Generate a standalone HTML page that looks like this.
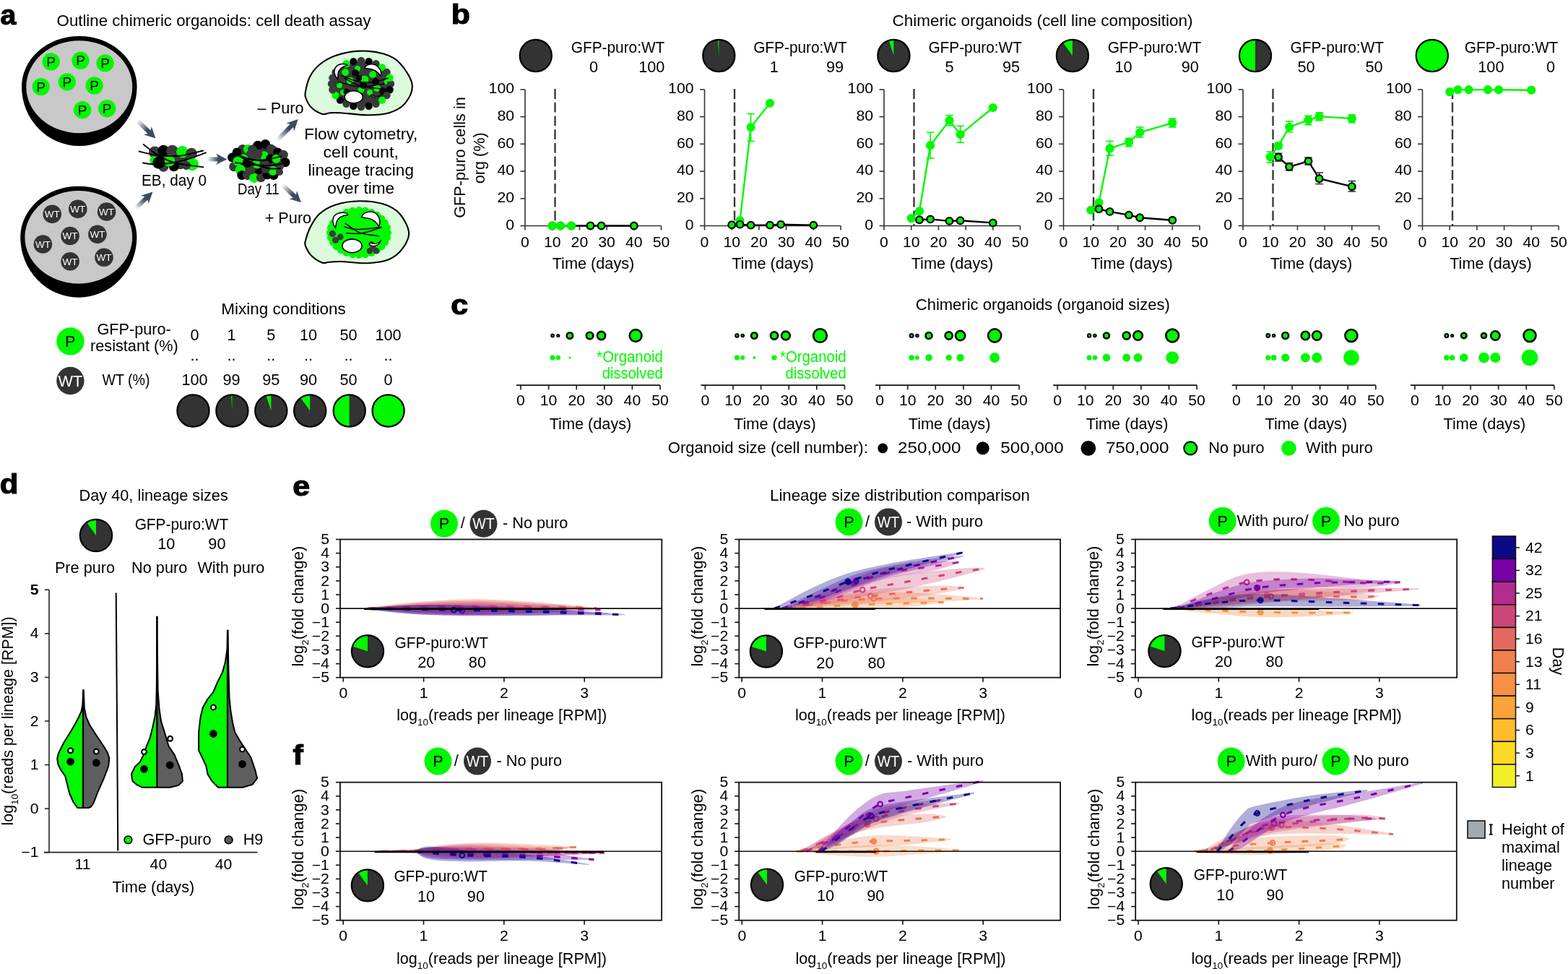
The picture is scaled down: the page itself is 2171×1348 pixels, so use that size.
<!DOCTYPE html>
<html><head><meta charset="utf-8"><title>Chimeric organoids figure</title>
<style>html,body{margin:0;padding:0;background:#fff;overflow:hidden}svg{display:block}text{font-family:'Liberation Sans', Arial, sans-serif}</style>
</head><body>
<svg width="2171" height="1348" viewBox="0 0 2171 1348" font-family="'Liberation Sans', Arial, sans-serif" fill="#000">
<rect width="2171" height="1348" fill="#fff"/>
<text x="0.5" y="34" font-size="39" font-weight="bold" stroke="#000" stroke-width="1.2">a</text>
<text x="78.6" y="36.2" font-size="21.9" textLength="435" lengthAdjust="spacingAndGlyphs">Outline chimeric organoids: cell death assay</text>
<path d="M30,120 A79.8,70 0 0 1 189.6,120 A79.8,82 0 0 1 30,120 Z" fill="#000"/>
<ellipse cx="109.8" cy="120.2" rx="73.5" ry="64" fill="#c8c8c8"/>
<circle cx="70.7" cy="85.4" r="12.2" fill="#00f800"/>
<text x="70.7" y="92" font-size="19" text-anchor="middle">P</text>
<circle cx="111.5" cy="83.8" r="12.2" fill="#00f800"/>
<text x="111.5" y="90.4" font-size="19" text-anchor="middle">P</text>
<circle cx="145.5" cy="87.4" r="12.2" fill="#00f800"/>
<text x="145.5" y="94" font-size="19" text-anchor="middle">P</text>
<circle cx="56.7" cy="120.1" r="12.2" fill="#00f800"/>
<text x="56.7" y="126.7" font-size="19" text-anchor="middle">P</text>
<circle cx="92.8" cy="113.4" r="12.2" fill="#00f800"/>
<text x="92.8" y="120" font-size="19" text-anchor="middle">P</text>
<circle cx="130.6" cy="118.5" r="12.2" fill="#00f800"/>
<text x="130.6" y="125.1" font-size="19" text-anchor="middle">P</text>
<circle cx="114.1" cy="152.2" r="12.2" fill="#00f800"/>
<text x="114.1" y="158.8" font-size="19" text-anchor="middle">P</text>
<circle cx="148.2" cy="150.2" r="12.2" fill="#00f800"/>
<text x="148.2" y="156.8" font-size="19" text-anchor="middle">P</text>
<path d="M28.2,328.2 A80.6,70.5 0 0 1 189.4,328.2 A80.6,83.5 0 0 1 28.2,328.2 Z" fill="#000"/>
<ellipse cx="108.8" cy="328.2" rx="74.4" ry="64.2" fill="#c8c8c8"/>
<circle cx="72.2" cy="296.3" r="12.8" fill="#333333"/>
<text x="72.2" y="301.1" font-size="13.5" text-anchor="middle" fill="#fff">WT</text>
<circle cx="107.8" cy="289.2" r="12.8" fill="#333333"/>
<text x="107.8" y="294" font-size="13.5" text-anchor="middle" fill="#fff">WT</text>
<circle cx="147.6" cy="293" r="12.8" fill="#333333"/>
<text x="147.6" y="297.8" font-size="13.5" text-anchor="middle" fill="#fff">WT</text>
<circle cx="59.4" cy="338" r="12.8" fill="#333333"/>
<text x="59.4" y="342.8" font-size="13.5" text-anchor="middle" fill="#fff">WT</text>
<circle cx="97.1" cy="326.5" r="12.8" fill="#333333"/>
<text x="97.1" y="331.3" font-size="13.5" text-anchor="middle" fill="#fff">WT</text>
<circle cx="134.9" cy="324.2" r="12.8" fill="#333333"/>
<text x="134.9" y="329" font-size="13.5" text-anchor="middle" fill="#fff">WT</text>
<circle cx="97.1" cy="361.8" r="12.8" fill="#333333"/>
<text x="97.1" y="366.6" font-size="13.5" text-anchor="middle" fill="#fff">WT</text>
<circle cx="144" cy="356.2" r="12.8" fill="#333333"/>
<text x="144" y="361" font-size="13.5" text-anchor="middle" fill="#fff">WT</text>
<linearGradient id="ga1" gradientUnits="userSpaceOnUse" x1="190" y1="166.6" x2="204" y2="180.3"><stop offset="0" stop-color="#fff"/><stop offset="1" stop-color="#3e4a60"/></linearGradient>
<path d="M187.9,168.7 L204.4,184.9 L198.9,186.2 L215.4,191.5 L209.8,175.1 L208.6,180.6 L192.1,164.5Z" fill="url(#ga1)"/>
<linearGradient id="ga2" gradientUnits="userSpaceOnUse" x1="187.7" y1="288.2" x2="200.8" y2="275.8"><stop offset="0" stop-color="#fff"/><stop offset="1" stop-color="#3e4a60"/></linearGradient>
<path d="M189.8,290.4 L204.5,276.4 L205.6,281.9 L211.5,265.6 L194.9,270.7 L200.4,272 L185.6,286Z" fill="url(#ga2)"/>
<linearGradient id="ga3" gradientUnits="userSpaceOnUse" x1="286.7" y1="220.2" x2="301.9" y2="220.4"><stop offset="0" stop-color="#fff"/><stop offset="1" stop-color="#3e4a60"/></linearGradient>
<path d="M286.7,223.2 L301.8,223.4 L298.7,228.1 L314.3,220.6 L298.9,212.6 L301.8,217.4 L286.7,217.2Z" fill="url(#ga3)"/>
<linearGradient id="ga4" gradientUnits="userSpaceOnUse" x1="383.4" y1="194.3" x2="399.5" y2="178.2"><stop offset="0" stop-color="#fff"/><stop offset="1" stop-color="#3e4a60"/></linearGradient>
<path d="M385.5,196.4 L406,176 L407.2,181.4 L412.7,165 L396.3,170.5 L401.7,171.7 L381.3,192.2Z" fill="url(#ga4)"/>
<linearGradient id="ga5" gradientUnits="userSpaceOnUse" x1="391" y1="255.8" x2="405.3" y2="269.3"><stop offset="0" stop-color="#fff"/><stop offset="1" stop-color="#3e4a60"/></linearGradient>
<path d="M388.9,258 L405.8,273.9 L400.4,275.3 L417,280.3 L411,264 L410,269.5 L393.1,253.6Z" fill="url(#ga5)"/>
<ellipse cx="240" cy="220" rx="26" ry="11" fill="#3a3a3a"/>
<circle cx="214.3" cy="210.9" r="8.3" fill="#3a3a3a"/>
<circle cx="226.4" cy="208.6" r="7.8" fill="#000"/>
<circle cx="238.6" cy="209.2" r="8.5" fill="#3a3a3a"/>
<circle cx="252.4" cy="210.3" r="8.2" fill="#00f800"/>
<circle cx="265.1" cy="212.5" r="7.8" fill="#3a3a3a"/>
<circle cx="213.2" cy="221.9" r="6" fill="#00f800"/>
<circle cx="249.6" cy="226.3" r="8" fill="#3a3a3a"/>
<circle cx="226.4" cy="230.7" r="7" fill="#3a3a3a"/>
<circle cx="240.8" cy="230.2" r="7" fill="#000"/>
<circle cx="234.2" cy="222.5" r="8" fill="#00f800"/>
<circle cx="219.8" cy="225.2" r="8.5" fill="#000"/>
<circle cx="266.2" cy="227.4" r="8.8" fill="#00f800"/>
<circle cx="258" cy="229" r="6" fill="#3a3a3a"/>
<path d="M198.7,199.9 C201.8,202.2 210.4,209.6 217.4,213.8 C224.4,218 230,222.1 240.7,225 C251.3,227.9 274.5,230.2 281.3,231.3" fill="none" stroke="#000" stroke-width="1.9" stroke-linecap="round"/>
<path d="M192.6,209.5 C196.7,210.4 208.1,213.8 217.4,214.8 C226.7,215.9 237.7,216.9 248.3,215.8 C258.9,214.8 275.8,209.7 281.3,208.5" fill="none" stroke="#000" stroke-width="1.9" stroke-linecap="round"/>
<path d="M197.9,225.5 C200.8,225.8 208.3,227.6 215.4,227.5 C222.5,227.4 232.3,226.5 240.7,225 C249.1,223.5 258.6,220.7 266,218.4 C273.4,216.1 281.7,212.5 284.8,211.3" fill="none" stroke="#000" stroke-width="1.9" stroke-linecap="round"/>
<text x="196" y="256.7" font-size="21.7" textLength="90" lengthAdjust="spacingAndGlyphs">EB, day 0</text>
<ellipse cx="358" cy="223" rx="36" ry="23" fill="#3a3a3a"/>
<circle cx="356.9" cy="201.5" r="6.8" fill="#000"/>
<circle cx="367.4" cy="199.8" r="6.8" fill="#000"/>
<circle cx="335.9" cy="206.4" r="6.5" fill="#3a3a3a"/>
<circle cx="343.6" cy="206.4" r="6.5" fill="#00f800"/>
<circle cx="349.5" cy="207" r="6.5" fill="#3a3a3a"/>
<circle cx="375" cy="206" r="6.5" fill="#3a3a3a"/>
<circle cx="328.1" cy="210.9" r="6.5" fill="#000"/>
<circle cx="321.5" cy="218" r="6.5" fill="#000"/>
<circle cx="379" cy="208.5" r="6.5" fill="#3a3a3a"/>
<circle cx="384.5" cy="210.9" r="6.5" fill="#000"/>
<circle cx="392.3" cy="214.2" r="6.5" fill="#3a3a3a"/>
<circle cx="395" cy="224.7" r="6.5" fill="#000"/>
<circle cx="386.7" cy="229.6" r="6.5" fill="#3a3a3a"/>
<circle cx="323.7" cy="230.7" r="6.5" fill="#3a3a3a"/>
<circle cx="332.6" cy="235.2" r="7" fill="#00f800"/>
<circle cx="334.8" cy="242.4" r="6.5" fill="#000"/>
<circle cx="342.5" cy="242.4" r="6.5" fill="#3a3a3a"/>
<circle cx="351.9" cy="246.2" r="6.8" fill="#00f800"/>
<circle cx="361.3" cy="245.7" r="6.5" fill="#3a3a3a"/>
<circle cx="370.1" cy="241.8" r="6.5" fill="#000"/>
<circle cx="379" cy="242.4" r="6.5" fill="#000"/>
<circle cx="377.9" cy="236.3" r="6.5" fill="#00f800"/>
<circle cx="358" cy="235.2" r="6" fill="#000"/>
<circle cx="348" cy="235.2" r="6" fill="#3a3a3a"/>
<circle cx="365.7" cy="215.3" r="6" fill="#00f800"/>
<circle cx="356.9" cy="213.1" r="6.5" fill="#3a3a3a"/>
<circle cx="347" cy="214" r="6.5" fill="#3a3a3a"/>
<circle cx="337" cy="219.7" r="6.5" fill="#00f800"/>
<circle cx="342.5" cy="225.2" r="6.5" fill="#000"/>
<circle cx="351" cy="222" r="6.5" fill="#3a3a3a"/>
<circle cx="356" cy="227" r="6.5" fill="#00f800"/>
<circle cx="374.6" cy="219.7" r="6.5" fill="#000"/>
<circle cx="382.3" cy="219.7" r="6" fill="#00f800"/>
<circle cx="366" cy="226" r="6.5" fill="#3a3a3a"/>
<circle cx="329" cy="223" r="6.5" fill="#00f800"/>
<circle cx="368" cy="234" r="6" fill="#3a3a3a"/>
<circle cx="387" cy="238" r="5" fill="#3a3a3a"/>
<path d="M327,213 C330,214.2 338.7,218.5 345,220 C351.3,221.5 357.5,222.7 365,222 C372.5,221.3 385.8,217 390,216" fill="none" stroke="#000" stroke-width="2"/>
<path d="M325,225 C329.2,225.5 341.7,227.3 350,228 C358.3,228.7 367.8,229.3 375,229 C382.2,228.7 390,226.5 393,226" fill="none" stroke="#000" stroke-width="2"/>
<path d="M330,215 C333.3,216.8 343,223 350,226 C357,229 365.5,231.8 372,233 C378.5,234.2 386.2,233 389,233" fill="none" stroke="#000" stroke-width="2"/>
<text x="329" y="269.3" font-size="21.7" textLength="57.5" lengthAdjust="spacingAndGlyphs">Day 11</text>
<path d="M423,126.6 C423.9,121.8 425.7,112.7 428.9,106.5 C432.1,100.3 436.4,94.4 442.3,89.5 C448.2,84.6 455.2,80.1 464.5,76.9 C473.8,73.8 486.8,71 497.9,70.6 C509,70.2 522,71.8 531.3,74.6 C540.6,77.4 547,80.2 553.5,87.3 C560,94.3 569.4,107.6 570.6,116.9 C571.9,126.2 566.3,136.4 561,142.9 C555.7,149.4 547.4,153.5 538.7,156.2 C530,158.9 520.1,159.2 509,159.2 C497.9,159.2 480.5,156.7 471.9,156.2 C463.2,155.7 461.4,155.9 457.1,156.2 C452.8,156.4 450.3,158.9 446,157.7 C441.7,156.5 434.9,152.5 431.1,148.8 C427.3,145.1 424.7,139.2 423.3,135.5 C421.9,131.8 422.1,131.4 423,126.6Z" fill="#dcfadc" stroke="#000" stroke-width="2.1"/>
<path d="M423,333.1 C424.1,328.8 426.4,320.7 429.6,314.5 C432.8,308.3 436.5,301.2 442.3,296 C448.1,290.8 455.2,286.4 464.5,283.4 C473.8,280.4 486.8,278.3 497.9,278.2 C509,278.1 522,279.6 531.3,282.6 C540.6,285.6 547.7,289.4 553.5,296 C559.3,302.6 565.5,313.9 566.1,321.9 C566.7,329.9 561.8,338 557.2,344.2 C552.6,350.4 546.7,355.7 538.7,359 C530.7,362.3 520.1,363.7 509,364.2 C497.9,364.7 480.8,362.2 471.9,362 C463,361.8 459.9,362.4 455.6,362.7 C451.3,362.9 450.1,365 446,363.5 C441.9,362 434.9,357.6 431.1,353.8 C427.3,350 424.4,343.9 423,340.5 C421.6,337.1 421.9,337.4 423,333.1Z" fill="#dcfadc" stroke="#000" stroke-width="2.1"/>
<ellipse cx="500" cy="116" rx="40" ry="31" fill="#3a3a3a"/>
<circle cx="478" cy="100" r="5" fill="#00f800"/>
<circle cx="495" cy="95" r="4" fill="#00f800"/>
<circle cx="505" cy="110" r="5.5" fill="#00f800"/>
<circle cx="485" cy="112" r="5" fill="#00f800"/>
<circle cx="516" cy="103" r="5" fill="#00f800"/>
<circle cx="470" cy="118" r="4" fill="#00f800"/>
<circle cx="500" cy="124" r="4.5" fill="#00f800"/>
<circle cx="522" cy="122" r="5" fill="#00f800"/>
<circle cx="512" cy="128" r="4" fill="#00f800"/>
<circle cx="475" cy="128" r="4" fill="#00f800"/>
<circle cx="536" cy="113" r="4" fill="#00f800"/>
<circle cx="492" cy="101" r="5" fill="#000"/>
<circle cx="510" cy="96" r="5" fill="#3a3a3a"/>
<circle cx="488" cy="120" r="5" fill="#3a3a3a"/>
<circle cx="503" cy="118" r="5" fill="#000"/>
<circle cx="520" cy="113" r="5" fill="#000"/>
<circle cx="465" cy="112" r="5" fill="#3a3a3a"/>
<circle cx="497" cy="108" r="4" fill="#000"/>
<circle cx="530" cy="126" r="5" fill="#000"/>
<circle cx="480" cy="127" r="4.5" fill="#000"/>
<circle cx="512" cy="120" r="4" fill="#3a3a3a"/>
<circle cx="541" cy="116" r="5.2" fill="#3a3a3a"/>
<circle cx="539.6" cy="124.3" r="5.2" fill="#000"/>
<circle cx="535.5" cy="132" r="5.2" fill="#3a3a3a"/>
<circle cx="529" cy="138.6" r="5.2" fill="#00f800"/>
<circle cx="520.5" cy="143.7" r="5.2" fill="#3a3a3a"/>
<circle cx="510.6" cy="146.9" r="5.2" fill="#000"/>
<circle cx="500" cy="148" r="5.2" fill="#3a3a3a"/>
<circle cx="489.4" cy="146.9" r="5.2" fill="#000"/>
<circle cx="479.5" cy="143.7" r="5.2" fill="#3a3a3a"/>
<circle cx="471" cy="138.6" r="5.2" fill="#000"/>
<circle cx="464.5" cy="132" r="5.2" fill="#00f800"/>
<circle cx="460.4" cy="124.3" r="5.2" fill="#3a3a3a"/>
<circle cx="459" cy="116" r="5.2" fill="#3a3a3a"/>
<circle cx="460.4" cy="107.7" r="5.2" fill="#3a3a3a"/>
<circle cx="464.5" cy="100" r="5.2" fill="#3a3a3a"/>
<circle cx="471" cy="93.4" r="5.2" fill="#3a3a3a"/>
<circle cx="479.5" cy="88.3" r="5.2" fill="#00f800"/>
<circle cx="489.4" cy="85.1" r="5.2" fill="#000"/>
<circle cx="500" cy="84" r="5.2" fill="#3a3a3a"/>
<circle cx="510.6" cy="85.1" r="5.2" fill="#000"/>
<circle cx="520.5" cy="88.3" r="5.2" fill="#3a3a3a"/>
<circle cx="529" cy="93.4" r="5.2" fill="#00f800"/>
<circle cx="535.5" cy="100" r="5.2" fill="#3a3a3a"/>
<circle cx="539.6" cy="107.7" r="5.2" fill="#00f800"/>
<path d="M472,104 C475.3,105.3 484.8,110.3 492,112 C499.2,113.7 507.3,114.7 515,114 C522.7,113.3 534.2,109 538,108" fill="none" stroke="#000" stroke-width="1.4"/>
<path d="M468,113 C473,114.2 487.3,119.5 498,120 C508.7,120.5 526.3,116.7 532,116" fill="none" stroke="#000" stroke-width="1.4"/>
<path d="M476,108 C480,109.8 491,116.5 500,119 C509,121.5 525,122.3 530,123" fill="none" stroke="#000" stroke-width="1.4"/>
<ellipse cx="489.7" cy="134.3" rx="12.6" ry="8.6" fill="#fff" stroke="#000" stroke-width="1.6"/>
<path d="M467.5,109.5 C460,101 462,91 471.9,88.7 C476,88 480,89 480.8,90.2 C474,92 469,96 468,102 Z" fill="#fff" stroke="#000" stroke-width="1.5"/>
<path d="M505.3,93.2 C510,87 520,87 525.3,94.7 C528,98 528,102 526.8,105 C523,99 518,95 505.3,94.5 Z" fill="#fff" stroke="#000" stroke-width="1.5"/>
<path d="M513.5,131.8 C518,137 526,136 529.8,129.5 C526,134 519,135 515,131 Z" fill="#fff" stroke="#000" stroke-width="1.2"/>
<ellipse cx="497" cy="322" rx="40" ry="31" fill="#00f800"/>
<circle cx="537" cy="322" r="5" fill="#00f800"/>
<circle cx="536" cy="328.9" r="5" fill="#00f800"/>
<circle cx="533" cy="335.5" r="5" fill="#00f800"/>
<circle cx="528.3" cy="341.3" r="5" fill="#00f800"/>
<circle cx="521.9" cy="346.2" r="5" fill="#00f800"/>
<circle cx="514.4" cy="349.9" r="5" fill="#00f800"/>
<circle cx="505.9" cy="352.2" r="5" fill="#00f800"/>
<circle cx="497" cy="353" r="5" fill="#00f800"/>
<circle cx="488.1" cy="352.2" r="5" fill="#00f800"/>
<circle cx="479.6" cy="349.9" r="5" fill="#00f800"/>
<circle cx="472.1" cy="346.2" r="5" fill="#00f800"/>
<circle cx="465.7" cy="341.3" r="5" fill="#00f800"/>
<circle cx="461" cy="335.5" r="5" fill="#00f800"/>
<circle cx="458" cy="328.9" r="5" fill="#00f800"/>
<circle cx="457" cy="322" r="5" fill="#00f800"/>
<circle cx="458" cy="315.1" r="5" fill="#00f800"/>
<circle cx="461" cy="308.5" r="5" fill="#00f800"/>
<circle cx="465.7" cy="302.7" r="5" fill="#00f800"/>
<circle cx="472.1" cy="297.8" r="5" fill="#00f800"/>
<circle cx="479.6" cy="294.1" r="5" fill="#00f800"/>
<circle cx="488.1" cy="291.8" r="5" fill="#00f800"/>
<circle cx="497" cy="291" r="5" fill="#00f800"/>
<circle cx="505.9" cy="291.8" r="5" fill="#00f800"/>
<circle cx="514.4" cy="294.1" r="5" fill="#00f800"/>
<circle cx="521.9" cy="297.8" r="5" fill="#00f800"/>
<circle cx="528.3" cy="302.7" r="5" fill="#00f800"/>
<circle cx="533" cy="308.5" r="5" fill="#00f800"/>
<circle cx="536" cy="315.1" r="5" fill="#00f800"/>
<circle cx="460.4" cy="323.4" r="4.6" fill="#3a3a3a"/>
<circle cx="464.5" cy="332.3" r="4.6" fill="#3a3a3a"/>
<circle cx="471.2" cy="327.9" r="4.3" fill="#3a3a3a"/>
<circle cx="514.2" cy="337.5" r="3.6" fill="#3a3a3a"/>
<circle cx="512" cy="347.1" r="4.4" fill="#3a3a3a"/>
<circle cx="520.9" cy="347.1" r="4.4" fill="#3a3a3a"/>
<circle cx="516.5" cy="343" r="4" fill="#3a3a3a"/>
<path d="M477.9,308.9 C481.2,311.1 490.1,318.9 497.9,321.9 C505.7,324.9 520.1,326 524.6,326.8" fill="none" stroke="#000" stroke-width="1.5"/>
<path d="M476.4,313.8 C479.4,314.4 485.6,317.4 494.2,317.5 C502.8,317.6 522.6,315 528.3,314.5" fill="none" stroke="#000" stroke-width="1.5"/>
<path d="M479.3,322.7 C483,322.7 493.4,324.1 501.6,322.7 C509.8,321.3 523.8,315.9 528.3,314.5" fill="none" stroke="#000" stroke-width="1.5"/>
<ellipse cx="487.5" cy="340.3" rx="13.5" ry="9.4" fill="#fff" stroke="#000" stroke-width="1.6"/>
<path d="M464.5,315.3 C458,306 460,296 471.9,294.5 C477,294 481,295 481.6,297.4 C475,298 468,301 466,307 Z" fill="#fff" stroke="#000" stroke-width="1.5"/>
<path d="M500.5,300.4 C503,293 516,290 522.4,297 C527,303 526,310 524.6,313.8 C521,306 514,302 505,301.5 Z" fill="#fff" stroke="#000" stroke-width="1.5"/>
<path d="M511.2,338.2 C517,343 525,340 527.6,332.3 C525,337 518,339 513,336 Z" fill="#fff" stroke="#000" stroke-width="1.2"/>
<text x="420.5" y="157.3" font-size="21.7" text-anchor="end">– Puro</text>
<text x="431.2" y="309.2" font-size="21.7" text-anchor="end">+ Puro</text>
<text x="499.7" y="192.9" font-size="21.7" text-anchor="middle" textLength="157" lengthAdjust="spacingAndGlyphs">Flow cytometry,</text>
<text x="499.7" y="217.8" font-size="21.7" text-anchor="middle" textLength="104.5" lengthAdjust="spacingAndGlyphs">cell count,</text>
<text x="499.7" y="242.8" font-size="21.7" text-anchor="middle" textLength="146.5" lengthAdjust="spacingAndGlyphs">lineage tracing</text>
<text x="499.7" y="267.8" font-size="21.7" text-anchor="middle" textLength="93" lengthAdjust="spacingAndGlyphs">over time</text>
<text x="392.5" y="435.3" font-size="21.7" text-anchor="middle" textLength="172.5" lengthAdjust="spacingAndGlyphs">Mixing conditions</text>
<circle cx="97.4" cy="472.4" r="19.2" fill="#00f800"/>
<text x="97.3" y="480.2" font-size="21.7" text-anchor="middle">P</text>
<circle cx="97.4" cy="527" r="19.2" fill="#333333"/>
<text x="97.3" y="534.6" font-size="21.7" text-anchor="middle" fill="#fff">WT</text>
<text x="185.6" y="462.9" font-size="21.7" text-anchor="middle">GFP-puro-</text>
<text x="185.9" y="486.4" font-size="21.7" text-anchor="middle">resistant (%)</text>
<text x="174.5" y="532.8" font-size="21.7" text-anchor="middle" textLength="66" lengthAdjust="spacingAndGlyphs">WT (%)</text>
<text x="269.5" y="471.2" font-size="21.7" text-anchor="middle">0</text>
<text x="269.5" y="499.4" font-size="21.7" text-anchor="middle">..</text>
<text x="269.5" y="532.8" font-size="21.7" text-anchor="middle">100</text>
<text x="320.6" y="471.2" font-size="21.7" text-anchor="middle">1</text>
<text x="320.6" y="499.4" font-size="21.7" text-anchor="middle">..</text>
<text x="320.6" y="532.8" font-size="21.7" text-anchor="middle">99</text>
<text x="375.3" y="471.2" font-size="21.7" text-anchor="middle">5</text>
<text x="375.3" y="499.4" font-size="21.7" text-anchor="middle">..</text>
<text x="375.3" y="532.8" font-size="21.7" text-anchor="middle">95</text>
<text x="427" y="471.2" font-size="21.7" text-anchor="middle">10</text>
<text x="427" y="499.4" font-size="21.7" text-anchor="middle">..</text>
<text x="427" y="532.8" font-size="21.7" text-anchor="middle">90</text>
<text x="482.5" y="471.2" font-size="21.7" text-anchor="middle">50</text>
<text x="482.5" y="499.4" font-size="21.7" text-anchor="middle">..</text>
<text x="482.5" y="532.8" font-size="21.7" text-anchor="middle">50</text>
<text x="537.6" y="471.2" font-size="21.7" text-anchor="middle">100</text>
<text x="537.6" y="499.4" font-size="21.7" text-anchor="middle">..</text>
<text x="537.6" y="532.8" font-size="21.7" text-anchor="middle">0</text>
<circle cx="267.5" cy="568.5" r="22.1" fill="#333333"/>
<circle cx="267.5" cy="568.5" r="22.1" fill="none" stroke="#000" stroke-width="2.2"/>
<circle cx="321.4" cy="568.5" r="22.1" fill="#333333"/>
<path d="M321.4,568.5 L321.4,546.4 A22.1,22.1 0 0 0 320,546.4 Z" fill="#00f800"/>
<circle cx="321.4" cy="568.5" r="22.1" fill="none" stroke="#000" stroke-width="2.2"/>
<circle cx="375.3" cy="568.5" r="22.1" fill="#333333"/>
<path d="M375.3,568.5 L375.3,546.4 A22.1,22.1 0 0 0 368.5,547.5 Z" fill="#00f800"/>
<circle cx="375.3" cy="568.5" r="22.1" fill="none" stroke="#000" stroke-width="2.2"/>
<circle cx="429.2" cy="568.5" r="22.1" fill="#333333"/>
<path d="M429.2,568.5 L429.2,546.4 A22.1,22.1 0 0 0 416.2,550.6 Z" fill="#00f800"/>
<circle cx="429.2" cy="568.5" r="22.1" fill="none" stroke="#000" stroke-width="2.2"/>
<circle cx="483.7" cy="568.5" r="22.1" fill="#333333"/>
<path d="M483.7,568.5 L483.7,546.4 A22.1,22.1 0 0 0 483.7,590.6 Z" fill="#00f800"/>
<circle cx="483.7" cy="568.5" r="22.1" fill="none" stroke="#000" stroke-width="2.2"/>
<circle cx="537.6" cy="568.5" r="22.1" fill="#333333"/>
<circle cx="537.6" cy="568.5" r="22.1" fill="#00f800"/>
<circle cx="537.6" cy="568.5" r="22.1" fill="none" stroke="#000" stroke-width="2.2"/>
<text transform="translate(624.8,33.2) scale(1.1,1)" font-size="39" font-weight="bold" stroke="#000" stroke-width="1.2">b</text>
<text x="1235.6" y="35.6" font-size="21.9" textLength="416" lengthAdjust="spacingAndGlyphs">Chimeric organoids (cell line composition)</text>
<circle cx="741.8" cy="77" r="22.1" fill="#333333"/>
<circle cx="741.8" cy="77" r="22.1" fill="none" stroke="#000" stroke-width="2.2"/>
<text x="790.8" y="73" font-size="21.7" textLength="129.5" lengthAdjust="spacingAndGlyphs">GFP-puro:WT</text>
<text x="822" y="99.9" font-size="21.7" text-anchor="middle">0</text>
<text x="920.4" y="99.9" font-size="21.7" text-anchor="end">100</text>
<circle cx="995.3" cy="77" r="22.1" fill="#333333"/>
<path d="M995.3,77 L995.3,54.9 A22.1,22.1 0 0 0 993.9,54.9 Z" fill="#00f800"/>
<circle cx="995.3" cy="77" r="22.1" fill="none" stroke="#000" stroke-width="2.2"/>
<text x="1043.2" y="73" font-size="21.7" textLength="129.5" lengthAdjust="spacingAndGlyphs">GFP-puro:WT</text>
<text x="1071.8" y="99.9" font-size="21.7" text-anchor="middle">1</text>
<text x="1168.2" y="99.9" font-size="21.7" text-anchor="end">99</text>
<circle cx="1237.4" cy="77" r="22.1" fill="#333333"/>
<path d="M1237.4,77 L1237.4,54.9 A22.1,22.1 0 0 0 1230.6,56 Z" fill="#00f800"/>
<circle cx="1237.4" cy="77" r="22.1" fill="none" stroke="#000" stroke-width="2.2"/>
<text x="1285.4" y="73" font-size="21.7" textLength="129.5" lengthAdjust="spacingAndGlyphs">GFP-puro:WT</text>
<text x="1314.5" y="99.9" font-size="21.7" text-anchor="middle">5</text>
<text x="1412.1" y="99.9" font-size="21.7" text-anchor="end">95</text>
<circle cx="1484.9" cy="77" r="22.1" fill="#333333"/>
<path d="M1484.9,77 L1484.9,54.9 A22.1,22.1 0 0 0 1471.9,59.1 Z" fill="#00f800"/>
<circle cx="1484.9" cy="77" r="22.1" fill="none" stroke="#000" stroke-width="2.2"/>
<text x="1533.7" y="73" font-size="21.7" textLength="129.5" lengthAdjust="spacingAndGlyphs">GFP-puro:WT</text>
<text x="1555.5" y="99.9" font-size="21.7" text-anchor="middle">10</text>
<text x="1659.8" y="99.9" font-size="21.7" text-anchor="end">90</text>
<circle cx="1738" cy="77" r="22.1" fill="#333333"/>
<path d="M1738,77 L1738,54.9 A22.1,22.1 0 0 0 1738,99.1 Z" fill="#00f800"/>
<circle cx="1738" cy="77" r="22.1" fill="none" stroke="#000" stroke-width="2.2"/>
<text x="1786.5" y="73" font-size="21.7" textLength="129.5" lengthAdjust="spacingAndGlyphs">GFP-puro:WT</text>
<text x="1808.6" y="99.9" font-size="21.7" text-anchor="middle">50</text>
<text x="1914.5" y="99.9" font-size="21.7" text-anchor="end">50</text>
<circle cx="1982.8" cy="77" r="22.1" fill="#333333"/>
<circle cx="1982.8" cy="77" r="22.1" fill="#00f800"/>
<circle cx="1982.8" cy="77" r="22.1" fill="none" stroke="#000" stroke-width="2.2"/>
<text x="2027.8" y="73" font-size="21.7" textLength="129.5" lengthAdjust="spacingAndGlyphs">GFP-puro:WT</text>
<text x="2064.4" y="99.9" font-size="21.7" text-anchor="middle">100</text>
<text x="2153" y="99.9" font-size="21.7" text-anchor="end">0</text>
<path d="M727,123.9 V312.5 H915.5" fill="none" stroke="#333" stroke-width="1.6"/>
<line x1="720.5" y1="312.5" x2="727" y2="312.5" stroke="#333" stroke-width="1.6" />
<text transform="translate(712,317.8) scale(1.1,1)" font-size="19.3" text-anchor="end">0</text>
<line x1="727" y1="312.5" x2="727" y2="318.5" stroke="#333" stroke-width="1.6" />
<text transform="translate(727,341.5) scale(1.1,1)" font-size="19.3" text-anchor="middle">0</text>
<line x1="720.5" y1="274.8" x2="727" y2="274.8" stroke="#333" stroke-width="1.6" />
<text transform="translate(712,280.1) scale(1.1,1)" font-size="19.3" text-anchor="end">20</text>
<line x1="764.7" y1="312.5" x2="764.7" y2="318.5" stroke="#333" stroke-width="1.6" />
<text transform="translate(764.7,341.5) scale(1.1,1)" font-size="19.3" text-anchor="middle">10</text>
<line x1="720.5" y1="237.1" x2="727" y2="237.1" stroke="#333" stroke-width="1.6" />
<text transform="translate(712,242.4) scale(1.1,1)" font-size="19.3" text-anchor="end">40</text>
<line x1="802.4" y1="312.5" x2="802.4" y2="318.5" stroke="#333" stroke-width="1.6" />
<text transform="translate(802.4,341.5) scale(1.1,1)" font-size="19.3" text-anchor="middle">20</text>
<line x1="720.5" y1="199.3" x2="727" y2="199.3" stroke="#333" stroke-width="1.6" />
<text transform="translate(712,204.6) scale(1.1,1)" font-size="19.3" text-anchor="end">60</text>
<line x1="840.1" y1="312.5" x2="840.1" y2="318.5" stroke="#333" stroke-width="1.6" />
<text transform="translate(840.1,341.5) scale(1.1,1)" font-size="19.3" text-anchor="middle">30</text>
<line x1="720.5" y1="161.6" x2="727" y2="161.6" stroke="#333" stroke-width="1.6" />
<text transform="translate(712,166.9) scale(1.1,1)" font-size="19.3" text-anchor="end">80</text>
<line x1="877.8" y1="312.5" x2="877.8" y2="318.5" stroke="#333" stroke-width="1.6" />
<text transform="translate(877.8,341.5) scale(1.1,1)" font-size="19.3" text-anchor="middle">40</text>
<line x1="720.5" y1="123.9" x2="727" y2="123.9" stroke="#333" stroke-width="1.6" />
<text transform="translate(712,129.2) scale(1.1,1)" font-size="19.3" text-anchor="end">100</text>
<line x1="915.5" y1="312.5" x2="915.5" y2="318.5" stroke="#333" stroke-width="1.6" />
<text transform="translate(915.5,341.5) scale(1.1,1)" font-size="19.3" text-anchor="middle">50</text>
<text x="821.5" y="372" font-size="21.7" text-anchor="middle">Time (days)</text>
<line x1="768.5" y1="123.1" x2="768.5" y2="312.5" stroke="#3a3a3a" stroke-width="2.4" stroke-dasharray="13.8,4.9"/>
<path d="M764.7,312.5 L776,312.5 L791.1,312.5 L817.5,312.5 L832.6,312.5 L877.8,312.5" fill="none" stroke="#000" stroke-width="2.4"/>
<circle cx="764.7" cy="312.5" r="4.8" fill="#00f800" stroke="#000" stroke-width="2.3"/>
<circle cx="776" cy="312.5" r="4.8" fill="#00f800" stroke="#000" stroke-width="2.3"/>
<circle cx="791.1" cy="312.5" r="4.8" fill="#00f800" stroke="#000" stroke-width="2.3"/>
<circle cx="817.5" cy="312.5" r="4.8" fill="#00f800" stroke="#000" stroke-width="2.3"/>
<circle cx="832.6" cy="312.5" r="4.8" fill="#00f800" stroke="#000" stroke-width="2.3"/>
<circle cx="877.8" cy="312.5" r="4.8" fill="#00f800" stroke="#000" stroke-width="2.3"/>
<path d="M764.7,312.5 L776,312.5 L791.1,312.5" fill="none" stroke="#00f800" stroke-width="2.4"/>
<circle cx="764.7" cy="312.5" r="6.1" fill="#00f800"/>
<circle cx="776" cy="312.5" r="6.1" fill="#00f800"/>
<circle cx="791.1" cy="312.5" r="6.1" fill="#00f800"/>
<path d="M975.5,123.9 V312.5 H1164" fill="none" stroke="#333" stroke-width="1.6"/>
<line x1="969" y1="312.5" x2="975.5" y2="312.5" stroke="#333" stroke-width="1.6" />
<text transform="translate(960.5,317.8) scale(1.1,1)" font-size="19.3" text-anchor="end">0</text>
<line x1="975.5" y1="312.5" x2="975.5" y2="318.5" stroke="#333" stroke-width="1.6" />
<text transform="translate(975.5,341.5) scale(1.1,1)" font-size="19.3" text-anchor="middle">0</text>
<line x1="969" y1="274.8" x2="975.5" y2="274.8" stroke="#333" stroke-width="1.6" />
<text transform="translate(960.5,280.1) scale(1.1,1)" font-size="19.3" text-anchor="end">20</text>
<line x1="1013.2" y1="312.5" x2="1013.2" y2="318.5" stroke="#333" stroke-width="1.6" />
<text transform="translate(1013.2,341.5) scale(1.1,1)" font-size="19.3" text-anchor="middle">10</text>
<line x1="969" y1="237.1" x2="975.5" y2="237.1" stroke="#333" stroke-width="1.6" />
<text transform="translate(960.5,242.4) scale(1.1,1)" font-size="19.3" text-anchor="end">40</text>
<line x1="1050.9" y1="312.5" x2="1050.9" y2="318.5" stroke="#333" stroke-width="1.6" />
<text transform="translate(1050.9,341.5) scale(1.1,1)" font-size="19.3" text-anchor="middle">20</text>
<line x1="969" y1="199.3" x2="975.5" y2="199.3" stroke="#333" stroke-width="1.6" />
<text transform="translate(960.5,204.6) scale(1.1,1)" font-size="19.3" text-anchor="end">60</text>
<line x1="1088.6" y1="312.5" x2="1088.6" y2="318.5" stroke="#333" stroke-width="1.6" />
<text transform="translate(1088.6,341.5) scale(1.1,1)" font-size="19.3" text-anchor="middle">30</text>
<line x1="969" y1="161.6" x2="975.5" y2="161.6" stroke="#333" stroke-width="1.6" />
<text transform="translate(960.5,166.9) scale(1.1,1)" font-size="19.3" text-anchor="end">80</text>
<line x1="1126.3" y1="312.5" x2="1126.3" y2="318.5" stroke="#333" stroke-width="1.6" />
<text transform="translate(1126.3,341.5) scale(1.1,1)" font-size="19.3" text-anchor="middle">40</text>
<line x1="969" y1="123.9" x2="975.5" y2="123.9" stroke="#333" stroke-width="1.6" />
<text transform="translate(960.5,129.2) scale(1.1,1)" font-size="19.3" text-anchor="end">100</text>
<line x1="1164" y1="312.5" x2="1164" y2="318.5" stroke="#333" stroke-width="1.6" />
<text transform="translate(1164,341.5) scale(1.1,1)" font-size="19.3" text-anchor="middle">50</text>
<text x="1070" y="372" font-size="21.7" text-anchor="middle">Time (days)</text>
<line x1="1017" y1="123.1" x2="1017" y2="312.5" stroke="#3a3a3a" stroke-width="2.4" stroke-dasharray="13.8,4.9"/>
<path d="M1024.5,305.3 L1039.6,176.1 L1066,142.8" fill="none" stroke="#00f800" stroke-width="2.4"/>
<line x1="1039.6" y1="195.4" x2="1039.6" y2="157.5" stroke="#00f800" stroke-width="1.6" />
<line x1="1034.3" y1="195.4" x2="1044.9" y2="195.4" stroke="#00f800" stroke-width="1.6" />
<line x1="1034.3" y1="157.5" x2="1044.9" y2="157.5" stroke="#00f800" stroke-width="1.6" />
<circle cx="1024.5" cy="305.3" r="6.1" fill="#00f800"/>
<circle cx="1039.6" cy="176.1" r="6.1" fill="#00f800"/>
<circle cx="1066" cy="142.8" r="6.1" fill="#00f800"/>
<path d="M1013.2,311.2 L1024.5,310.6 L1039.6,311.6 L1066,311.6 L1081.1,310.6 L1126.3,311.6" fill="none" stroke="#000" stroke-width="2.4"/>
<circle cx="1013.2" cy="311.2" r="4.8" fill="#00f800" stroke="#000" stroke-width="2.3"/>
<circle cx="1024.5" cy="310.6" r="4.8" fill="#00f800" stroke="#000" stroke-width="2.3"/>
<circle cx="1039.6" cy="311.6" r="4.8" fill="#00f800" stroke="#000" stroke-width="2.3"/>
<circle cx="1066" cy="311.6" r="4.8" fill="#00f800" stroke="#000" stroke-width="2.3"/>
<circle cx="1081.1" cy="310.6" r="4.8" fill="#00f800" stroke="#000" stroke-width="2.3"/>
<circle cx="1126.3" cy="311.6" r="4.8" fill="#00f800" stroke="#000" stroke-width="2.3"/>
<path d="M1224,123.9 V312.5 H1412.5" fill="none" stroke="#333" stroke-width="1.6"/>
<line x1="1217.5" y1="312.5" x2="1224" y2="312.5" stroke="#333" stroke-width="1.6" />
<text transform="translate(1209,317.8) scale(1.1,1)" font-size="19.3" text-anchor="end">0</text>
<line x1="1224" y1="312.5" x2="1224" y2="318.5" stroke="#333" stroke-width="1.6" />
<text transform="translate(1224,341.5) scale(1.1,1)" font-size="19.3" text-anchor="middle">0</text>
<line x1="1217.5" y1="274.8" x2="1224" y2="274.8" stroke="#333" stroke-width="1.6" />
<text transform="translate(1209,280.1) scale(1.1,1)" font-size="19.3" text-anchor="end">20</text>
<line x1="1261.7" y1="312.5" x2="1261.7" y2="318.5" stroke="#333" stroke-width="1.6" />
<text transform="translate(1261.7,341.5) scale(1.1,1)" font-size="19.3" text-anchor="middle">10</text>
<line x1="1217.5" y1="237.1" x2="1224" y2="237.1" stroke="#333" stroke-width="1.6" />
<text transform="translate(1209,242.4) scale(1.1,1)" font-size="19.3" text-anchor="end">40</text>
<line x1="1299.4" y1="312.5" x2="1299.4" y2="318.5" stroke="#333" stroke-width="1.6" />
<text transform="translate(1299.4,341.5) scale(1.1,1)" font-size="19.3" text-anchor="middle">20</text>
<line x1="1217.5" y1="199.3" x2="1224" y2="199.3" stroke="#333" stroke-width="1.6" />
<text transform="translate(1209,204.6) scale(1.1,1)" font-size="19.3" text-anchor="end">60</text>
<line x1="1337.1" y1="312.5" x2="1337.1" y2="318.5" stroke="#333" stroke-width="1.6" />
<text transform="translate(1337.1,341.5) scale(1.1,1)" font-size="19.3" text-anchor="middle">30</text>
<line x1="1217.5" y1="161.6" x2="1224" y2="161.6" stroke="#333" stroke-width="1.6" />
<text transform="translate(1209,166.9) scale(1.1,1)" font-size="19.3" text-anchor="end">80</text>
<line x1="1374.8" y1="312.5" x2="1374.8" y2="318.5" stroke="#333" stroke-width="1.6" />
<text transform="translate(1374.8,341.5) scale(1.1,1)" font-size="19.3" text-anchor="middle">40</text>
<line x1="1217.5" y1="123.9" x2="1224" y2="123.9" stroke="#333" stroke-width="1.6" />
<text transform="translate(1209,129.2) scale(1.1,1)" font-size="19.3" text-anchor="end">100</text>
<line x1="1412.5" y1="312.5" x2="1412.5" y2="318.5" stroke="#333" stroke-width="1.6" />
<text transform="translate(1412.5,341.5) scale(1.1,1)" font-size="19.3" text-anchor="middle">50</text>
<text x="1318.5" y="372" font-size="21.7" text-anchor="middle">Time (days)</text>
<line x1="1265.5" y1="123.1" x2="1265.5" y2="312.5" stroke="#3a3a3a" stroke-width="2.4" stroke-dasharray="13.8,4.9"/>
<path d="M1261.7,302.1 L1273,292.3 L1288.1,201.2 L1314.5,166.7 L1329.6,186.1 L1374.8,149" fill="none" stroke="#00f800" stroke-width="2.4"/>
<line x1="1288.1" y1="219" x2="1288.1" y2="183.3" stroke="#00f800" stroke-width="1.6" />
<line x1="1282.8" y1="219" x2="1293.4" y2="219" stroke="#00f800" stroke-width="1.6" />
<line x1="1282.8" y1="183.3" x2="1293.4" y2="183.3" stroke="#00f800" stroke-width="1.6" />
<line x1="1314.5" y1="173.7" x2="1314.5" y2="159.7" stroke="#00f800" stroke-width="1.6" />
<line x1="1309.2" y1="173.7" x2="1319.8" y2="173.7" stroke="#00f800" stroke-width="1.6" />
<line x1="1309.2" y1="159.7" x2="1319.8" y2="159.7" stroke="#00f800" stroke-width="1.6" />
<line x1="1329.6" y1="197.3" x2="1329.6" y2="174.4" stroke="#00f800" stroke-width="1.6" />
<line x1="1324.3" y1="197.3" x2="1334.9" y2="197.3" stroke="#00f800" stroke-width="1.6" />
<line x1="1324.3" y1="174.4" x2="1334.9" y2="174.4" stroke="#00f800" stroke-width="1.6" />
<circle cx="1261.7" cy="302.1" r="6.1" fill="#00f800"/>
<circle cx="1273" cy="292.3" r="6.1" fill="#00f800"/>
<circle cx="1288.1" cy="201.2" r="6.1" fill="#00f800"/>
<circle cx="1314.5" cy="166.7" r="6.1" fill="#00f800"/>
<circle cx="1329.6" cy="186.1" r="6.1" fill="#00f800"/>
<circle cx="1374.8" cy="149" r="6.1" fill="#00f800"/>
<path d="M1273,304.2 L1288.1,303.4 L1314.5,305.9 L1329.6,305.3 L1374.8,308.4" fill="none" stroke="#000" stroke-width="2.4"/>
<circle cx="1273" cy="304.2" r="4.8" fill="#00f800" stroke="#000" stroke-width="2.3"/>
<circle cx="1288.1" cy="303.4" r="4.8" fill="#00f800" stroke="#000" stroke-width="2.3"/>
<circle cx="1314.5" cy="305.9" r="4.8" fill="#00f800" stroke="#000" stroke-width="2.3"/>
<circle cx="1329.6" cy="305.3" r="4.8" fill="#00f800" stroke="#000" stroke-width="2.3"/>
<circle cx="1374.8" cy="308.4" r="4.8" fill="#00f800" stroke="#000" stroke-width="2.3"/>
<path d="M1472.5,123.9 V312.5 H1661" fill="none" stroke="#333" stroke-width="1.6"/>
<line x1="1466" y1="312.5" x2="1472.5" y2="312.5" stroke="#333" stroke-width="1.6" />
<text transform="translate(1457.5,317.8) scale(1.1,1)" font-size="19.3" text-anchor="end">0</text>
<line x1="1472.5" y1="312.5" x2="1472.5" y2="318.5" stroke="#333" stroke-width="1.6" />
<text transform="translate(1472.5,341.5) scale(1.1,1)" font-size="19.3" text-anchor="middle">0</text>
<line x1="1466" y1="274.8" x2="1472.5" y2="274.8" stroke="#333" stroke-width="1.6" />
<text transform="translate(1457.5,280.1) scale(1.1,1)" font-size="19.3" text-anchor="end">20</text>
<line x1="1510.2" y1="312.5" x2="1510.2" y2="318.5" stroke="#333" stroke-width="1.6" />
<text transform="translate(1510.2,341.5) scale(1.1,1)" font-size="19.3" text-anchor="middle">10</text>
<line x1="1466" y1="237.1" x2="1472.5" y2="237.1" stroke="#333" stroke-width="1.6" />
<text transform="translate(1457.5,242.4) scale(1.1,1)" font-size="19.3" text-anchor="end">40</text>
<line x1="1547.9" y1="312.5" x2="1547.9" y2="318.5" stroke="#333" stroke-width="1.6" />
<text transform="translate(1547.9,341.5) scale(1.1,1)" font-size="19.3" text-anchor="middle">20</text>
<line x1="1466" y1="199.3" x2="1472.5" y2="199.3" stroke="#333" stroke-width="1.6" />
<text transform="translate(1457.5,204.6) scale(1.1,1)" font-size="19.3" text-anchor="end">60</text>
<line x1="1585.6" y1="312.5" x2="1585.6" y2="318.5" stroke="#333" stroke-width="1.6" />
<text transform="translate(1585.6,341.5) scale(1.1,1)" font-size="19.3" text-anchor="middle">30</text>
<line x1="1466" y1="161.6" x2="1472.5" y2="161.6" stroke="#333" stroke-width="1.6" />
<text transform="translate(1457.5,166.9) scale(1.1,1)" font-size="19.3" text-anchor="end">80</text>
<line x1="1623.3" y1="312.5" x2="1623.3" y2="318.5" stroke="#333" stroke-width="1.6" />
<text transform="translate(1623.3,341.5) scale(1.1,1)" font-size="19.3" text-anchor="middle">40</text>
<line x1="1466" y1="123.9" x2="1472.5" y2="123.9" stroke="#333" stroke-width="1.6" />
<text transform="translate(1457.5,129.2) scale(1.1,1)" font-size="19.3" text-anchor="end">100</text>
<line x1="1661" y1="312.5" x2="1661" y2="318.5" stroke="#333" stroke-width="1.6" />
<text transform="translate(1661,341.5) scale(1.1,1)" font-size="19.3" text-anchor="middle">50</text>
<text x="1567" y="372" font-size="21.7" text-anchor="middle">Time (days)</text>
<line x1="1514" y1="123.1" x2="1514" y2="312.5" stroke="#3a3a3a" stroke-width="2.4" stroke-dasharray="13.8,4.9"/>
<path d="M1510.2,290.8 L1521.5,280.4 L1536.6,205.4 L1563,196.7 L1578.1,183.3 L1623.3,170.1" fill="none" stroke="#00f800" stroke-width="2.4"/>
<line x1="1536.6" y1="215.2" x2="1536.6" y2="195.4" stroke="#00f800" stroke-width="1.6" />
<line x1="1531.3" y1="215.2" x2="1541.9" y2="215.2" stroke="#00f800" stroke-width="1.6" />
<line x1="1531.3" y1="195.4" x2="1541.9" y2="195.4" stroke="#00f800" stroke-width="1.6" />
<line x1="1563" y1="202.7" x2="1563" y2="191.4" stroke="#00f800" stroke-width="1.6" />
<line x1="1557.7" y1="202.7" x2="1568.3" y2="202.7" stroke="#00f800" stroke-width="1.6" />
<line x1="1557.7" y1="191.4" x2="1568.3" y2="191.4" stroke="#00f800" stroke-width="1.6" />
<line x1="1578.1" y1="189.9" x2="1578.1" y2="176" stroke="#00f800" stroke-width="1.6" />
<line x1="1572.8" y1="189.9" x2="1583.4" y2="189.9" stroke="#00f800" stroke-width="1.6" />
<line x1="1572.8" y1="176" x2="1583.4" y2="176" stroke="#00f800" stroke-width="1.6" />
<line x1="1623.3" y1="176" x2="1623.3" y2="164.1" stroke="#00f800" stroke-width="1.6" />
<line x1="1618" y1="176" x2="1628.6" y2="176" stroke="#00f800" stroke-width="1.6" />
<line x1="1618" y1="164.1" x2="1628.6" y2="164.1" stroke="#00f800" stroke-width="1.6" />
<circle cx="1510.2" cy="290.8" r="6.1" fill="#00f800"/>
<circle cx="1521.5" cy="280.4" r="6.1" fill="#00f800"/>
<circle cx="1536.6" cy="205.4" r="6.1" fill="#00f800"/>
<circle cx="1563" cy="196.7" r="6.1" fill="#00f800"/>
<circle cx="1578.1" cy="183.3" r="6.1" fill="#00f800"/>
<circle cx="1623.3" cy="170.1" r="6.1" fill="#00f800"/>
<path d="M1521.5,289.3 L1536.6,292.9 L1563,297.6 L1578.1,301.2 L1623.3,304.8" fill="none" stroke="#000" stroke-width="2.4"/>
<circle cx="1521.5" cy="289.3" r="4.8" fill="#00f800" stroke="#000" stroke-width="2.3"/>
<circle cx="1536.6" cy="292.9" r="4.8" fill="#00f800" stroke="#000" stroke-width="2.3"/>
<circle cx="1563" cy="297.6" r="4.8" fill="#00f800" stroke="#000" stroke-width="2.3"/>
<circle cx="1578.1" cy="301.2" r="4.8" fill="#00f800" stroke="#000" stroke-width="2.3"/>
<circle cx="1623.3" cy="304.8" r="4.8" fill="#00f800" stroke="#000" stroke-width="2.3"/>
<path d="M1721,123.9 V312.5 H1909.5" fill="none" stroke="#333" stroke-width="1.6"/>
<line x1="1714.5" y1="312.5" x2="1721" y2="312.5" stroke="#333" stroke-width="1.6" />
<text transform="translate(1706,317.8) scale(1.1,1)" font-size="19.3" text-anchor="end">0</text>
<line x1="1721" y1="312.5" x2="1721" y2="318.5" stroke="#333" stroke-width="1.6" />
<text transform="translate(1721,341.5) scale(1.1,1)" font-size="19.3" text-anchor="middle">0</text>
<line x1="1714.5" y1="274.8" x2="1721" y2="274.8" stroke="#333" stroke-width="1.6" />
<text transform="translate(1706,280.1) scale(1.1,1)" font-size="19.3" text-anchor="end">20</text>
<line x1="1758.7" y1="312.5" x2="1758.7" y2="318.5" stroke="#333" stroke-width="1.6" />
<text transform="translate(1758.7,341.5) scale(1.1,1)" font-size="19.3" text-anchor="middle">10</text>
<line x1="1714.5" y1="237.1" x2="1721" y2="237.1" stroke="#333" stroke-width="1.6" />
<text transform="translate(1706,242.4) scale(1.1,1)" font-size="19.3" text-anchor="end">40</text>
<line x1="1796.4" y1="312.5" x2="1796.4" y2="318.5" stroke="#333" stroke-width="1.6" />
<text transform="translate(1796.4,341.5) scale(1.1,1)" font-size="19.3" text-anchor="middle">20</text>
<line x1="1714.5" y1="199.3" x2="1721" y2="199.3" stroke="#333" stroke-width="1.6" />
<text transform="translate(1706,204.6) scale(1.1,1)" font-size="19.3" text-anchor="end">60</text>
<line x1="1834.1" y1="312.5" x2="1834.1" y2="318.5" stroke="#333" stroke-width="1.6" />
<text transform="translate(1834.1,341.5) scale(1.1,1)" font-size="19.3" text-anchor="middle">30</text>
<line x1="1714.5" y1="161.6" x2="1721" y2="161.6" stroke="#333" stroke-width="1.6" />
<text transform="translate(1706,166.9) scale(1.1,1)" font-size="19.3" text-anchor="end">80</text>
<line x1="1871.8" y1="312.5" x2="1871.8" y2="318.5" stroke="#333" stroke-width="1.6" />
<text transform="translate(1871.8,341.5) scale(1.1,1)" font-size="19.3" text-anchor="middle">40</text>
<line x1="1714.5" y1="123.9" x2="1721" y2="123.9" stroke="#333" stroke-width="1.6" />
<text transform="translate(1706,129.2) scale(1.1,1)" font-size="19.3" text-anchor="end">100</text>
<line x1="1909.5" y1="312.5" x2="1909.5" y2="318.5" stroke="#333" stroke-width="1.6" />
<text transform="translate(1909.5,341.5) scale(1.1,1)" font-size="19.3" text-anchor="middle">50</text>
<text x="1815.5" y="372" font-size="21.7" text-anchor="middle">Time (days)</text>
<line x1="1762.5" y1="123.1" x2="1762.5" y2="312.5" stroke="#3a3a3a" stroke-width="2.4" stroke-dasharray="13.8,4.9"/>
<path d="M1758.7,217.3 L1770,201.8 L1785.1,175.8 L1811.5,166.1 L1826.6,161.1 L1871.8,164.1" fill="none" stroke="#00f800" stroke-width="2.4"/>
<line x1="1758.7" y1="225" x2="1758.7" y2="210.1" stroke="#00f800" stroke-width="1.6" />
<line x1="1753.4" y1="225" x2="1764" y2="225" stroke="#00f800" stroke-width="1.6" />
<line x1="1753.4" y1="210.1" x2="1764" y2="210.1" stroke="#00f800" stroke-width="1.6" />
<line x1="1770" y1="205.9" x2="1770" y2="197.6" stroke="#00f800" stroke-width="1.6" />
<line x1="1764.7" y1="205.9" x2="1775.3" y2="205.9" stroke="#00f800" stroke-width="1.6" />
<line x1="1764.7" y1="197.6" x2="1775.3" y2="197.6" stroke="#00f800" stroke-width="1.6" />
<line x1="1785.1" y1="182.7" x2="1785.1" y2="168" stroke="#00f800" stroke-width="1.6" />
<line x1="1779.8" y1="182.7" x2="1790.4" y2="182.7" stroke="#00f800" stroke-width="1.6" />
<line x1="1779.8" y1="168" x2="1790.4" y2="168" stroke="#00f800" stroke-width="1.6" />
<line x1="1811.5" y1="172.7" x2="1811.5" y2="160.3" stroke="#00f800" stroke-width="1.6" />
<line x1="1806.2" y1="172.7" x2="1816.8" y2="172.7" stroke="#00f800" stroke-width="1.6" />
<line x1="1806.2" y1="160.3" x2="1816.8" y2="160.3" stroke="#00f800" stroke-width="1.6" />
<line x1="1826.6" y1="166.7" x2="1826.6" y2="155.8" stroke="#00f800" stroke-width="1.6" />
<line x1="1821.3" y1="166.7" x2="1831.9" y2="166.7" stroke="#00f800" stroke-width="1.6" />
<line x1="1821.3" y1="155.8" x2="1831.9" y2="155.8" stroke="#00f800" stroke-width="1.6" />
<line x1="1871.8" y1="169.7" x2="1871.8" y2="158.8" stroke="#00f800" stroke-width="1.6" />
<line x1="1866.5" y1="169.7" x2="1877.1" y2="169.7" stroke="#00f800" stroke-width="1.6" />
<line x1="1866.5" y1="158.8" x2="1877.1" y2="158.8" stroke="#00f800" stroke-width="1.6" />
<circle cx="1758.7" cy="217.3" r="6.1" fill="#00f800"/>
<circle cx="1770" cy="201.8" r="6.1" fill="#00f800"/>
<circle cx="1785.1" cy="175.8" r="6.1" fill="#00f800"/>
<circle cx="1811.5" cy="166.1" r="6.1" fill="#00f800"/>
<circle cx="1826.6" cy="161.1" r="6.1" fill="#00f800"/>
<circle cx="1871.8" cy="164.1" r="6.1" fill="#00f800"/>
<path d="M1770,217.4 L1785.1,230.8 L1811.5,223.1 L1826.6,247.2 L1871.8,258.2" fill="none" stroke="#000" stroke-width="2.4"/>
<line x1="1770" y1="223.1" x2="1770" y2="212.2" stroke="#333" stroke-width="1.6" />
<line x1="1764.7" y1="223.1" x2="1775.3" y2="223.1" stroke="#333" stroke-width="1.6" />
<line x1="1764.7" y1="212.2" x2="1775.3" y2="212.2" stroke="#333" stroke-width="1.6" />
<line x1="1785.1" y1="235.9" x2="1785.1" y2="225.6" stroke="#333" stroke-width="1.6" />
<line x1="1779.8" y1="235.9" x2="1790.4" y2="235.9" stroke="#333" stroke-width="1.6" />
<line x1="1779.8" y1="225.6" x2="1790.4" y2="225.6" stroke="#333" stroke-width="1.6" />
<line x1="1811.5" y1="227.8" x2="1811.5" y2="218" stroke="#333" stroke-width="1.6" />
<line x1="1806.2" y1="227.8" x2="1816.8" y2="227.8" stroke="#333" stroke-width="1.6" />
<line x1="1806.2" y1="218" x2="1816.8" y2="218" stroke="#333" stroke-width="1.6" />
<line x1="1826.6" y1="254.6" x2="1826.6" y2="238.9" stroke="#333" stroke-width="1.6" />
<line x1="1821.3" y1="254.6" x2="1831.9" y2="254.6" stroke="#333" stroke-width="1.6" />
<line x1="1821.3" y1="238.9" x2="1831.9" y2="238.9" stroke="#333" stroke-width="1.6" />
<line x1="1871.8" y1="265" x2="1871.8" y2="250.6" stroke="#333" stroke-width="1.6" />
<line x1="1866.5" y1="265" x2="1877.1" y2="265" stroke="#333" stroke-width="1.6" />
<line x1="1866.5" y1="250.6" x2="1877.1" y2="250.6" stroke="#333" stroke-width="1.6" />
<circle cx="1770" cy="217.4" r="4.8" fill="#00f800" stroke="#000" stroke-width="2.3"/>
<circle cx="1785.1" cy="230.8" r="4.8" fill="#00f800" stroke="#000" stroke-width="2.3"/>
<circle cx="1811.5" cy="223.1" r="4.8" fill="#00f800" stroke="#000" stroke-width="2.3"/>
<circle cx="1826.6" cy="247.2" r="4.8" fill="#00f800" stroke="#000" stroke-width="2.3"/>
<circle cx="1871.8" cy="258.2" r="4.8" fill="#00f800" stroke="#000" stroke-width="2.3"/>
<path d="M1969.5,123.9 V312.5 H2158" fill="none" stroke="#333" stroke-width="1.6"/>
<line x1="1963" y1="312.5" x2="1969.5" y2="312.5" stroke="#333" stroke-width="1.6" />
<text transform="translate(1954.5,317.8) scale(1.1,1)" font-size="19.3" text-anchor="end">0</text>
<line x1="1969.5" y1="312.5" x2="1969.5" y2="318.5" stroke="#333" stroke-width="1.6" />
<text transform="translate(1969.5,341.5) scale(1.1,1)" font-size="19.3" text-anchor="middle">0</text>
<line x1="1963" y1="274.8" x2="1969.5" y2="274.8" stroke="#333" stroke-width="1.6" />
<text transform="translate(1954.5,280.1) scale(1.1,1)" font-size="19.3" text-anchor="end">20</text>
<line x1="2007.2" y1="312.5" x2="2007.2" y2="318.5" stroke="#333" stroke-width="1.6" />
<text transform="translate(2007.2,341.5) scale(1.1,1)" font-size="19.3" text-anchor="middle">10</text>
<line x1="1963" y1="237.1" x2="1969.5" y2="237.1" stroke="#333" stroke-width="1.6" />
<text transform="translate(1954.5,242.4) scale(1.1,1)" font-size="19.3" text-anchor="end">40</text>
<line x1="2044.9" y1="312.5" x2="2044.9" y2="318.5" stroke="#333" stroke-width="1.6" />
<text transform="translate(2044.9,341.5) scale(1.1,1)" font-size="19.3" text-anchor="middle">20</text>
<line x1="1963" y1="199.3" x2="1969.5" y2="199.3" stroke="#333" stroke-width="1.6" />
<text transform="translate(1954.5,204.6) scale(1.1,1)" font-size="19.3" text-anchor="end">60</text>
<line x1="2082.6" y1="312.5" x2="2082.6" y2="318.5" stroke="#333" stroke-width="1.6" />
<text transform="translate(2082.6,341.5) scale(1.1,1)" font-size="19.3" text-anchor="middle">30</text>
<line x1="1963" y1="161.6" x2="1969.5" y2="161.6" stroke="#333" stroke-width="1.6" />
<text transform="translate(1954.5,166.9) scale(1.1,1)" font-size="19.3" text-anchor="end">80</text>
<line x1="2120.3" y1="312.5" x2="2120.3" y2="318.5" stroke="#333" stroke-width="1.6" />
<text transform="translate(2120.3,341.5) scale(1.1,1)" font-size="19.3" text-anchor="middle">40</text>
<line x1="1963" y1="123.9" x2="1969.5" y2="123.9" stroke="#333" stroke-width="1.6" />
<text transform="translate(1954.5,129.2) scale(1.1,1)" font-size="19.3" text-anchor="end">100</text>
<line x1="2158" y1="312.5" x2="2158" y2="318.5" stroke="#333" stroke-width="1.6" />
<text transform="translate(2158,341.5) scale(1.1,1)" font-size="19.3" text-anchor="middle">50</text>
<text x="2064" y="372" font-size="21.7" text-anchor="middle">Time (days)</text>
<line x1="2011" y1="123.1" x2="2011" y2="312.5" stroke="#3a3a3a" stroke-width="2.4" stroke-dasharray="13.8,4.9"/>
<path d="M2007.2,127.1 L2018.5,124.1 L2033.6,124.1 L2060,124.1 L2075.1,124.3 L2120.3,124.7" fill="none" stroke="#00f800" stroke-width="2.4"/>
<circle cx="2007.2" cy="127.1" r="6.1" fill="#00f800"/>
<circle cx="2018.5" cy="124.1" r="6.1" fill="#00f800"/>
<circle cx="2033.6" cy="124.1" r="6.1" fill="#00f800"/>
<circle cx="2060" cy="124.1" r="6.1" fill="#00f800"/>
<circle cx="2075.1" cy="124.3" r="6.1" fill="#00f800"/>
<circle cx="2120.3" cy="124.7" r="6.1" fill="#00f800"/>
<text transform="translate(643.5,218) rotate(-90)" font-size="21.7" text-anchor="middle">GFP-puro cells in</text>
<text transform="translate(671.4,218.8) rotate(-90)" font-size="21.7" text-anchor="middle">org (%)</text>
<text transform="translate(624.3,435) scale(1.1,1)" font-size="39" font-weight="bold" stroke="#000" stroke-width="1.2">c</text>
<text x="1267.8" y="429.2" font-size="21.9" textLength="352" lengthAdjust="spacingAndGlyphs">Chimeric organoids (organoid sizes)</text>
<line x1="715" y1="533.2" x2="914" y2="533.2" stroke="#111" stroke-width="1.8" />
<line x1="721" y1="533.2" x2="721" y2="539.2" stroke="#111" stroke-width="1.6" />
<text transform="translate(721,560.5) scale(1.1,1)" font-size="19.3" text-anchor="middle">0</text>
<line x1="759.6" y1="533.2" x2="759.6" y2="539.2" stroke="#111" stroke-width="1.6" />
<text transform="translate(759.6,560.5) scale(1.1,1)" font-size="19.3" text-anchor="middle">10</text>
<line x1="798.2" y1="533.2" x2="798.2" y2="539.2" stroke="#111" stroke-width="1.6" />
<text transform="translate(798.2,560.5) scale(1.1,1)" font-size="19.3" text-anchor="middle">20</text>
<line x1="836.8" y1="533.2" x2="836.8" y2="539.2" stroke="#111" stroke-width="1.6" />
<text transform="translate(836.8,560.5) scale(1.1,1)" font-size="19.3" text-anchor="middle">30</text>
<line x1="875.4" y1="533.2" x2="875.4" y2="539.2" stroke="#111" stroke-width="1.6" />
<text transform="translate(875.4,560.5) scale(1.1,1)" font-size="19.3" text-anchor="middle">40</text>
<line x1="914" y1="533.2" x2="914" y2="539.2" stroke="#111" stroke-width="1.6" />
<text transform="translate(914,560.5) scale(1.1,1)" font-size="19.3" text-anchor="middle">50</text>
<text x="817.5" y="593.7" font-size="21.7" text-anchor="middle">Time (days)</text>
<circle cx="765" cy="464.5" r="1.9" fill="#00f800" stroke="#000" stroke-width="2"/>
<circle cx="772.8" cy="464.5" r="1.6" fill="#00f800" stroke="#000" stroke-width="2"/>
<circle cx="788.9" cy="464.5" r="4.2" fill="#00f800" stroke="#000" stroke-width="2.6"/>
<circle cx="816.6" cy="464.5" r="4.8" fill="#00f800" stroke="#000" stroke-width="2.6"/>
<circle cx="832.5" cy="464.5" r="5.6" fill="#00f800" stroke="#000" stroke-width="2.6"/>
<circle cx="880.1" cy="464.5" r="8.4" fill="#00f800" stroke="#000" stroke-width="2.6"/>
<circle cx="765" cy="495" r="3.6" fill="#00f800"/>
<circle cx="772.8" cy="495" r="3.2" fill="#00f800"/>
<circle cx="788.9" cy="495" r="1.6" fill="#00f800"/>
<line x1="970.4" y1="533.2" x2="1169.4" y2="533.2" stroke="#111" stroke-width="1.8" />
<line x1="976.4" y1="533.2" x2="976.4" y2="539.2" stroke="#111" stroke-width="1.6" />
<text transform="translate(976.4,560.5) scale(1.1,1)" font-size="19.3" text-anchor="middle">0</text>
<line x1="1015" y1="533.2" x2="1015" y2="539.2" stroke="#111" stroke-width="1.6" />
<text transform="translate(1015,560.5) scale(1.1,1)" font-size="19.3" text-anchor="middle">10</text>
<line x1="1053.6" y1="533.2" x2="1053.6" y2="539.2" stroke="#111" stroke-width="1.6" />
<text transform="translate(1053.6,560.5) scale(1.1,1)" font-size="19.3" text-anchor="middle">20</text>
<line x1="1092.2" y1="533.2" x2="1092.2" y2="539.2" stroke="#111" stroke-width="1.6" />
<text transform="translate(1092.2,560.5) scale(1.1,1)" font-size="19.3" text-anchor="middle">30</text>
<line x1="1130.8" y1="533.2" x2="1130.8" y2="539.2" stroke="#111" stroke-width="1.6" />
<text transform="translate(1130.8,560.5) scale(1.1,1)" font-size="19.3" text-anchor="middle">40</text>
<line x1="1169.4" y1="533.2" x2="1169.4" y2="539.2" stroke="#111" stroke-width="1.6" />
<text transform="translate(1169.4,560.5) scale(1.1,1)" font-size="19.3" text-anchor="middle">50</text>
<text x="1072.9" y="593.7" font-size="21.7" text-anchor="middle">Time (days)</text>
<circle cx="1020.4" cy="464.5" r="2.2" fill="#00f800" stroke="#000" stroke-width="2"/>
<circle cx="1028.2" cy="464.5" r="1.8" fill="#00f800" stroke="#000" stroke-width="2"/>
<circle cx="1044.3" cy="464.5" r="4.2" fill="#00f800" stroke="#000" stroke-width="2.6"/>
<circle cx="1072" cy="464.5" r="5.1" fill="#00f800" stroke="#000" stroke-width="2.6"/>
<circle cx="1087.9" cy="464.5" r="5.9" fill="#00f800" stroke="#000" stroke-width="2.6"/>
<circle cx="1135.5" cy="464.5" r="9.3" fill="#00f800" stroke="#000" stroke-width="2.6"/>
<circle cx="1020.4" cy="495" r="3.6" fill="#00f800"/>
<circle cx="1028.2" cy="495" r="3" fill="#00f800"/>
<circle cx="1044.3" cy="495" r="1.9" fill="#00f800"/>
<circle cx="1072" cy="495" r="3.6" fill="#00f800"/>
<line x1="1212.1" y1="533.2" x2="1411.1" y2="533.2" stroke="#111" stroke-width="1.8" />
<line x1="1218.1" y1="533.2" x2="1218.1" y2="539.2" stroke="#111" stroke-width="1.6" />
<text transform="translate(1218.1,560.5) scale(1.1,1)" font-size="19.3" text-anchor="middle">0</text>
<line x1="1256.7" y1="533.2" x2="1256.7" y2="539.2" stroke="#111" stroke-width="1.6" />
<text transform="translate(1256.7,560.5) scale(1.1,1)" font-size="19.3" text-anchor="middle">10</text>
<line x1="1295.3" y1="533.2" x2="1295.3" y2="539.2" stroke="#111" stroke-width="1.6" />
<text transform="translate(1295.3,560.5) scale(1.1,1)" font-size="19.3" text-anchor="middle">20</text>
<line x1="1333.9" y1="533.2" x2="1333.9" y2="539.2" stroke="#111" stroke-width="1.6" />
<text transform="translate(1333.9,560.5) scale(1.1,1)" font-size="19.3" text-anchor="middle">30</text>
<line x1="1372.5" y1="533.2" x2="1372.5" y2="539.2" stroke="#111" stroke-width="1.6" />
<text transform="translate(1372.5,560.5) scale(1.1,1)" font-size="19.3" text-anchor="middle">40</text>
<line x1="1411.1" y1="533.2" x2="1411.1" y2="539.2" stroke="#111" stroke-width="1.6" />
<text transform="translate(1411.1,560.5) scale(1.1,1)" font-size="19.3" text-anchor="middle">50</text>
<text x="1314.6" y="593.7" font-size="21.7" text-anchor="middle">Time (days)</text>
<circle cx="1262.1" cy="464.5" r="2.5" fill="#00f800" stroke="#000" stroke-width="2"/>
<circle cx="1269.9" cy="464.5" r="1.8" fill="#00f800" stroke="#000" stroke-width="2"/>
<circle cx="1286" cy="464.5" r="4.5" fill="#00f800" stroke="#000" stroke-width="2.6"/>
<circle cx="1313.7" cy="464.5" r="5.1" fill="#00f800" stroke="#000" stroke-width="2.6"/>
<circle cx="1329.6" cy="464.5" r="6.6" fill="#00f800" stroke="#000" stroke-width="2.6"/>
<circle cx="1377.2" cy="464.5" r="9.1" fill="#00f800" stroke="#000" stroke-width="2.6"/>
<circle cx="1262.1" cy="495" r="3.8" fill="#00f800"/>
<circle cx="1269.9" cy="495" r="3" fill="#00f800"/>
<circle cx="1286" cy="495" r="4.8" fill="#00f800"/>
<circle cx="1313.7" cy="495" r="4.2" fill="#00f800"/>
<circle cx="1329.6" cy="495" r="5.2" fill="#00f800"/>
<circle cx="1377.2" cy="495" r="6.9" fill="#00f800"/>
<line x1="1458.1" y1="533.2" x2="1657.1" y2="533.2" stroke="#111" stroke-width="1.8" />
<line x1="1464.1" y1="533.2" x2="1464.1" y2="539.2" stroke="#111" stroke-width="1.6" />
<text transform="translate(1464.1,560.5) scale(1.1,1)" font-size="19.3" text-anchor="middle">0</text>
<line x1="1502.7" y1="533.2" x2="1502.7" y2="539.2" stroke="#111" stroke-width="1.6" />
<text transform="translate(1502.7,560.5) scale(1.1,1)" font-size="19.3" text-anchor="middle">10</text>
<line x1="1541.3" y1="533.2" x2="1541.3" y2="539.2" stroke="#111" stroke-width="1.6" />
<text transform="translate(1541.3,560.5) scale(1.1,1)" font-size="19.3" text-anchor="middle">20</text>
<line x1="1579.9" y1="533.2" x2="1579.9" y2="539.2" stroke="#111" stroke-width="1.6" />
<text transform="translate(1579.9,560.5) scale(1.1,1)" font-size="19.3" text-anchor="middle">30</text>
<line x1="1618.5" y1="533.2" x2="1618.5" y2="539.2" stroke="#111" stroke-width="1.6" />
<text transform="translate(1618.5,560.5) scale(1.1,1)" font-size="19.3" text-anchor="middle">40</text>
<line x1="1657.1" y1="533.2" x2="1657.1" y2="539.2" stroke="#111" stroke-width="1.6" />
<text transform="translate(1657.1,560.5) scale(1.1,1)" font-size="19.3" text-anchor="middle">50</text>
<text x="1560.6" y="593.7" font-size="21.7" text-anchor="middle">Time (days)</text>
<circle cx="1508.1" cy="464.5" r="2.2" fill="#00f800" stroke="#000" stroke-width="2"/>
<circle cx="1515.9" cy="464.5" r="1.8" fill="#00f800" stroke="#000" stroke-width="2"/>
<circle cx="1532" cy="464.5" r="4" fill="#00f800" stroke="#000" stroke-width="2.6"/>
<circle cx="1559.7" cy="464.5" r="5" fill="#00f800" stroke="#000" stroke-width="2.6"/>
<circle cx="1575.6" cy="464.5" r="6.3" fill="#00f800" stroke="#000" stroke-width="2.6"/>
<circle cx="1623.2" cy="464.5" r="8.9" fill="#00f800" stroke="#000" stroke-width="2.6"/>
<circle cx="1508.1" cy="495" r="3.5" fill="#00f800"/>
<circle cx="1515.9" cy="495" r="3.3" fill="#00f800"/>
<circle cx="1532" cy="495" r="5.3" fill="#00f800"/>
<circle cx="1559.7" cy="495" r="5.5" fill="#00f800"/>
<circle cx="1575.6" cy="495" r="5.9" fill="#00f800"/>
<circle cx="1623.2" cy="495" r="8.8" fill="#00f800"/>
<line x1="1705.8" y1="533.2" x2="1904.8" y2="533.2" stroke="#111" stroke-width="1.8" />
<line x1="1711.8" y1="533.2" x2="1711.8" y2="539.2" stroke="#111" stroke-width="1.6" />
<text transform="translate(1711.8,560.5) scale(1.1,1)" font-size="19.3" text-anchor="middle">0</text>
<line x1="1750.4" y1="533.2" x2="1750.4" y2="539.2" stroke="#111" stroke-width="1.6" />
<text transform="translate(1750.4,560.5) scale(1.1,1)" font-size="19.3" text-anchor="middle">10</text>
<line x1="1789" y1="533.2" x2="1789" y2="539.2" stroke="#111" stroke-width="1.6" />
<text transform="translate(1789,560.5) scale(1.1,1)" font-size="19.3" text-anchor="middle">20</text>
<line x1="1827.6" y1="533.2" x2="1827.6" y2="539.2" stroke="#111" stroke-width="1.6" />
<text transform="translate(1827.6,560.5) scale(1.1,1)" font-size="19.3" text-anchor="middle">30</text>
<line x1="1866.2" y1="533.2" x2="1866.2" y2="539.2" stroke="#111" stroke-width="1.6" />
<text transform="translate(1866.2,560.5) scale(1.1,1)" font-size="19.3" text-anchor="middle">40</text>
<line x1="1904.8" y1="533.2" x2="1904.8" y2="539.2" stroke="#111" stroke-width="1.6" />
<text transform="translate(1904.8,560.5) scale(1.1,1)" font-size="19.3" text-anchor="middle">50</text>
<text x="1808.3" y="593.7" font-size="21.7" text-anchor="middle">Time (days)</text>
<circle cx="1755.8" cy="464.5" r="2.4" fill="#00f800" stroke="#000" stroke-width="2"/>
<circle cx="1763.6" cy="464.5" r="1.8" fill="#00f800" stroke="#000" stroke-width="2"/>
<circle cx="1779.7" cy="464.5" r="4.5" fill="#00f800" stroke="#000" stroke-width="2.6"/>
<circle cx="1807.4" cy="464.5" r="5.7" fill="#00f800" stroke="#000" stroke-width="2.6"/>
<circle cx="1823.3" cy="464.5" r="6.3" fill="#00f800" stroke="#000" stroke-width="2.6"/>
<circle cx="1870.9" cy="464.5" r="8.5" fill="#00f800" stroke="#000" stroke-width="2.6"/>
<circle cx="1755.8" cy="495" r="3.6" fill="#00f800"/>
<circle cx="1763.6" cy="495" r="3.9" fill="#00f800"/>
<circle cx="1779.7" cy="495" r="5.6" fill="#00f800"/>
<circle cx="1807.4" cy="495" r="6.4" fill="#00f800"/>
<circle cx="1823.3" cy="495" r="7" fill="#00f800"/>
<circle cx="1870.9" cy="495" r="10.8" fill="#00f800"/>
<line x1="1952.9" y1="533.2" x2="2151.9" y2="533.2" stroke="#111" stroke-width="1.8" />
<line x1="1958.9" y1="533.2" x2="1958.9" y2="539.2" stroke="#111" stroke-width="1.6" />
<text transform="translate(1958.9,560.5) scale(1.1,1)" font-size="19.3" text-anchor="middle">0</text>
<line x1="1997.5" y1="533.2" x2="1997.5" y2="539.2" stroke="#111" stroke-width="1.6" />
<text transform="translate(1997.5,560.5) scale(1.1,1)" font-size="19.3" text-anchor="middle">10</text>
<line x1="2036.1" y1="533.2" x2="2036.1" y2="539.2" stroke="#111" stroke-width="1.6" />
<text transform="translate(2036.1,560.5) scale(1.1,1)" font-size="19.3" text-anchor="middle">20</text>
<line x1="2074.7" y1="533.2" x2="2074.7" y2="539.2" stroke="#111" stroke-width="1.6" />
<text transform="translate(2074.7,560.5) scale(1.1,1)" font-size="19.3" text-anchor="middle">30</text>
<line x1="2113.3" y1="533.2" x2="2113.3" y2="539.2" stroke="#111" stroke-width="1.6" />
<text transform="translate(2113.3,560.5) scale(1.1,1)" font-size="19.3" text-anchor="middle">40</text>
<line x1="2151.9" y1="533.2" x2="2151.9" y2="539.2" stroke="#111" stroke-width="1.6" />
<text transform="translate(2151.9,560.5) scale(1.1,1)" font-size="19.3" text-anchor="middle">50</text>
<text x="2055.4" y="593.7" font-size="21.7" text-anchor="middle">Time (days)</text>
<circle cx="2002.9" cy="464.5" r="2.5" fill="#00f800" stroke="#000" stroke-width="2"/>
<circle cx="2010.7" cy="464.5" r="1.6" fill="#00f800" stroke="#000" stroke-width="2"/>
<circle cx="2026.8" cy="464.5" r="3.7" fill="#00f800" stroke="#000" stroke-width="2.6"/>
<circle cx="2054.5" cy="464.5" r="3.5" fill="#00f800" stroke="#000" stroke-width="2.6"/>
<circle cx="2070.4" cy="464.5" r="6.2" fill="#00f800" stroke="#000" stroke-width="2.6"/>
<circle cx="2118" cy="464.5" r="8.5" fill="#00f800" stroke="#000" stroke-width="2.6"/>
<circle cx="2002.9" cy="495" r="3.8" fill="#00f800"/>
<circle cx="2010.7" cy="495" r="3.8" fill="#00f800"/>
<circle cx="2026.8" cy="495" r="5.8" fill="#00f800"/>
<circle cx="2054.5" cy="495" r="7.3" fill="#00f800"/>
<circle cx="2070.4" cy="495" r="7" fill="#00f800"/>
<circle cx="2118" cy="495" r="11.3" fill="#00f800"/>
<text x="917.8" y="501.4" font-size="21.7" text-anchor="end" fill="#00f800" textLength="91.5" lengthAdjust="spacingAndGlyphs">*Organoid</text>
<text x="917.8" y="524" font-size="21.7" text-anchor="end" fill="#00f800" textLength="84" lengthAdjust="spacingAndGlyphs">dissolved</text>
<text x="1171.6" y="501.4" font-size="21.7" text-anchor="end" fill="#00f800" textLength="91.5" lengthAdjust="spacingAndGlyphs">*Organoid</text>
<text x="1171.6" y="524" font-size="21.7" text-anchor="end" fill="#00f800" textLength="84" lengthAdjust="spacingAndGlyphs">dissolved</text>
<text x="924.8" y="627.2" font-size="21.7" textLength="277" lengthAdjust="spacingAndGlyphs">Organoid size (cell number):</text>
<circle cx="1222.2" cy="620.3" r="6.9" fill="#000"/>
<text x="1243" y="627.2" font-size="21.7" textLength="87.5" lengthAdjust="spacingAndGlyphs">250,000</text>
<circle cx="1360.7" cy="620.3" r="9" fill="#000"/>
<text x="1385.3" y="627.2" font-size="21.7" textLength="87.5" lengthAdjust="spacingAndGlyphs">500,000</text>
<circle cx="1506.9" cy="620.3" r="10.4" fill="#000"/>
<text x="1530.9" y="627.2" font-size="21.7" textLength="87.5" lengthAdjust="spacingAndGlyphs">750,000</text>
<circle cx="1648.3" cy="620.3" r="9" fill="#00f800" stroke="#000" stroke-width="2.2"/>
<text x="1673.3" y="627.2" font-size="21.7">No puro</text>
<circle cx="1784.5" cy="620.3" r="10.4" fill="#00f800"/>
<text x="1808" y="627.2" font-size="21.7">With puro</text>
<text transform="translate(-0.2,682.7) scale(1.1,1)" font-size="38" font-weight="bold" stroke="#000" stroke-width="1.2">d</text>
<text x="212.7" y="692.9" font-size="21.7" text-anchor="middle">Day 40, lineage sizes</text>
<circle cx="133" cy="741" r="22.2" fill="#333333"/>
<path d="M133,741 L133,718.8 A22.2,22.2 0 0 0 120,723 Z" fill="#00f800"/>
<circle cx="133" cy="741" r="22.2" fill="none" stroke="#000" stroke-width="2.2"/>
<text x="186.7" y="732.7" font-size="21.7" textLength="129.5" lengthAdjust="spacingAndGlyphs">GFP-puro:WT</text>
<text x="230.2" y="760.2" font-size="21.7" text-anchor="middle">10</text>
<text x="300.4" y="760.2" font-size="21.7" text-anchor="middle">90</text>
<text x="117.5" y="792.7" font-size="21.7" text-anchor="middle">Pre puro</text>
<text x="220.7" y="792.7" font-size="21.7" text-anchor="middle">No puro</text>
<text x="319.8" y="792.7" font-size="21.7" text-anchor="middle">With puro</text>
<line x1="68" y1="816.2" x2="68" y2="1179.7" stroke="#222" stroke-width="1.6" />
<line x1="61" y1="1179.7" x2="356.5" y2="1179.7" stroke="#222" stroke-width="1.8" />
<line x1="62" y1="1179.7" x2="68" y2="1179.7" stroke="#222" stroke-width="1.6" />
<text transform="translate(53.5,1186.3) scale(1.1,1)" font-size="19.3" text-anchor="end">−1</text>
<line x1="62" y1="1119.1" x2="68" y2="1119.1" stroke="#222" stroke-width="1.6" />
<text transform="translate(53.5,1125.7) scale(1.1,1)" font-size="19.3" text-anchor="end">0</text>
<line x1="62" y1="1058.5" x2="68" y2="1058.5" stroke="#222" stroke-width="1.6" />
<text transform="translate(53.5,1065.1) scale(1.1,1)" font-size="19.3" text-anchor="end">1</text>
<line x1="62" y1="998" x2="68" y2="998" stroke="#222" stroke-width="1.6" />
<text transform="translate(53.5,1004.6) scale(1.1,1)" font-size="19.3" text-anchor="end">2</text>
<line x1="62" y1="937.4" x2="68" y2="937.4" stroke="#222" stroke-width="1.6" />
<text transform="translate(53.5,944) scale(1.1,1)" font-size="19.3" text-anchor="end">3</text>
<line x1="62" y1="876.8" x2="68" y2="876.8" stroke="#222" stroke-width="1.6" />
<text transform="translate(53.5,883.4) scale(1.1,1)" font-size="19.3" text-anchor="end">4</text>
<line x1="62" y1="816.2" x2="68" y2="816.2" stroke="#222" stroke-width="1.6" />
<text transform="translate(53.5,822.8) scale(1.1,1)" font-size="19.3" text-anchor="end" font-weight="bold">5</text>
<text transform="translate(114.6,1203) scale(1.1,1)" font-size="19.3" text-anchor="middle">11</text>
<text transform="translate(219.4,1203) scale(1.1,1)" font-size="19.3" text-anchor="middle">40</text>
<text transform="translate(309.6,1203) scale(1.1,1)" font-size="19.3" text-anchor="middle">40</text>
<text x="212.4" y="1234.5" font-size="21.7" text-anchor="middle">Time (days)</text>
<line x1="160.7" y1="820.5" x2="163.3" y2="1177.4" stroke="#000" stroke-width="2" />
<text transform="translate(17.8,997.9) rotate(-90)" font-size="21.7" text-anchor="middle" textLength="289" lengthAdjust="spacingAndGlyphs">log<tspan font-size="13.5" dy="7">10</tspan><tspan dy="-7">(reads per lineage [RPM])</tspan></text>
<path d="M115,955 L114.4,975 L112.5,985 L109.2,992 L104.5,1001 L98.2,1012 L88.2,1028 L81.2,1042 L79.2,1050 L80.5,1058 L84.5,1066 L90.2,1074 L93.2,1086 L96.2,1098 L101.5,1110 L107.2,1118 L115,1118Z" fill="#00f800" stroke="none"/>
<path d="M115,1118 L122.6,1118 L126,1116.5 L129.3,1112 L136.3,1094 L144.3,1076 L150.3,1060 L151.3,1049 L149,1042 L144.3,1034 L132.3,1016 L124,1003 L119.2,992 L116.8,980 L115,955Z" fill="#5e5e5e" stroke="none"/>
<path d="M115.3,955 L114.4,975 L112.5,985 L109.2,992 L104.5,1001 L98.2,1012 L88.2,1028 L81.2,1042 L79.2,1050 L80.5,1058 L84.5,1066 L90.2,1074 L93.2,1086 L96.2,1098 L101.5,1110 L107.2,1118 L122.6,1118 L126,1116.5 L129.3,1112 L136.3,1094 L144.3,1076 L150.3,1060 L151.3,1049 L149,1042 L144.3,1034 L132.3,1016 L124,1003 L119.2,992 L116.8,980 L115.8,955Z" fill="none" stroke="#000" stroke-width="2" stroke-linejoin="round"/>
<line x1="115" y1="955" x2="115" y2="1118" stroke="#000" stroke-width="2.2" />
<circle cx="97.6" cy="1038.7" r="3.4" fill="#fff" stroke="#000" stroke-width="2.2"/>
<circle cx="97.6" cy="1054.1" r="5.4" fill="#000"/>
<circle cx="133.3" cy="1040.1" r="3.4" fill="#fff" stroke="#000" stroke-width="2.2"/>
<circle cx="133.3" cy="1055.7" r="5.4" fill="#000"/>
<path d="M217.3,853.5 L216.9,946 L216.3,975 L214.7,990.4 L211.5,1005.9 L207.6,1021.3 L202.8,1032.9 L198.9,1044.4 L194.1,1054.1 L186.4,1061.8 L182,1071.4 L183.5,1081.1 L189.3,1085.9 L197,1089.8 L217.3,1089.8Z" fill="#00f800" stroke="none"/>
<path d="M217.3,1089.8 L235.6,1089.8 L247.1,1086.9 L252.9,1081.1 L252,1071.4 L247.1,1057.9 L241.4,1044.4 L233.6,1032.9 L227.9,1013.6 L223,998.1 L220.5,980.8 L218.6,955.7 L217.6,878.6 L217.3,853.5Z" fill="#5e5e5e" stroke="none"/>
<path d="M217.3,853.5 L216.9,946 L216.3,975 L214.7,990.4 L211.5,1005.9 L207.6,1021.3 L202.8,1032.9 L198.9,1044.4 L194.1,1054.1 L186.4,1061.8 L182,1071.4 L183.5,1081.1 L189.3,1085.9 L197,1089.8 L235.6,1089.8 L247.1,1086.9 L252.9,1081.1 L252,1071.4 L247.1,1057.9 L241.4,1044.4 L233.6,1032.9 L227.9,1013.6 L223,998.1 L220.5,980.8 L218.6,955.7 L217.6,878.6 L217.6,853.5Z" fill="none" stroke="#000" stroke-width="2" stroke-linejoin="round"/>
<line x1="217.3" y1="853.5" x2="217.3" y2="1089.8" stroke="#000" stroke-width="2.2" />
<circle cx="199.5" cy="1040.6" r="3.4" fill="#fff" stroke="#000" stroke-width="2.2"/>
<circle cx="199.5" cy="1064.3" r="5.4" fill="#000"/>
<circle cx="235.6" cy="1022.3" r="3.4" fill="#fff" stroke="#000" stroke-width="2.2"/>
<circle cx="235.2" cy="1058.9" r="5.4" fill="#000"/>
<path d="M315,872.4 L314.6,897.9 L311.8,917.1 L307.9,930.6 L301.1,944.1 L295.4,957.6 L287.6,967.3 L280.9,978.9 L277.6,992.4 L275.1,1013.6 L275.1,1038.6 L279.9,1048.3 L285.3,1059.9 L287.6,1071.4 L293.4,1081.1 L302.1,1089.8 L315,1089.8Z" fill="#00f800" stroke="none"/>
<path d="M315,1089.8 L335.9,1089.8 L349.4,1085.9 L356.1,1077.2 L353.2,1065.6 L347.4,1048.3 L339.7,1036.7 L332,1025.1 L325.3,1013.6 L322.4,1002 L319.5,984.6 L317.5,965.4 L316.2,917.1 L315,872.4Z" fill="#5e5e5e" stroke="none"/>
<path d="M315,872.4 L314.6,897.9 L311.8,917.1 L307.9,930.6 L301.1,944.1 L295.4,957.6 L287.6,967.3 L280.9,978.9 L277.6,992.4 L275.1,1013.6 L275.1,1038.6 L279.9,1048.3 L285.3,1059.9 L287.6,1071.4 L293.4,1081.1 L302.1,1089.8 L335.9,1089.8 L349.4,1085.9 L356.1,1077.2 L353.2,1065.6 L347.4,1048.3 L339.7,1036.7 L332,1025.1 L325.3,1013.6 L322.4,1002 L319.5,984.6 L317.5,965.4 L316.2,917.1 L315.6,872.4Z" fill="none" stroke="#000" stroke-width="2" stroke-linejoin="round"/>
<line x1="315" y1="872.4" x2="315" y2="1089.8" stroke="#000" stroke-width="2.2" />
<circle cx="295.4" cy="978.9" r="3.4" fill="#fff" stroke="#000" stroke-width="2.2"/>
<circle cx="295.4" cy="1015.5" r="5.4" fill="#000"/>
<circle cx="335.5" cy="1037.1" r="3.4" fill="#fff" stroke="#000" stroke-width="2.2"/>
<circle cx="335.5" cy="1057.5" r="5.4" fill="#000"/>
<circle cx="177.4" cy="1162.4" r="5.3" fill="#00f800" stroke="#000" stroke-width="1.8"/>
<text x="197.4" y="1168.6" font-size="21.7">GFP-puro</text>
<circle cx="316.6" cy="1162.4" r="5.3" fill="#5e5e5e" stroke="#000" stroke-width="1.8"/>
<text x="336.7" y="1168.6" font-size="21.7">H9</text>
<text transform="translate(405.2,685.6) scale(1.1,1)" font-size="39" font-weight="bold" stroke="#000" stroke-width="1.2">e</text>
<text transform="translate(405.6,1058.1) scale(1.1,1)" font-size="39" font-weight="bold" stroke="#000" stroke-width="1.2">f</text>
<text x="1066" y="692.8" font-size="21.9" textLength="360" lengthAdjust="spacingAndGlyphs">Lineage size distribution comparison</text>
<path d="M508.7,840.8 L513.8,840.1 L520.4,839.3 L528.4,838.3 L537.2,837.2 L546.7,836.1 L556.4,834.9 L566.1,833.9 L575.5,833.1 L584.7,832.4 L594.2,831.7 L603.9,831 L613.7,830.4 L623.7,829.9 L633.6,829.5 L643.6,829.2 L653.4,829.1 L663.1,829.1 L672.7,829.3 L682.4,829.7 L692,830.1 L701.7,830.6 L711.4,831.2 L721.3,831.9 L731.3,832.5 L742,833.3 L753.7,834.3 L765.9,835.4 L777.9,836.5 L789.3,837.6 L799.6,838.6 L808.3,839.4 L814.8,840 L814.8,841.1 L808.3,841.5 L799.6,841.9 L789.3,842.4 L777.9,843 L765.9,843.5 L753.7,844.1 L742,844.6 L731.3,845 L721.3,845.3 L711.4,845.5 L701.7,845.7 L692,845.9 L682.4,846.1 L672.7,846.2 L663.1,846.3 L653.4,846.3 L643.6,846.3 L633.6,846.3 L623.7,846.3 L613.7,846.2 L603.9,846.1 L594.2,846 L584.7,845.8 L575.5,845.5 L566.1,845.2 L556.4,844.8 L546.7,844.4 L537.2,843.9 L528.4,843.4 L520.4,842.9 L513.8,842.6 L508.7,842.3Z" fill="#f0804e" fill-opacity="0.3"/>
<path d="M508.7,841.7 L513.8,841.6 L520.4,841.4 L528.4,841.1 L537.2,840.8 L546.7,840.6 L556.4,840.3 L566.1,840 L575.5,839.8 L584.7,839.6 L594.2,839.4 L603.9,839.2 L613.7,839.1 L623.7,838.9 L633.6,838.8 L643.6,838.7 L653.4,838.7 L663.1,838.6 L672.7,838.7 L682.4,838.7 L692,838.8 L701.7,838.9 L711.4,839 L721.3,839.1 L731.3,839.2 L742,839.4 L753.7,839.5 L765.9,839.7 L777.9,839.9 L789.3,840.1 L799.6,840.3 L808.3,840.5 L814.8,840.6" fill="none" stroke="#f0804e" stroke-width="3" stroke-dasharray="8.5,15.5"/>
<path d="M510.9,841.1 L516.7,840.5 L524.5,839.7 L533.7,838.6 L543.9,837.5 L554.7,836.3 L565.7,835.3 L576.5,834.3 L586.6,833.5 L596.2,832.9 L605.7,832.3 L615.2,831.8 L624.7,831.3 L634.4,831 L644.2,830.7 L654.2,830.6 L664.5,830.6 L675.2,830.8 L686.4,831.2 L697.8,831.7 L709.4,832.3 L720.9,832.9 L732.2,833.6 L743.1,834.4 L753.5,835 L763.9,835.7 L774.5,836.5 L785.1,837.4 L795.3,838.3 L804.8,839.1 L813.3,839.9 L820.4,840.5 L825.9,841 L825.9,842.1 L820.4,842.3 L813.3,842.6 L804.8,842.9 L795.3,843.2 L785.1,843.6 L774.5,843.9 L763.9,844.3 L753.5,844.6 L743.1,844.9 L732.2,845.2 L720.9,845.6 L709.4,845.9 L697.8,846.2 L686.4,846.5 L675.2,846.7 L664.5,846.9 L654.2,847 L644.2,847.1 L634.4,847.2 L624.7,847.3 L615.2,847.3 L605.7,847.2 L596.2,847.1 L586.6,846.9 L576.5,846.5 L565.7,846 L554.7,845.4 L543.9,844.8 L533.7,844.1 L524.5,843.5 L516.7,843 L510.9,842.7Z" fill="#e56a5d" fill-opacity="0.3"/>
<path d="M510.9,842.1 L516.7,841.9 L524.5,841.7 L533.7,841.5 L543.9,841.2 L554.7,840.9 L565.7,840.6 L576.5,840.4 L586.6,840.2 L596.2,840 L605.7,839.8 L615.2,839.7 L624.7,839.6 L634.4,839.4 L644.2,839.3 L654.2,839.3 L664.5,839.2 L675.2,839.2 L686.4,839.2 L697.8,839.3 L709.4,839.4 L720.9,839.4 L732.2,839.5 L743.1,839.7 L753.5,839.8 L763.9,840 L774.5,840.2 L785.1,840.4 L795.3,840.7 L804.8,841 L813.3,841.2 L820.4,841.4 L825.9,841.5" fill="none" stroke="#e56a5d" stroke-width="3" stroke-dasharray="8.5,15.5"/>
<path d="M512,841.1 L517.8,840.6 L525.4,839.8 L534.4,838.9 L544.4,837.9 L555.1,836.9 L566,835.9 L576.6,835.1 L586.6,834.5 L596,833.9 L605.3,833.5 L614.6,833.1 L624,832.8 L633.5,832.6 L643.4,832.4 L653.7,832.4 L664.5,832.5 L676.3,832.8 L689,833.3 L702.4,833.8 L716,834.5 L729.4,835.2 L742.2,835.9 L754.1,836.7 L764.7,837.3 L774.1,838 L783,838.7 L791.3,839.5 L798.8,840.2 L805.5,840.9 L811.4,841.5 L816.3,842.1 L820.3,842.5 L820.3,843.6 L816.3,843.9 L811.4,844.2 L805.5,844.6 L798.8,845.1 L791.3,845.5 L783,846 L774.1,846.5 L764.7,846.9 L754.1,847.3 L742.2,847.7 L729.4,848.2 L716,848.6 L702.4,849 L689,849.4 L676.3,849.6 L664.5,849.7 L653.7,849.8 L643.4,849.7 L633.5,849.5 L624,849.3 L614.6,849 L605.3,848.6 L596,848.2 L586.6,847.8 L576.6,847.3 L566,846.7 L555.1,846 L544.4,845.3 L534.4,844.6 L525.4,844 L517.8,843.4 L512,843.1Z" fill="#cc4778" fill-opacity="0.3"/>
<path d="M512,842.1 L517.8,842 L525.4,841.9 L534.4,841.8 L544.4,841.6 L555.1,841.5 L566,841.3 L576.6,841.2 L586.6,841.1 L596,841.1 L605.3,841.1 L614.6,841 L624,841 L633.5,841 L643.4,841.1 L653.7,841.1 L664.5,841.1 L676.3,841.2 L689,841.3 L702.4,841.4 L716,841.6 L729.4,841.7 L742.2,841.8 L754.1,842 L764.7,842.1 L774.1,842.2 L783,842.4 L791.3,842.5 L798.8,842.6 L805.5,842.8 L811.4,842.9 L816.3,843 L820.3,843.1" fill="none" stroke="#cc4778" stroke-width="3" stroke-dasharray="8.5,15.5"/>
<path d="M512,841.1 L517.8,840.8 L525.4,840.2 L534.4,839.6 L544.4,838.8 L555.1,838.1 L566,837.4 L576.6,836.8 L586.6,836.4 L596,836 L605.3,835.6 L614.6,835.3 L624,835 L633.5,834.8 L643.4,834.7 L653.7,834.7 L664.5,834.8 L676.2,835.1 L688.8,835.5 L701.9,836.1 L715.3,836.7 L728.6,837.3 L741.5,838 L753.6,838.7 L764.7,839.2 L775.1,839.8 L785.3,840.4 L795.1,841 L804.3,841.6 L812.8,842.2 L820.2,842.7 L826.5,843.1 L831.5,843.4 L831.5,844.6 L826.5,844.8 L820.2,845.2 L812.8,845.6 L804.3,846 L795.1,846.5 L785.3,846.9 L775.1,847.4 L764.7,847.8 L753.6,848.3 L741.5,848.8 L728.6,849.3 L715.3,849.8 L701.9,850.3 L688.8,850.7 L676.2,850.9 L664.5,851.1 L653.7,851.1 L643.4,851 L633.5,850.8 L624,850.5 L614.6,850.1 L605.3,849.7 L596,849.3 L586.6,848.8 L576.6,848.2 L566,847.5 L555.1,846.6 L544.4,845.8 L534.4,844.9 L525.4,844.2 L517.8,843.5 L512,843.1Z" fill="#b22b8f" fill-opacity="0.3"/>
<path d="M512,842.1 L517.8,842.1 L525.4,842.1 L534.4,842.1 L544.4,842.1 L555.1,842.1 L566,842.1 L576.6,842.1 L586.6,842.1 L596,842.1 L605.3,842.2 L614.6,842.2 L624,842.3 L633.5,842.3 L643.4,842.4 L653.7,842.4 L664.5,842.5 L676.2,842.5 L688.8,842.6 L701.9,842.7 L715.3,842.7 L728.6,842.8 L741.5,842.9 L753.6,843 L764.7,843.1 L775.1,843.2 L785.3,843.3 L795.1,843.4 L804.3,843.6 L812.8,843.7 L820.2,843.8 L826.5,843.9 L831.5,844" fill="none" stroke="#b22b8f" stroke-width="3" stroke-dasharray="8.5,15.5"/>
<path d="M512,841 L516.9,840.7 L523.4,840.3 L531.1,839.8 L539.7,839.3 L548.8,838.7 L558,838.2 L567.1,837.8 L575.5,837.5 L583.2,837.3 L590.6,837.1 L597.9,837 L605.3,836.9 L613,836.8 L621.2,836.8 L630.1,836.9 L640,837.1 L651,837.4 L663,837.8 L675.7,838.2 L689,838.7 L702.5,839.2 L716.1,839.8 L729.5,840.5 L742.4,841.1 L755.7,841.9 L770,842.9 L784.5,843.9 L798.9,844.9 L812.5,845.9 L824.6,846.9 L834.9,847.7 L842.6,848.2 L842.6,849.4 L834.9,849.6 L824.6,849.8 L812.5,850.1 L798.9,850.5 L784.5,850.8 L770,851.1 L755.7,851.4 L742.4,851.7 L729.5,851.9 L716.1,852 L702.5,852.2 L689,852.3 L675.7,852.4 L663,852.5 L651,852.5 L640,852.4 L630.1,852.3 L621.2,852.1 L613,851.9 L605.3,851.6 L597.9,851.3 L590.6,850.9 L583.2,850.4 L575.5,849.9 L567.1,849.3 L558,848.6 L548.8,847.7 L539.7,846.8 L531.1,846 L523.4,845.2 L516.9,844.5 L512,844Z" fill="#7801a8" fill-opacity="0.33"/>
<path d="M512,842.5 L516.9,842.5 L523.4,842.6 L531.1,842.7 L539.7,842.8 L548.8,842.9 L558,843 L567.1,843.1 L575.5,843.2 L583.2,843.4 L590.6,843.5 L597.9,843.6 L605.3,843.8 L613,843.9 L621.2,844.1 L630.1,844.2 L640,844.4 L651,844.6 L663,844.7 L675.7,844.9 L689,845.1 L702.5,845.2 L716.1,845.4 L729.5,845.7 L742.4,845.9 L755.7,846.2 L770,846.6 L784.5,847 L798.9,847.5 L812.5,847.9 L824.6,848.2 L834.9,848.6 L842.6,848.8" fill="none" stroke="#7801a8" stroke-width="3" stroke-dasharray="8.5,15.5"/>
<circle cx="640" cy="845.2" r="3.3" fill="none" stroke="#7801a8" stroke-width="2.2"/>
<path d="M512,841.1 L517,840.8 L523.7,840.4 L531.6,839.9 L540.4,839.3 L549.7,838.7 L558.9,838.2 L567.6,837.8 L575.5,837.5 L582.2,837.3 L588,837.2 L593.4,837.2 L598.7,837.2 L604.5,837.2 L611.1,837.4 L618.9,837.6 L628.3,837.9 L639.6,838.3 L652.4,838.8 L666.3,839.4 L681,840.1 L696.3,840.8 L711.9,841.5 L727.3,842.3 L742.4,843.1 L758.2,843.9 L775.3,844.9 L793.1,845.9 L810.8,846.9 L827.5,847.9 L842.7,848.8 L855.3,849.6 L864.9,850.1 L864.9,851.3 L855.3,851.3 L842.7,851.4 L827.5,851.4 L810.8,851.5 L793.1,851.6 L775.3,851.6 L758.2,851.6 L742.4,851.7 L727.3,851.7 L711.9,851.6 L696.3,851.6 L681,851.6 L666.3,851.5 L652.4,851.5 L639.6,851.4 L628.3,851.3 L618.9,851.2 L611.1,851.1 L604.5,851 L598.7,850.9 L593.4,850.8 L588,850.6 L582.2,850.3 L575.5,849.9 L567.6,849.4 L558.9,848.7 L549.7,847.9 L540.4,847 L531.6,846.1 L523.7,845.3 L517,844.7 L512,844.2Z" fill="#0d0887" fill-opacity="0.33"/>
<path d="M512,842.7 L517,842.7 L523.7,842.8 L531.6,842.8 L540.4,842.9 L549.7,843 L558.9,843.1 L567.6,843.2 L575.5,843.2 L582.2,843.3 L588,843.4 L593.4,843.4 L598.7,843.5 L604.5,843.6 L611.1,843.7 L618.9,843.8 L628.3,844 L639.6,844.3 L652.4,844.6 L666.3,844.9 L681,845.3 L696.3,845.6 L711.9,846 L727.3,846.5 L742.4,846.9 L758.2,847.3 L775.3,847.9 L793.1,848.4 L810.8,849 L827.5,849.5 L842.7,850 L855.3,850.4 L864.9,850.7" fill="none" stroke="#0d0887" stroke-width="3" stroke-dasharray="8.5,15.5"/>
<circle cx="628.3" cy="844.2" r="3.3" fill="none" stroke="#0d0887" stroke-width="2.2"/>
<path d="M525.3,1177.6 L529.2,1177.4 L534.4,1177.2 L540.6,1177 L547.5,1176.7 L554.8,1176.3 L562.1,1175.9 L569,1175.5 L575.4,1175 L581.1,1174.3 L586.6,1173.5 L592,1172.7 L597.3,1171.8 L602.6,1170.9 L608.1,1170 L613.8,1169.3 L619.9,1168.7 L626.2,1168.1 L632.8,1167.7 L639.5,1167.3 L646.3,1167 L653.4,1166.7 L660.6,1166.5 L668,1166.4 L675.5,1166.4 L683.4,1166.4 L691.7,1166.6 L700.3,1166.8 L708.9,1167.2 L717.6,1167.5 L726.1,1167.9 L734.4,1168.3 L742.3,1168.7 L750.2,1169 L758.3,1169.5 L766.4,1169.9 L774.3,1170.4 L781.7,1170.9 L788.2,1171.3 L793.8,1171.6 L798,1171.9 L798,1173 L793.8,1173.5 L788.2,1174 L781.7,1174.7 L774.3,1175.5 L766.4,1176.3 L758.3,1177 L750.2,1177.7 L742.3,1178.2 L734.4,1178.6 L726.1,1179 L717.6,1179.2 L708.9,1179.5 L700.3,1179.7 L691.7,1179.8 L683.4,1180 L675.5,1180.1 L668,1180.2 L660.6,1180.3 L653.4,1180.3 L646.3,1180.3 L639.5,1180.3 L632.8,1180.2 L626.2,1180.2 L619.9,1180.1 L613.8,1180 L608.1,1179.8 L602.6,1179.6 L597.3,1179.4 L592,1179.2 L586.6,1179 L581.1,1178.9 L575.4,1178.8 L569,1178.7 L562.1,1178.7 L554.8,1178.7 L547.5,1178.7 L540.6,1178.7 L534.4,1178.7 L529.2,1178.8 L525.3,1178.8Z" fill="#f0804e" fill-opacity="0.3"/>
<path d="M525.3,1178.2 L529.2,1178.1 L534.4,1178.1 L540.6,1178 L547.5,1177.8 L554.8,1177.7 L562.1,1177.6 L569,1177.4 L575.4,1177.2 L581.1,1177 L586.6,1176.8 L592,1176.6 L597.3,1176.3 L602.6,1176 L608.1,1175.8 L613.8,1175.5 L619.9,1175.3 L626.2,1175.2 L632.8,1175 L639.5,1174.9 L646.3,1174.7 L653.4,1174.6 L660.6,1174.5 L668,1174.4 L675.5,1174.4 L683.4,1174.3 L691.7,1174.4 L700.3,1174.4 L708.9,1174.4 L717.6,1174.5 L726.1,1174.5 L734.4,1174.5 L742.3,1174.4 L750.2,1174.2 L758.3,1174 L766.4,1173.7 L774.3,1173.4 L781.7,1173.1 L788.2,1172.9 L793.8,1172.6 L798,1172.5" fill="none" stroke="#f0804e" stroke-width="3" stroke-dasharray="8.5,15.5"/>
<path d="M530.9,1177.6 L534.8,1177.5 L540.1,1177.3 L546.5,1177.1 L553.5,1176.8 L560.8,1176.5 L568,1176.2 L574.9,1175.8 L580.9,1175.3 L586.2,1174.8 L591.1,1174.1 L595.6,1173.3 L600.1,1172.4 L604.5,1171.6 L609.2,1170.8 L614.3,1170.2 L619.9,1169.6 L625.9,1169.1 L632.1,1168.7 L638.6,1168.4 L645.3,1168.1 L652.3,1167.8 L659.7,1167.7 L667.4,1167.6 L675.5,1167.7 L684.5,1167.9 L694.4,1168.3 L704.8,1168.9 L715.5,1169.5 L726.1,1170.1 L736.2,1170.7 L745.4,1171.2 L753.5,1171.5 L760.4,1171.7 L766.8,1171.9 L772.6,1171.9 L777.8,1171.9 L782.4,1171.9 L786.3,1171.9 L789.7,1171.9 L792.4,1171.9 L792.4,1173 L789.7,1173.5 L786.3,1174.2 L782.4,1175 L777.8,1175.9 L772.6,1176.8 L766.8,1177.7 L760.4,1178.5 L753.5,1179.2 L745.4,1179.7 L736.2,1180.2 L726.1,1180.6 L715.5,1181 L704.8,1181.3 L694.4,1181.6 L684.5,1181.8 L675.5,1182 L667.4,1182.2 L659.7,1182.3 L652.3,1182.4 L645.3,1182.4 L638.6,1182.4 L632.1,1182.3 L625.9,1182.2 L619.9,1182 L614.3,1181.8 L609.2,1181.4 L604.5,1181 L600.1,1180.6 L595.6,1180.2 L591.1,1179.8 L586.2,1179.4 L580.9,1179.2 L574.9,1179 L568,1178.9 L560.8,1178.8 L553.5,1178.8 L546.5,1178.8 L540.1,1178.8 L534.8,1178.8 L530.9,1178.8Z" fill="#e56a5d" fill-opacity="0.3"/>
<path d="M530.9,1178.2 L534.8,1178.1 L540.1,1178 L546.5,1177.9 L553.5,1177.8 L560.8,1177.6 L568,1177.5 L574.9,1177.4 L580.9,1177.2 L586.2,1177.1 L591.1,1177 L595.6,1176.9 L600.1,1176.8 L604.5,1176.6 L609.2,1176.5 L614.3,1176.4 L619.9,1176.3 L625.9,1176.2 L632.1,1176 L638.6,1175.9 L645.3,1175.8 L652.3,1175.6 L659.7,1175.5 L667.4,1175.4 L675.5,1175.3 L684.5,1175.3 L694.4,1175.3 L704.8,1175.4 L715.5,1175.5 L726.1,1175.5 L736.2,1175.5 L745.4,1175.5 L753.5,1175.3 L760.4,1175.1 L766.8,1174.8 L772.6,1174.3 L777.8,1173.9 L782.4,1173.5 L786.3,1173.1 L789.7,1172.7 L792.4,1172.5" fill="none" stroke="#e56a5d" stroke-width="3" stroke-dasharray="8.5,15.5"/>
<path d="M542,1177.6 L545.3,1177.4 L549.7,1177.1 L554.9,1176.7 L560.8,1176.3 L567,1175.9 L573.5,1175.4 L580.1,1174.9 L586.5,1174.4 L592.8,1173.8 L599.1,1173.1 L605.6,1172.4 L612.2,1171.6 L619.2,1170.9 L626.4,1170.3 L634.1,1169.8 L642.1,1169.6 L650.9,1169.6 L660.3,1169.7 L670.2,1170 L680.4,1170.4 L690.7,1170.9 L700.8,1171.4 L710.7,1172 L720.1,1172.5 L729.1,1173 L737.9,1173.6 L746.7,1174.2 L755.2,1174.9 L763.5,1175.5 L771.6,1176.2 L779.4,1176.7 L786.8,1177.2 L794.2,1177.7 L801.7,1178.1 L809,1178.5 L816.1,1178.9 L822.5,1179.2 L828.3,1179.5 L833.2,1179.7 L836.9,1179.9 L836.9,1181.1 L833.2,1181.2 L828.3,1181.4 L822.5,1181.6 L816.1,1181.8 L809,1182.1 L801.7,1182.4 L794.2,1182.7 L786.8,1183 L779.4,1183.3 L771.6,1183.7 L763.5,1184.1 L755.2,1184.5 L746.7,1184.9 L737.9,1185.2 L729.1,1185.6 L720.1,1185.8 L710.7,1186.1 L700.8,1186.3 L690.7,1186.6 L680.4,1186.8 L670.2,1186.9 L660.3,1187 L650.9,1187 L642.1,1186.8 L634.1,1186.5 L626.4,1186 L619.2,1185.4 L612.2,1184.7 L605.6,1184 L599.1,1183.2 L592.8,1182.6 L586.5,1182 L580.1,1181.5 L573.5,1181 L567,1180.5 L560.8,1180.1 L554.9,1179.7 L549.7,1179.3 L545.3,1179 L542,1178.8Z" fill="#cc4778" fill-opacity="0.3"/>
<path d="M542,1178.2 L545.3,1178.2 L549.7,1178.2 L554.9,1178.2 L560.8,1178.2 L567,1178.2 L573.5,1178.2 L580.1,1178.2 L586.5,1178.2 L592.8,1178.2 L599.1,1178.2 L605.6,1178.2 L612.2,1178.1 L619.2,1178.1 L626.4,1178.1 L634.1,1178.2 L642.1,1178.2 L650.9,1178.3 L660.3,1178.4 L670.2,1178.5 L680.4,1178.6 L690.7,1178.8 L700.8,1178.9 L710.7,1179 L720.1,1179.2 L729.1,1179.3 L737.9,1179.4 L746.7,1179.5 L755.2,1179.7 L763.5,1179.8 L771.6,1179.9 L779.4,1180 L786.8,1180.1 L794.2,1180.2 L801.7,1180.3 L809,1180.3 L816.1,1180.4 L822.5,1180.4 L828.3,1180.4 L833.2,1180.5 L836.9,1180.5" fill="none" stroke="#cc4778" stroke-width="3" stroke-dasharray="8.5,15.5"/>
<path d="M575.4,1177.6 L576.9,1177.2 L578.6,1176.6 L580.6,1175.9 L583,1175.1 L585.9,1174.3 L589.2,1173.6 L593.1,1172.9 L597.6,1172.5 L602.8,1172.1 L608.7,1171.8 L615.1,1171.6 L622,1171.5 L629.3,1171.4 L637,1171.4 L645,1171.4 L653.3,1171.5 L661.8,1171.7 L670.5,1171.9 L679.6,1172.2 L689.1,1172.5 L699,1172.9 L709.2,1173.4 L720,1173.9 L731.2,1174.4 L743.8,1175 L758.1,1175.7 L773.4,1176.5 L788.9,1177.3 L803.8,1178.1 L817.3,1178.9 L828.6,1179.5 L836.9,1179.9 L836.9,1181.1 L828.6,1181.4 L817.3,1182 L803.8,1182.6 L788.9,1183.3 L773.4,1184 L758.1,1184.7 L743.8,1185.3 L731.2,1185.8 L720,1186.3 L709.2,1186.8 L699,1187.3 L689.1,1187.8 L679.6,1188.1 L670.5,1188.4 L661.8,1188.6 L653.3,1188.7 L645,1188.6 L637,1188.5 L629.3,1188.2 L622,1187.9 L615.1,1187.5 L608.7,1187 L602.8,1186.4 L597.6,1185.8 L593.1,1185.1 L589.2,1184.2 L585.9,1183.2 L583,1182.1 L580.6,1181.1 L578.6,1180.1 L576.9,1179.3 L575.4,1178.8Z" fill="#b22b8f" fill-opacity="0.3"/>
<path d="M575.4,1178.2 L576.9,1178.3 L578.6,1178.4 L580.6,1178.5 L583,1178.6 L585.9,1178.8 L589.2,1178.9 L593.1,1179 L597.6,1179.2 L602.8,1179.3 L608.7,1179.4 L615.1,1179.6 L622,1179.7 L629.3,1179.8 L637,1179.9 L645,1180 L653.3,1180.1 L661.8,1180.2 L670.5,1180.2 L679.6,1180.2 L689.1,1180.1 L699,1180.1 L709.2,1180.1 L720,1180.1 L731.2,1180.1 L743.8,1180.1 L758.1,1180.2 L773.4,1180.2 L788.9,1180.3 L803.8,1180.4 L817.3,1180.4 L828.6,1180.5 L836.9,1180.5" fill="none" stroke="#b22b8f" stroke-width="3" stroke-dasharray="8.5,15.5"/>
<path d="M575.4,1177.6 L576.7,1177.2 L578.1,1176.5 L579.7,1175.7 L581.8,1174.9 L584.4,1174.1 L587.8,1173.4 L592.1,1172.8 L597.6,1172.5 L604.5,1172.4 L612.7,1172.4 L621.9,1172.6 L631.9,1173 L642.3,1173.4 L652.8,1173.8 L663.3,1174.3 L673.3,1174.8 L683.2,1175.3 L693.3,1175.8 L703.5,1176.4 L713.8,1177 L724,1177.7 L734.1,1178.4 L743.9,1179.2 L753.5,1180.1 L763.1,1181.1 L773.1,1182.3 L783.2,1183.6 L793,1184.9 L802.1,1186.2 L810.3,1187.4 L817.2,1188.4 L822.5,1189.1 L822.5,1190.2 L817.2,1190.2 L810.3,1190.1 L802.1,1190 L793,1189.9 L783.2,1189.8 L773.1,1189.7 L763.1,1189.7 L753.5,1189.7 L743.9,1189.7 L734.1,1189.8 L724,1189.9 L713.8,1190 L703.5,1190.1 L693.3,1190.1 L683.2,1190.1 L673.3,1190 L663.3,1189.9 L652.8,1189.8 L642.3,1189.7 L631.9,1189.5 L621.9,1189.2 L612.7,1188.9 L604.5,1188.4 L597.6,1187.8 L592.1,1186.9 L587.8,1185.8 L584.4,1184.5 L581.8,1183.1 L579.7,1181.8 L578.1,1180.5 L576.7,1179.5 L575.4,1178.8Z" fill="#7801a8" fill-opacity="0.33"/>
<path d="M575.4,1178.2 L576.7,1178.3 L578.1,1178.5 L579.7,1178.8 L581.8,1179 L584.4,1179.3 L587.8,1179.6 L592.1,1179.8 L597.6,1180.1 L604.5,1180.4 L612.7,1180.7 L621.9,1180.9 L631.9,1181.2 L642.3,1181.5 L652.8,1181.8 L663.3,1182.1 L673.3,1182.4 L683.2,1182.7 L693.3,1183 L703.5,1183.2 L713.8,1183.5 L724,1183.8 L734.1,1184.1 L743.9,1184.5 L753.5,1184.9 L763.1,1185.4 L773.1,1186 L783.2,1186.7 L793,1187.4 L802.1,1188.1 L810.3,1188.7 L817.2,1189.3 L822.5,1189.7" fill="none" stroke="#7801a8" stroke-width="3" stroke-dasharray="8.5,15.5"/>
<circle cx="673.3" cy="1182.4" r="3.3" fill="none" stroke="#7801a8" stroke-width="2.2"/>
<path d="M575.4,1177.6 L576.4,1177.1 L577.6,1176.3 L579,1175.3 L580.7,1174.3 L582.8,1173.3 L585.3,1172.4 L588.4,1171.8 L592.1,1171.5 L596.3,1171.6 L600.8,1171.9 L605.8,1172.3 L611.3,1173 L617.4,1173.7 L624.2,1174.5 L631.7,1175.3 L639.9,1176.1 L649.3,1176.8 L659.9,1177.5 L671.3,1178.2 L683.3,1179 L695.6,1179.9 L707.9,1180.8 L719.9,1181.8 L731.2,1183 L742.6,1184.4 L754.6,1186.1 L766.7,1187.9 L778.6,1189.8 L789.8,1191.7 L799.8,1193.3 L808.3,1194.7 L814.7,1195.8 L814.7,1196.9 L808.3,1196.5 L799.8,1195.8 L789.8,1195 L778.6,1194.2 L766.7,1193.4 L754.6,1192.6 L742.6,1192 L731.2,1191.6 L719.9,1191.4 L707.9,1191.4 L695.6,1191.6 L683.3,1191.8 L671.3,1192.1 L659.9,1192.3 L649.3,1192.4 L639.9,1192.3 L631.7,1192.1 L624.2,1191.9 L617.4,1191.6 L611.3,1191.2 L605.8,1190.7 L600.8,1190.2 L596.3,1189.5 L592.1,1188.7 L588.4,1187.7 L585.3,1186.4 L582.8,1185 L580.7,1183.5 L579,1182 L577.6,1180.7 L576.4,1179.6 L575.4,1178.8Z" fill="#0d0887" fill-opacity="0.33"/>
<path d="M575.4,1178.2 L576.4,1178.3 L577.6,1178.5 L579,1178.7 L580.7,1178.9 L582.8,1179.2 L585.3,1179.5 L588.4,1179.8 L592.1,1180.1 L596.3,1180.5 L600.8,1180.9 L605.8,1181.4 L611.3,1181.9 L617.4,1182.3 L624.2,1182.8 L631.7,1183.3 L639.9,1183.7 L649.3,1184.1 L659.9,1184.4 L671.3,1184.6 L683.3,1184.9 L695.6,1185.2 L707.9,1185.6 L719.9,1186.1 L731.2,1186.8 L742.6,1187.7 L754.6,1188.9 L766.7,1190.3 L778.6,1191.8 L789.8,1193.2 L799.8,1194.5 L808.3,1195.6 L814.7,1196.3" fill="none" stroke="#0d0887" stroke-width="3" stroke-dasharray="8.5,15.5"/>
<circle cx="639.9" cy="1183.7" r="3.3" fill="none" stroke="#0d0887" stroke-width="2.2"/>
<path d="M1082.9,841.5 L1087.2,841 L1093.1,840.3 L1100.1,839.5 L1107.8,838.6 L1115.9,837.7 L1124,836.7 L1131.6,835.8 L1138.5,835 L1144.5,834.2 L1150.1,833.4 L1155.5,832.6 L1160.7,831.9 L1166,831.1 L1171.6,830.4 L1177.5,829.8 L1184.1,829.3 L1191.4,828.8 L1199.3,828.4 L1207.7,828.1 L1216.3,827.8 L1224.9,827.5 L1233.5,827.4 L1241.9,827.4 L1249.8,827.6 L1257.7,827.9 L1265.9,828.5 L1274.2,829.2 L1282.3,829.9 L1289.8,830.7 L1296.6,831.5 L1302.2,832.1 L1306.6,832.5 L1306.6,834.5 L1302.2,835 L1296.6,835.7 L1289.8,836.6 L1282.3,837.6 L1274.2,838.6 L1265.9,839.5 L1257.7,840.3 L1249.8,841 L1241.9,841.4 L1233.5,841.7 L1224.9,842 L1216.3,842.2 L1207.7,842.3 L1199.3,842.4 L1191.4,842.5 L1184.1,842.7 L1177.5,842.8 L1171.6,843 L1166,843.2 L1160.7,843.3 L1155.5,843.4 L1150.1,843.5 L1144.5,843.6 L1138.5,843.6 L1131.6,843.6 L1124,843.5 L1115.9,843.4 L1107.8,843.2 L1100.1,843 L1093.1,842.9 L1087.2,842.8 L1082.9,842.7Z" fill="#f79044" fill-opacity="0.3"/>
<path d="M1082.9,842.1 L1087.2,841.9 L1093.1,841.7 L1100.1,841.4 L1107.8,841.1 L1115.9,840.8 L1124,840.5 L1131.6,840.1 L1138.5,839.8 L1144.5,839.5 L1150.1,839.1 L1155.5,838.7 L1160.7,838.3 L1166,838 L1171.6,837.6 L1177.5,837.2 L1184.1,836.9 L1191.4,836.7 L1199.3,836.4 L1207.7,836.2 L1216.3,836 L1224.9,835.8 L1233.5,835.6 L1241.9,835.4 L1249.8,835.2 L1257.7,835 L1265.9,834.7 L1274.2,834.5 L1282.3,834.2 L1289.8,834 L1296.6,833.8 L1302.2,833.6 L1306.6,833.5" fill="none" stroke="#f79044" stroke-width="3" stroke-dasharray="8.5,15.5"/>
<circle cx="1184.1" cy="836.9" r="4.6" fill="#f79044"/>
<path d="M1094,841.5 L1098.2,840.4 L1103.9,838.9 L1110.6,837.1 L1118,835.1 L1126,833.1 L1134.1,831.1 L1142.1,829.3 L1149.6,827.8 L1156.8,826.4 L1164,825.2 L1171.3,824 L1178.6,822.9 L1186,821.9 L1193.7,821.1 L1201.5,820.4 L1209.7,819.9 L1218.2,819.6 L1227.1,819.5 L1236.1,819.6 L1245.3,819.8 L1254.7,820.1 L1264.2,820.5 L1273.7,821 L1283.2,821.5 L1293.2,822 L1304.2,822.8 L1315.5,823.7 L1326.7,824.6 L1337.4,825.5 L1347,826.4 L1355.1,827.1 L1361.1,827.6 L1361.1,829.5 L1355.1,829.8 L1347,830.3 L1337.4,830.9 L1326.7,831.5 L1315.5,832.2 L1304.2,832.8 L1293.2,833.4 L1283.2,833.9 L1273.7,834.3 L1264.2,834.6 L1254.7,834.9 L1245.3,835.1 L1236.1,835.3 L1227.1,835.6 L1218.2,835.9 L1209.7,836.2 L1201.5,836.5 L1193.7,836.9 L1186,837.2 L1178.6,837.6 L1171.3,838 L1164,838.4 L1156.8,838.8 L1149.6,839.2 L1142.1,839.7 L1134.1,840.1 L1126,840.6 L1118,841.1 L1110.6,841.6 L1103.9,842 L1098.2,842.4 L1094,842.7Z" fill="#f0804e" fill-opacity="0.3"/>
<path d="M1094,842.1 L1098.2,841.4 L1103.9,840.5 L1110.6,839.3 L1118,838.1 L1126,836.8 L1134.1,835.6 L1142.1,834.5 L1149.6,833.5 L1156.8,832.7 L1164,831.9 L1171.3,831.2 L1178.6,830.5 L1186,829.9 L1193.7,829.4 L1201.5,828.9 L1209.7,828.5 L1218.2,828.3 L1227.1,828.1 L1236.1,828 L1245.3,828 L1254.7,828 L1264.2,828.1 L1273.7,828.1 L1283.2,828.1 L1293.2,828.2 L1304.2,828.2 L1315.5,828.2 L1326.7,828.3 L1337.4,828.4 L1347,828.4 L1355.1,828.5 L1361.1,828.5" fill="none" stroke="#f0804e" stroke-width="3" stroke-dasharray="8.5,15.5"/>
<circle cx="1209.7" cy="828.5" r="3.3" fill="none" stroke="#f0804e" stroke-width="2.2"/>
<path d="M1088.4,841.5 L1094.9,840 L1103.8,837.8 L1114.5,835.3 L1126.2,832.5 L1138.2,829.6 L1149.7,826.9 L1160.1,824.5 L1168.6,822.6 L1174.9,821.2 L1179.5,820.1 L1183.2,819.3 L1186.3,818.6 L1189.5,818.1 L1193.4,817.5 L1198.4,817 L1205.3,816.3 L1214.3,815.5 L1225.3,814.6 L1237.4,813.8 L1250.2,812.9 L1263,812.1 L1275.2,811.4 L1286.2,810.9 L1295.4,810.6 L1303,810.4 L1309.7,810.5 L1315.5,810.8 L1320.5,811.1 L1324.9,811.6 L1328.6,811.9 L1331.7,812.3 L1334.4,812.5 L1334.4,814.4 L1331.7,814.9 L1328.6,815.7 L1324.9,816.5 L1320.5,817.5 L1315.5,818.5 L1309.7,819.7 L1303,820.8 L1295.4,822 L1286.2,823.3 L1275.2,824.8 L1263,826.4 L1250.2,828.1 L1237.4,829.7 L1225.3,831.2 L1214.3,832.5 L1205.3,833.5 L1198.4,834.2 L1193.4,834.7 L1189.5,834.9 L1186.3,835 L1183.2,835.1 L1179.5,835.3 L1174.9,835.5 L1168.6,836 L1160.1,836.7 L1149.7,837.5 L1138.2,838.5 L1126.2,839.5 L1114.5,840.5 L1103.8,841.4 L1094.9,842.1 L1088.4,842.7Z" fill="#e56a5d" fill-opacity="0.3"/>
<path d="M1088.4,842.1 L1094.9,841.1 L1103.8,839.6 L1114.5,837.9 L1126.2,836 L1138.2,834 L1149.7,832.2 L1160.1,830.6 L1168.6,829.3 L1174.9,828.4 L1179.5,827.7 L1183.2,827.2 L1186.3,826.8 L1189.5,826.5 L1193.4,826.1 L1198.4,825.6 L1205.3,824.9 L1214.3,824 L1225.3,822.9 L1237.4,821.7 L1250.2,820.5 L1263,819.3 L1275.2,818.1 L1286.2,817.1 L1295.4,816.3 L1303,815.6 L1309.7,815.1 L1315.5,814.7 L1320.5,814.3 L1324.9,814 L1328.6,813.8 L1331.7,813.6 L1334.4,813.4" fill="none" stroke="#e56a5d" stroke-width="3" stroke-dasharray="8.5,15.5"/>
<circle cx="1205.3" cy="824.9" r="3.3" fill="none" stroke="#e56a5d" stroke-width="2.2"/>
<path d="M1088.4,841.5 L1093.8,839.8 L1101.1,837.5 L1109.8,834.7 L1119.4,831.7 L1129.3,828.5 L1138.9,825.4 L1147.7,822.6 L1155.2,820.1 L1161.3,818 L1166.4,816.2 L1171,814.4 L1175.2,812.8 L1179.4,811.3 L1183.7,809.8 L1188.6,808.3 L1194.2,806.7 L1200.4,805.2 L1206.9,803.6 L1213.8,802.1 L1221,800.7 L1228.4,799.2 L1236.1,797.9 L1244,796.5 L1252,795.3 L1260.6,794 L1269.9,792.8 L1279.6,791.6 L1289.4,790.5 L1299.1,789.5 L1308.3,788.5 L1316.8,787.7 L1324.4,787 L1331.1,786.5 L1337.4,786.2 L1343.1,786 L1348.4,785.9 L1353,785.8 L1357.1,785.8 L1360.5,785.8 L1363.3,785.7 L1363.3,787.6 L1360.5,788.4 L1357.1,789.4 L1353,790.6 L1348.4,792 L1343.1,793.5 L1337.4,795.1 L1331.1,796.8 L1324.4,798.5 L1316.8,800.4 L1308.3,802.4 L1299.1,804.7 L1289.4,806.9 L1279.6,809.2 L1269.9,811.4 L1260.6,813.5 L1252,815.3 L1244,817 L1236.1,818.4 L1228.4,819.8 L1221,821.1 L1213.8,822.3 L1206.9,823.5 L1200.4,824.7 L1194.2,825.8 L1188.6,827 L1183.7,828.1 L1179.4,829.2 L1175.2,830.3 L1171,831.3 L1166.4,832.4 L1161.3,833.4 L1155.2,834.5 L1147.7,835.6 L1138.9,836.7 L1129.3,837.9 L1119.4,839.1 L1109.8,840.2 L1101.1,841.2 L1093.8,842 L1088.4,842.7Z" fill="#cc4778" fill-opacity="0.3"/>
<path d="M1088.4,842.1 L1093.8,841 L1101.1,839.5 L1109.8,837.6 L1119.4,835.6 L1129.3,833.6 L1138.9,831.5 L1147.7,829.5 L1155.2,827.8 L1161.3,826.2 L1166.4,824.7 L1171,823.2 L1175.2,821.8 L1179.4,820.4 L1183.7,819 L1188.6,817.7 L1194.2,816.3 L1200.4,814.9 L1206.9,813.7 L1213.8,812.4 L1221,811.1 L1228.4,809.9 L1236.1,808.6 L1244,807.2 L1252,805.8 L1260.6,804.2 L1269.9,802.5 L1279.6,800.8 L1289.4,799 L1299.1,797.3 L1308.3,795.6 L1316.8,794.1 L1324.4,792.8 L1331.1,791.6 L1337.4,790.6 L1343.1,789.7 L1348.4,788.9 L1353,788.2 L1357.1,787.6 L1360.5,787.1 L1363.3,786.7" fill="none" stroke="#cc4778" stroke-width="3" stroke-dasharray="8.5,15.5"/>
<circle cx="1194.2" cy="816.3" r="3.3" fill="none" stroke="#cc4778" stroke-width="2.2"/>
<path d="M1088.4,841.5 L1092.4,839.8 L1097.7,837.6 L1104,834.8 L1111,831.8 L1118.3,828.7 L1125.6,825.6 L1132.4,822.7 L1138.5,820.1 L1143.9,817.8 L1148.9,815.7 L1153.7,813.7 L1158.3,811.7 L1162.9,809.8 L1167.6,807.9 L1172.4,805.9 L1177.5,803.9 L1182.6,801.7 L1187.6,799.4 L1192.6,797.1 L1197.7,794.8 L1203.1,792.5 L1208.8,790.4 L1215.1,788.4 L1222,786.7 L1229.9,785.1 L1238.8,783.7 L1248.3,782.4 L1258.2,781.2 L1268,780.2 L1277.4,779.3 L1285.9,778.5 L1293.2,777.9 L1299.5,777.4 L1305.2,777.1 L1310.4,776.9 L1314.9,776.9 L1318.9,777 L1322.4,777 L1325.3,777.1 L1327.7,777.1 L1327.7,779 L1325.3,779.8 L1322.4,780.8 L1318.9,782 L1314.9,783.4 L1310.4,784.8 L1305.2,786.3 L1299.5,787.9 L1293.2,789.3 L1285.9,790.8 L1277.4,792.2 L1268,793.7 L1258.2,795.2 L1248.3,796.8 L1238.8,798.4 L1229.9,800.1 L1222,801.9 L1215.1,803.9 L1208.8,806 L1203.1,808.2 L1197.7,810.4 L1192.6,812.7 L1187.6,814.9 L1182.6,817.1 L1177.5,819.2 L1172.4,821.1 L1167.6,823.1 L1162.9,825 L1158.3,826.8 L1153.7,828.6 L1148.9,830.3 L1143.9,832 L1138.5,833.5 L1132.4,835 L1125.6,836.4 L1118.3,837.7 L1111,839 L1104,840.1 L1097.7,841.1 L1092.4,842 L1088.4,842.7Z" fill="#b22b8f" fill-opacity="0.3"/>
<path d="M1088.4,842.1 L1092.4,840.9 L1097.7,839.4 L1104,837.5 L1111,835.4 L1118.3,833.2 L1125.6,831 L1132.4,828.8 L1138.5,826.8 L1143.9,824.9 L1148.9,823 L1153.7,821.2 L1158.3,819.3 L1162.9,817.4 L1167.6,815.5 L1172.4,813.5 L1177.5,811.5 L1182.6,809.4 L1187.6,807.2 L1192.6,804.9 L1197.7,802.6 L1203.1,800.4 L1208.8,798.2 L1215.1,796.2 L1222,794.3 L1229.9,792.6 L1238.8,791 L1248.3,789.6 L1258.2,788.2 L1268,786.9 L1277.4,785.8 L1285.9,784.6 L1293.2,783.6 L1299.5,782.6 L1305.2,781.7 L1310.4,780.9 L1314.9,780.2 L1318.9,779.5 L1322.4,778.9 L1325.3,778.4 L1327.7,778" fill="none" stroke="#b22b8f" stroke-width="3" stroke-dasharray="8.5,15.5"/>
<path d="M1082.9,841.5 L1087.4,839.3 L1093.6,836.3 L1100.9,832.8 L1109,828.9 L1117.5,824.8 L1125.8,820.8 L1133.7,817 L1140.7,813.8 L1146.9,811 L1152.6,808.3 L1158.1,805.7 L1163.4,803.3 L1168.6,801 L1174,798.8 L1179.5,796.7 L1185.2,794.7 L1191.3,792.8 L1197.7,791 L1204.1,789.3 L1210.6,787.7 L1217.2,786.1 L1223.7,784.7 L1230.2,783.4 L1236.4,782.1 L1242.6,780.9 L1248.6,779.8 L1254.6,778.8 L1260.5,777.8 L1266.4,776.9 L1272.3,776.1 L1278.3,775.3 L1284.3,774.4 L1290.7,773.6 L1297.6,772.7 L1304.7,771.8 L1311.8,771 L1318.4,770.2 L1324.4,769.5 L1329.5,768.9 L1333.3,768.5 L1333.3,770.4 L1329.5,771.5 L1324.4,772.9 L1318.4,774.5 L1311.8,776.4 L1304.7,778.4 L1297.6,780.3 L1290.7,782.2 L1284.3,784 L1278.3,785.6 L1272.3,787.1 L1266.4,788.5 L1260.5,790 L1254.6,791.5 L1248.6,793 L1242.6,794.7 L1236.4,796.4 L1230.2,798.3 L1223.7,800.2 L1217.2,802.2 L1210.6,804.3 L1204.1,806.4 L1197.7,808.6 L1191.3,810.7 L1185.2,812.8 L1179.5,815 L1174,817.2 L1168.6,819.4 L1163.4,821.7 L1158.1,823.9 L1152.6,826.1 L1146.9,828.1 L1140.7,830.1 L1133.7,831.9 L1125.8,833.8 L1117.5,835.7 L1109,837.4 L1100.9,839.1 L1093.6,840.5 L1087.4,841.7 L1082.9,842.7Z" fill="#7801a8" fill-opacity="0.33"/>
<path d="M1082.9,842.1 L1087.4,840.6 L1093.6,838.5 L1100.9,836.1 L1109,833.4 L1117.5,830.5 L1125.8,827.7 L1133.7,824.9 L1140.7,822.4 L1146.9,820 L1152.6,817.7 L1158.1,815.3 L1163.4,813 L1168.6,810.7 L1174,808.5 L1179.5,806.3 L1185.2,804.2 L1191.3,802.2 L1197.7,800.3 L1204.1,798.4 L1210.6,796.5 L1217.2,794.7 L1223.7,793 L1230.2,791.3 L1236.4,789.7 L1242.6,788.2 L1248.6,786.8 L1254.6,785.4 L1260.5,784.2 L1266.4,782.9 L1272.3,781.7 L1278.3,780.4 L1284.3,779.2 L1290.7,777.9 L1297.6,776.5 L1304.7,775.1 L1311.8,773.7 L1318.4,772.4 L1324.4,771.2 L1329.5,770.2 L1333.3,769.4" fill="none" stroke="#7801a8" stroke-width="3" stroke-dasharray="8.5,15.5"/>
<circle cx="1185.2" cy="804.2" r="4.6" fill="#7801a8"/>
<path d="M1071.7,841.5 L1076,839.2 L1081.7,836.2 L1088.5,832.5 L1096,828.4 L1103.9,824.2 L1111.8,820 L1119.4,816.2 L1126.3,812.8 L1132.6,809.9 L1138.7,807.2 L1144.7,804.6 L1150.6,802.1 L1156.5,799.8 L1162.3,797.6 L1168.2,795.5 L1174.1,793.5 L1180.1,791.7 L1186.1,790 L1192.1,788.5 L1198,787 L1204,785.7 L1210,784.4 L1216,783.1 L1222,781.9 L1227.9,780.7 L1233.6,779.6 L1239.2,778.5 L1244.9,777.5 L1250.7,776.6 L1256.8,775.6 L1263.1,774.6 L1269.8,773.5 L1277.5,772.2 L1286.1,770.9 L1295.3,769.5 L1304.5,768.1 L1313.4,766.7 L1321.5,765.5 L1328.3,764.5 L1333.3,763.7 L1333.3,765.6 L1328.3,767.1 L1321.5,769 L1313.4,771.3 L1304.5,773.9 L1295.3,776.6 L1286.1,779.3 L1277.5,781.8 L1269.8,784 L1263.1,785.9 L1256.8,787.8 L1250.7,789.5 L1244.9,791.2 L1239.2,792.8 L1233.6,794.5 L1227.9,796.3 L1222,798.1 L1216,800.1 L1210,802.1 L1204,804.1 L1198,806.1 L1192.1,808.2 L1186.1,810.3 L1180.1,812.5 L1174.1,814.6 L1168.2,816.7 L1162.3,819 L1156.5,821.3 L1150.6,823.6 L1144.7,825.9 L1138.7,828.1 L1132.6,830.1 L1126.3,832 L1119.4,833.7 L1111.8,835.4 L1103.9,836.9 L1096,838.4 L1088.5,839.7 L1081.7,840.9 L1076,841.9 L1071.7,842.7Z" fill="#0d0887" fill-opacity="0.33"/>
<path d="M1071.7,842.1 L1076,840.7 L1081.7,838.7 L1088.5,836.4 L1096,833.9 L1103.9,831.2 L1111.8,828.5 L1119.4,825.8 L1126.3,823.4 L1132.6,821 L1138.7,818.7 L1144.7,816.3 L1150.6,813.9 L1156.5,811.6 L1162.3,809.3 L1168.2,807.1 L1174.1,805 L1180.1,803 L1186.1,801 L1192.1,799.1 L1198,797.3 L1204,795.5 L1210,793.8 L1216,792.1 L1222,790.5 L1227.9,788.9 L1233.6,787.5 L1239.2,786.2 L1244.9,784.8 L1250.7,783.5 L1256.8,782.2 L1263.1,780.7 L1269.8,779.2 L1277.5,777.4 L1286.1,775.5 L1295.3,773.3 L1304.5,771.2 L1313.4,769.2 L1321.5,767.4 L1328.3,765.8 L1333.3,764.7" fill="none" stroke="#0d0887" stroke-width="3" stroke-dasharray="8.5,15.5"/>
<circle cx="1174.1" cy="805" r="4.6" fill="#0d0887"/>
<path d="M1620.5,841.5 L1625.7,841.4 L1632.7,841.3 L1641.1,841.1 L1650.3,840.9 L1660,840.7 L1669.7,840.5 L1678.9,840.4 L1687.3,840.4 L1694.8,840.4 L1702,840.5 L1708.9,840.6 L1715.7,840.7 L1722.6,840.9 L1729.7,841.1 L1737.2,841.3 L1745.2,841.5 L1753.9,841.8 L1763.4,842.1 L1773.3,842.5 L1783.4,842.9 L1793.4,843.3 L1803.2,843.7 L1812.4,844 L1820.9,844.4 L1828.9,844.7 L1836.8,845.1 L1844.5,845.5 L1851.7,845.8 L1858.4,846.1 L1864.3,846.4 L1869.3,846.7 L1873.2,846.9 L1873.2,848.8 L1869.3,849.1 L1864.3,849.6 L1858.4,850.2 L1851.7,850.8 L1844.5,851.5 L1836.8,852.1 L1828.9,852.6 L1820.9,853 L1812.4,853.3 L1803.2,853.6 L1793.4,853.8 L1783.4,854 L1773.3,854.1 L1763.4,854.1 L1753.9,854.1 L1745.2,854 L1737.2,853.7 L1729.7,853.4 L1722.6,853 L1715.7,852.5 L1708.9,851.9 L1702,851.3 L1694.8,850.6 L1687.3,849.9 L1678.9,849.1 L1669.7,848.2 L1660,847.1 L1650.3,846.1 L1641.1,845 L1632.7,844.1 L1625.7,843.3 L1620.5,842.7Z" fill="#f79044" fill-opacity="0.35"/>
<path d="M1620.5,842.1 L1625.7,842.3 L1632.7,842.7 L1641.1,843.1 L1650.3,843.5 L1660,843.9 L1669.7,844.4 L1678.9,844.8 L1687.3,845.2 L1694.8,845.5 L1702,845.8 L1708.9,846.1 L1715.7,846.3 L1722.6,846.6 L1729.7,846.8 L1737.2,847.1 L1745.2,847.3 L1753.9,847.4 L1763.4,847.6 L1773.3,847.8 L1783.4,847.9 L1793.4,848 L1803.2,848.1 L1812.4,848.2 L1820.9,848.2 L1828.9,848.2 L1836.8,848.2 L1844.5,848.2 L1851.7,848.1 L1858.4,848 L1864.3,847.9 L1869.3,847.9 L1873.2,847.8" fill="none" stroke="#f79044" stroke-width="3" stroke-dasharray="8.5,15.5"/>
<circle cx="1745.2" cy="847.3" r="3.3" fill="none" stroke="#f79044" stroke-width="2.2"/>
<path d="M1631.7,841.5 L1636.9,840.1 L1643.9,838.1 L1652.3,835.7 L1661.6,833.1 L1671.3,830.5 L1681,828 L1690.2,825.7 L1698.4,823.9 L1705.8,822.6 L1712.6,821.4 L1719.1,820.5 L1725.6,819.7 L1732.1,819 L1738.9,818.4 L1746.1,817.8 L1754.1,817.2 L1762.8,816.7 L1772.1,816.2 L1781.9,815.7 L1792,815.3 L1802.2,815 L1812.4,814.7 L1822.4,814.5 L1832,814.4 L1841.8,814.3 L1852.2,814.4 L1862.7,814.5 L1873,814.7 L1882.7,814.9 L1891.5,815.1 L1898.8,815.2 L1904.3,815.3 L1904.3,817.2 L1898.8,818 L1891.5,819.1 L1882.7,820.3 L1873,821.7 L1862.7,823.1 L1852.2,824.5 L1841.8,825.7 L1832,826.8 L1822.4,827.7 L1812.4,828.5 L1802.2,829.3 L1792,830 L1781.9,830.6 L1772.1,831.3 L1762.8,831.9 L1754.1,832.5 L1746.1,833.2 L1738.9,833.8 L1732.1,834.4 L1725.6,835 L1719.1,835.5 L1712.6,836.1 L1705.8,836.7 L1698.4,837.3 L1690.2,838 L1681,838.7 L1671.3,839.5 L1661.6,840.3 L1652.3,841 L1643.9,841.7 L1636.9,842.3 L1631.7,842.7Z" fill="#f0804e" fill-opacity="0.3"/>
<path d="M1631.7,842.1 L1636.9,841.2 L1643.9,839.9 L1652.3,838.4 L1661.6,836.7 L1671.3,835 L1681,833.4 L1690.2,831.9 L1698.4,830.6 L1705.8,829.6 L1712.6,828.7 L1719.1,828 L1725.6,827.3 L1732.1,826.7 L1738.9,826.1 L1746.1,825.5 L1754.1,824.9 L1762.8,824.3 L1772.1,823.8 L1781.9,823.4 L1792,822.9 L1802.2,822.5 L1812.4,822 L1822.4,821.6 L1832,821.1 L1841.8,820.5 L1852.2,819.8 L1862.7,819.1 L1873,818.4 L1882.7,817.8 L1891.5,817.2 L1898.8,816.7 L1904.3,816.3" fill="none" stroke="#f0804e" stroke-width="3" stroke-dasharray="8.5,15.5"/>
<path d="M1631.7,841.5 L1636.9,840.1 L1643.9,838.2 L1652.3,835.8 L1661.6,833.3 L1671.3,830.7 L1681,828.1 L1690.2,825.8 L1698.4,823.9 L1705.5,822.3 L1711.6,820.8 L1717.3,819.3 L1723,818.1 L1729.1,817 L1736,816.1 L1744.2,815.5 L1754.1,815.1 L1766.5,815.2 L1781.3,815.7 L1797.8,816.5 L1814.9,817.5 L1831.8,818.5 L1847.8,819.6 L1861.8,820.5 L1873.2,821.3 L1881.9,821.8 L1888.8,822.3 L1894.2,822.8 L1898.4,823.2 L1901.7,823.5 L1904.3,823.8 L1906.6,824.1 L1908.8,824.3 L1908.8,826.2 L1906.6,826.6 L1904.3,827.1 L1901.7,827.7 L1898.4,828.4 L1894.2,829.1 L1888.8,829.8 L1881.9,830.4 L1873.2,830.8 L1861.8,831.1 L1847.8,831.3 L1831.8,831.5 L1814.9,831.6 L1797.8,831.7 L1781.3,831.8 L1766.5,832 L1754.1,832.3 L1744.2,832.8 L1736,833.3 L1729.1,833.9 L1723,834.6 L1717.3,835.3 L1711.6,836 L1705.5,836.7 L1698.4,837.3 L1690.2,838 L1681,838.8 L1671.3,839.5 L1661.6,840.3 L1652.3,841 L1643.9,841.7 L1636.9,842.3 L1631.7,842.7Z" fill="#e56a5d" fill-opacity="0.3"/>
<path d="M1631.7,842.1 L1636.9,841.2 L1643.9,839.9 L1652.3,838.4 L1661.6,836.8 L1671.3,835.1 L1681,833.4 L1690.2,831.9 L1698.4,830.6 L1705.5,829.5 L1711.6,828.4 L1717.3,827.3 L1723,826.3 L1729.1,825.5 L1736,824.7 L1744.2,824.1 L1754.1,823.7 L1766.5,823.6 L1781.3,823.7 L1797.8,824.1 L1814.9,824.5 L1831.8,825 L1847.8,825.5 L1861.8,825.8 L1873.2,826 L1881.9,826.1 L1888.8,826 L1894.2,825.9 L1898.4,825.8 L1901.7,825.6 L1904.3,825.5 L1906.6,825.4 L1908.8,825.3" fill="none" stroke="#e56a5d" stroke-width="3" stroke-dasharray="8.5,15.5"/>
<circle cx="1754.1" cy="823.7" r="4.6" fill="#e56a5d"/>
<path d="M1631.7,841.5 L1636.8,840.3 L1643.8,838.6 L1652,836.5 L1661.2,834.3 L1670.9,831.9 L1680.6,829.7 L1689.9,827.6 L1698.4,825.8 L1706.1,824.3 L1713.4,823 L1720.4,821.7 L1727.4,820.5 L1734.6,819.4 L1742.2,818.4 L1750.5,817.5 L1759.6,816.7 L1769.7,816 L1780.3,815.4 L1791.6,814.8 L1803.3,814.4 L1815.4,814.1 L1827.8,813.8 L1840.4,813.6 L1853.1,813.4 L1867,813.3 L1882.3,813.3 L1898.5,813.4 L1914.6,813.5 L1930.1,813.7 L1944,813.8 L1955.7,813.9 L1964.4,814 L1964.4,815.9 L1955.7,816.6 L1944,817.5 L1930.1,818.6 L1914.6,819.8 L1898.5,821.1 L1882.3,822.4 L1867,823.7 L1853.1,824.9 L1840.4,826 L1827.8,827.2 L1815.4,828.4 L1803.3,829.6 L1791.6,830.8 L1780.3,831.9 L1769.7,832.9 L1759.6,833.9 L1750.5,834.7 L1742.2,835.5 L1734.6,836.2 L1727.4,836.9 L1720.4,837.5 L1713.4,838.1 L1706.1,838.7 L1698.4,839.2 L1689.9,839.8 L1680.6,840.3 L1670.9,840.8 L1661.2,841.3 L1652,841.7 L1643.8,842.1 L1636.8,842.4 L1631.7,842.7Z" fill="#cc4778" fill-opacity="0.3"/>
<path d="M1631.7,842.1 L1636.8,841.3 L1643.8,840.3 L1652,839.1 L1661.2,837.8 L1670.9,836.4 L1680.6,835 L1689.9,833.7 L1698.4,832.5 L1706.1,831.5 L1713.4,830.5 L1720.4,829.6 L1727.4,828.7 L1734.6,827.8 L1742.2,827 L1750.5,826.1 L1759.6,825.3 L1769.7,824.4 L1780.3,823.6 L1791.6,822.8 L1803.3,822 L1815.4,821.3 L1827.8,820.5 L1840.4,819.8 L1853.1,819.2 L1867,818.5 L1882.3,817.9 L1898.5,817.3 L1914.6,816.7 L1930.1,816.1 L1944,815.7 L1955.7,815.3 L1964.4,814.9" fill="none" stroke="#cc4778" stroke-width="3" stroke-dasharray="8.5,15.5"/>
<circle cx="1759.6" cy="825.3" r="3.3" fill="none" stroke="#cc4778" stroke-width="2.2"/>
<path d="M1626.1,841.5 L1629.7,839.5 L1634.6,836.8 L1640.3,833.5 L1646.7,830 L1653.6,826.2 L1660.5,822.5 L1667.4,818.9 L1673.9,815.7 L1680.2,812.7 L1686.3,809.6 L1692.5,806.5 L1698.8,803.5 L1705.3,800.7 L1712,798.2 L1718.9,796 L1726.3,794.3 L1733.8,793 L1741.4,792.1 L1749.3,791.6 L1757.3,791.3 L1765.8,791.2 L1774.7,791.4 L1784.1,791.7 L1794.1,792.2 L1805.3,792.9 L1817.7,794 L1830.9,795.4 L1844.4,797 L1857.8,798.6 L1870.5,800 L1882.1,801.3 L1892.1,802.3 L1900.7,803 L1908.5,803.5 L1915.4,803.9 L1921.6,804.2 L1927,804.4 L1931.6,804.5 L1935.6,804.7 L1938.8,804.8 L1938.8,806.7 L1935.6,807.2 L1931.6,808 L1927,808.8 L1921.6,809.8 L1915.4,810.7 L1908.5,811.6 L1900.7,812.3 L1892.1,812.8 L1882.1,813.1 L1870.5,813.2 L1857.8,813.2 L1844.4,813 L1830.9,812.9 L1817.7,812.9 L1805.3,813 L1794.1,813.2 L1784.1,813.7 L1774.7,814.2 L1765.8,814.7 L1757.3,815.4 L1749.3,816.2 L1741.4,817.1 L1733.8,818 L1726.3,819.2 L1718.9,820.4 L1712,821.9 L1705.3,823.5 L1698.8,825.3 L1692.5,827 L1686.3,828.8 L1680.2,830.4 L1673.9,832 L1667.4,833.5 L1660.5,835 L1653.6,836.6 L1646.7,838.1 L1640.3,839.5 L1634.6,840.8 L1629.7,841.9 L1626.1,842.7Z" fill="#b22b8f" fill-opacity="0.3"/>
<path d="M1626.1,842.1 L1629.7,840.6 L1634.6,838.5 L1640.3,836 L1646.7,833.3 L1653.6,830.4 L1660.5,827.6 L1667.4,824.9 L1673.9,822.4 L1680.2,820.1 L1686.3,817.7 L1692.5,815.4 L1698.8,813.1 L1705.3,811 L1712,809 L1718.9,807.2 L1726.3,805.8 L1733.8,804.6 L1741.4,803.7 L1749.3,802.9 L1757.3,802.4 L1765.8,802 L1774.7,801.8 L1784.1,801.7 L1794.1,801.8 L1805.3,802 L1817.7,802.6 L1830.9,803.4 L1844.4,804.3 L1857.8,805.2 L1870.5,806 L1882.1,806.7 L1892.1,807.1 L1900.7,807.3 L1908.5,807.2 L1915.4,807 L1921.6,806.8 L1927,806.5 L1931.6,806.2 L1935.6,805.9 L1938.8,805.8" fill="none" stroke="#b22b8f" stroke-width="3" stroke-dasharray="8.5,15.5"/>
<circle cx="1726.3" cy="805.8" r="3.3" fill="none" stroke="#b22b8f" stroke-width="2.2"/>
<path d="M1631.7,841.5 L1636.5,839.5 L1643,836.8 L1650.7,833.4 L1659.3,829.8 L1668.2,826.1 L1677.1,822.5 L1685.4,819.3 L1692.9,816.7 L1699.3,814.5 L1705.1,812.7 L1710.5,811 L1715.8,809.6 L1721.2,808.3 L1727,807.1 L1733.4,806 L1740.7,805 L1749.1,804.1 L1758.5,803.2 L1768.6,802.5 L1779,801.9 L1789.4,801.4 L1799.5,801 L1809,800.7 L1817.5,800.4 L1824.9,800.3 L1831.5,800.4 L1837.4,800.5 L1843,800.8 L1848.5,801 L1854.3,801.4 L1860.6,801.7 L1867.6,801.9 L1875.9,802.2 L1885.4,802.5 L1895.5,802.9 L1905.8,803.2 L1915.7,803.5 L1924.7,803.8 L1932.2,804.1 L1937.7,804.2 L1937.7,806.2 L1932.2,806.4 L1924.7,806.8 L1915.7,807.2 L1905.8,807.6 L1895.5,808.1 L1885.4,808.6 L1875.9,809.1 L1867.6,809.6 L1860.6,810.1 L1854.3,810.5 L1848.5,810.9 L1843,811.4 L1837.4,811.9 L1831.5,812.4 L1824.9,813.1 L1817.5,813.8 L1809,814.6 L1799.5,815.5 L1789.4,816.5 L1779,817.5 L1768.6,818.6 L1758.5,819.8 L1749.1,821 L1740.7,822.2 L1733.4,823.5 L1727,825 L1721.2,826.5 L1715.8,828 L1710.5,829.6 L1705.1,831.1 L1699.3,832.5 L1692.9,833.9 L1685.4,835.2 L1677.1,836.5 L1668.2,837.8 L1659.3,839 L1650.7,840.1 L1643,841.2 L1636.5,842 L1631.7,842.7Z" fill="#7801a8" fill-opacity="0.33"/>
<path d="M1631.7,842.1 L1636.5,840.8 L1643,839 L1650.7,836.8 L1659.3,834.4 L1668.2,831.9 L1677.1,829.5 L1685.4,827.2 L1692.9,825.3 L1699.3,823.5 L1705.1,821.9 L1710.5,820.3 L1715.8,818.8 L1721.2,817.4 L1727,816 L1733.4,814.8 L1740.7,813.6 L1749.1,812.5 L1758.5,811.5 L1768.6,810.6 L1779,809.7 L1789.4,808.9 L1799.5,808.3 L1809,807.6 L1817.5,807.1 L1824.9,806.7 L1831.5,806.4 L1837.4,806.2 L1843,806.1 L1848.5,806 L1854.3,805.9 L1860.6,805.9 L1867.6,805.8 L1875.9,805.7 L1885.4,805.6 L1895.5,805.5 L1905.8,805.4 L1915.7,805.3 L1924.7,805.3 L1932.2,805.2 L1937.7,805.2" fill="none" stroke="#7801a8" stroke-width="3" stroke-dasharray="8.5,15.5"/>
<circle cx="1740.7" cy="813.6" r="4.6" fill="#7801a8"/>
<path d="M1620.5,841.5 L1625,840.4 L1631,839 L1638,837.2 L1645.9,835.2 L1654.3,833.2 L1662.9,831.3 L1671.4,829.6 L1679.5,828.1 L1687.1,826.9 L1694.5,825.8 L1701.8,824.8 L1709.3,823.9 L1717.2,823.1 L1725.6,822.5 L1734.9,822.1 L1745.2,822 L1756.6,822.2 L1769.1,822.7 L1782.3,823.4 L1796.2,824.3 L1810.4,825.3 L1824.8,826.3 L1839.1,827.4 L1853.1,828.3 L1867.8,829.3 L1883.8,830.5 L1900.3,831.7 L1916.6,832.9 L1932.2,834.1 L1946.1,835.2 L1957.9,836.1 L1966.7,836.7 L1966.7,838.7 L1957.9,838.8 L1946.1,838.9 L1932.2,839.1 L1916.6,839.3 L1900.3,839.5 L1883.8,839.6 L1867.8,839.7 L1853.1,839.8 L1839.1,839.8 L1824.8,839.7 L1810.4,839.6 L1796.2,839.4 L1782.3,839.3 L1769.1,839.2 L1756.6,839.2 L1745.2,839.2 L1734.9,839.4 L1725.6,839.6 L1717.2,839.9 L1709.3,840.3 L1701.8,840.6 L1694.5,841 L1687.1,841.3 L1679.5,841.5 L1671.4,841.7 L1662.9,841.9 L1654.3,842.1 L1645.9,842.2 L1638,842.4 L1631,842.5 L1625,842.6 L1620.5,842.7Z" fill="#0d0887" fill-opacity="0.33"/>
<path d="M1620.5,842.1 L1625,841.5 L1631,840.7 L1638,839.8 L1645.9,838.7 L1654.3,837.7 L1662.9,836.6 L1671.4,835.6 L1679.5,834.8 L1687.1,834.1 L1694.5,833.4 L1701.8,832.7 L1709.3,832.1 L1717.2,831.5 L1725.6,831.1 L1734.9,830.8 L1745.2,830.6 L1756.6,830.7 L1769.1,830.9 L1782.3,831.4 L1796.2,831.9 L1810.4,832.4 L1824.8,833 L1839.1,833.6 L1853.1,834.1 L1867.8,834.5 L1883.8,835 L1900.3,835.6 L1916.6,836.1 L1932.2,836.6 L1946.1,837 L1957.9,837.4 L1966.7,837.7" fill="none" stroke="#0d0887" stroke-width="3" stroke-dasharray="8.5,15.5"/>
<circle cx="1745.2" cy="830.6" r="3.3" fill="none" stroke="#0d0887" stroke-width="2.2"/>
<path d="M1103,1177.2 L1107.5,1176.9 L1113.5,1176.3 L1120.7,1175.7 L1128.7,1175 L1137,1174.3 L1145.4,1173.6 L1153.5,1173 L1160.9,1172.5 L1167.6,1172 L1174.2,1171.5 L1180.6,1171 L1186.9,1170.6 L1193.3,1170.2 L1199.8,1169.9 L1206.4,1169.7 L1213.2,1169.6 L1220.2,1169.6 L1227.5,1169.7 L1234.9,1169.9 L1242.5,1170.1 L1250,1170.4 L1257.5,1170.8 L1264.9,1171.1 L1272.2,1171.5 L1279.7,1172 L1287.6,1172.5 L1295.7,1173.2 L1303.7,1173.8 L1311.2,1174.5 L1317.9,1175.1 L1323.5,1175.6 L1327.8,1175.9 L1327.8,1177.8 L1323.5,1178.1 L1317.9,1178.6 L1311.2,1179.1 L1303.7,1179.7 L1295.7,1180.3 L1287.6,1180.9 L1279.7,1181.5 L1272.2,1182 L1264.9,1182.6 L1257.5,1183.1 L1250,1183.7 L1242.5,1184.3 L1234.9,1184.8 L1227.5,1185.3 L1220.2,1185.6 L1213.2,1185.8 L1206.4,1185.9 L1199.8,1185.8 L1193.3,1185.7 L1186.9,1185.4 L1180.6,1185.1 L1174.2,1184.7 L1167.6,1184.3 L1160.9,1183.9 L1153.5,1183.4 L1145.4,1182.8 L1137,1182.1 L1128.7,1181.4 L1120.7,1180.7 L1113.5,1180.1 L1107.5,1179.5 L1103,1179.2Z" fill="#f79044" fill-opacity="0.3"/>
<path d="M1103,1178.2 L1107.5,1178.2 L1113.5,1178.2 L1120.7,1178.2 L1128.7,1178.2 L1137,1178.2 L1145.4,1178.2 L1153.5,1178.2 L1160.9,1178.2 L1167.6,1178.2 L1174.2,1178.2 L1180.6,1178.2 L1186.9,1178.3 L1193.3,1178.3 L1199.8,1178.3 L1206.4,1178.2 L1213.2,1178.2 L1220.2,1178.1 L1227.5,1178 L1234.9,1177.9 L1242.5,1177.7 L1250,1177.6 L1257.5,1177.5 L1264.9,1177.3 L1272.2,1177.2 L1279.7,1177.2 L1287.6,1177.1 L1295.7,1177 L1303.7,1177 L1311.2,1177 L1317.9,1176.9 L1323.5,1176.9 L1327.8,1176.9" fill="none" stroke="#f79044" stroke-width="3" stroke-dasharray="8.5,15.5"/>
<circle cx="1213.2" cy="1178.2" r="4.6" fill="#f79044"/>
<path d="M1108.5,1176.5 L1113,1175.4 L1119,1173.8 L1126.2,1172 L1134.1,1170 L1142.4,1167.9 L1150.7,1166 L1158.4,1164.2 L1165.3,1162.7 L1171.5,1161.6 L1177.3,1160.5 L1182.9,1159.6 L1188.3,1158.8 L1193.7,1158.1 L1199,1157.5 L1204.4,1157 L1209.8,1156.6 L1215.3,1156.3 L1220.5,1156.1 L1225.7,1156.1 L1231,1156.1 L1236.4,1156.2 L1242,1156.3 L1247.9,1156.6 L1254.4,1156.8 L1261.7,1157.2 L1270.1,1157.6 L1279.2,1158.2 L1288.3,1158.8 L1297.1,1159.4 L1305.1,1160 L1311.7,1160.5 L1316.7,1160.8 L1316.7,1162.7 L1311.7,1163.3 L1305.1,1164 L1297.1,1164.9 L1288.3,1165.8 L1279.2,1166.8 L1270.1,1167.7 L1261.7,1168.5 L1254.4,1169.2 L1247.9,1169.7 L1242,1170.2 L1236.4,1170.5 L1231,1170.8 L1225.7,1171.1 L1220.5,1171.3 L1215.3,1171.6 L1209.8,1171.9 L1204.4,1172.2 L1199,1172.5 L1193.7,1172.7 L1188.3,1172.9 L1182.9,1173.2 L1177.3,1173.5 L1171.5,1173.8 L1165.3,1174.2 L1158.4,1174.7 L1150.7,1175.2 L1142.4,1175.8 L1134.1,1176.4 L1126.2,1177 L1119,1177.6 L1113,1178.1 L1108.5,1178.4Z" fill="#f0804e" fill-opacity="0.3"/>
<path d="M1108.5,1177.4 L1113,1176.7 L1119,1175.7 L1126.2,1174.5 L1134.1,1173.2 L1142.4,1171.9 L1150.7,1170.6 L1158.4,1169.4 L1165.3,1168.5 L1171.5,1167.7 L1177.3,1167 L1182.9,1166.4 L1188.3,1165.8 L1193.7,1165.4 L1199,1165 L1204.4,1164.6 L1209.8,1164.3 L1215.3,1164 L1220.5,1163.8 L1225.7,1163.8 L1231,1163.7 L1236.4,1163.7 L1242,1163.7 L1247.9,1163.6 L1254.4,1163.5 L1261.7,1163.3 L1270.1,1163.1 L1279.2,1162.8 L1288.3,1162.6 L1297.1,1162.3 L1305.1,1162.1 L1311.7,1161.9 L1316.7,1161.8" fill="none" stroke="#f0804e" stroke-width="3" stroke-dasharray="8.5,15.5"/>
<circle cx="1209.8" cy="1164.3" r="3.3" fill="none" stroke="#f0804e" stroke-width="2.2"/>
<path d="M1107.4,1177.2 L1110.6,1175.5 L1114.8,1173.1 L1119.8,1170.3 L1125.4,1167.2 L1131.4,1163.9 L1137.5,1160.5 L1143.7,1157.3 L1149.7,1154.3 L1155.5,1151.4 L1161.3,1148.3 L1167.1,1145.2 L1173,1142.2 L1179.3,1139.2 L1186,1136.5 L1193.1,1134.1 L1200.9,1132.2 L1209.8,1130.6 L1219.9,1129.4 L1230.7,1128.5 L1241.8,1127.8 L1252.7,1127.4 L1263,1127 L1272.2,1126.8 L1280,1126.6 L1286.3,1126.6 L1291.6,1126.8 L1296.1,1127.2 L1299.9,1127.7 L1303.1,1128.3 L1305.7,1128.8 L1308,1129.2 L1310,1129.5 L1310,1131.4 L1308,1131.9 L1305.7,1132.5 L1303.1,1133.3 L1299.9,1134.1 L1296.1,1135 L1291.6,1136 L1286.3,1137 L1280,1138.1 L1272.2,1139.1 L1263,1140.2 L1252.7,1141.3 L1241.8,1142.5 L1230.7,1143.7 L1219.9,1145.1 L1209.8,1146.7 L1200.9,1148.4 L1193.1,1150.4 L1186,1152.8 L1179.3,1155.3 L1173,1158 L1167.1,1160.6 L1161.3,1163.2 L1155.5,1165.6 L1149.7,1167.7 L1143.7,1169.6 L1137.5,1171.4 L1131.4,1173.1 L1125.4,1174.6 L1119.8,1176 L1114.8,1177.3 L1110.6,1178.3 L1107.4,1179.2Z" fill="#e56a5d" fill-opacity="0.3"/>
<path d="M1107.4,1178.2 L1110.6,1176.9 L1114.8,1175.2 L1119.8,1173.1 L1125.4,1170.9 L1131.4,1168.4 L1137.5,1165.9 L1143.7,1163.4 L1149.7,1161 L1155.5,1158.5 L1161.3,1155.9 L1167.1,1153.1 L1173,1150.3 L1179.3,1147.6 L1186,1145.1 L1193.1,1142.7 L1200.9,1140.8 L1209.8,1139.1 L1219.9,1137.7 L1230.7,1136.5 L1241.8,1135.4 L1252.7,1134.5 L1263,1133.7 L1272.2,1133 L1280,1132.4 L1286.3,1131.8 L1291.6,1131.4 L1296.1,1131.1 L1299.9,1130.9 L1303.1,1130.7 L1305.7,1130.6 L1308,1130.6 L1310,1130.5" fill="none" stroke="#e56a5d" stroke-width="3" stroke-dasharray="8.5,15.5"/>
<circle cx="1200.9" cy="1140.8" r="4.6" fill="#e56a5d"/>
<path d="M1110.8,1177.2 L1114.6,1174.9 L1119.7,1171.8 L1125.8,1168 L1132.5,1163.9 L1139.7,1159.6 L1147,1155.3 L1154.2,1151.2 L1160.9,1147.6 L1167.4,1144.3 L1174,1141.1 L1180.8,1137.9 L1187.6,1134.8 L1194.3,1131.9 L1200.8,1129.2 L1207.1,1126.7 L1213.2,1124.5 L1218.6,1122.6 L1223.5,1121.1 L1228,1119.7 L1232.4,1118.6 L1237,1117.6 L1242,1116.7 L1247.7,1115.8 L1254.4,1115 L1262.5,1114.2 L1272.2,1113.5 L1282.8,1112.9 L1293.7,1112.4 L1304.2,1111.9 L1313.9,1111.6 L1321.9,1111.2 L1327.8,1111 L1327.8,1112.9 L1321.9,1114.1 L1313.9,1115.7 L1304.2,1117.6 L1293.7,1119.8 L1282.8,1122 L1272.2,1124.3 L1262.5,1126.4 L1254.4,1128.3 L1247.7,1130.1 L1242,1131.7 L1237,1133.2 L1232.4,1134.7 L1228,1136.2 L1223.5,1137.9 L1218.6,1139.7 L1213.2,1141.7 L1207.1,1144 L1200.8,1146.6 L1194.3,1149.3 L1187.6,1152.1 L1180.8,1155 L1174,1157.8 L1167.4,1160.5 L1160.9,1162.9 L1154.2,1165.3 L1147,1167.7 L1139.7,1170.1 L1132.5,1172.4 L1125.8,1174.5 L1119.7,1176.4 L1114.6,1177.9 L1110.8,1179.2Z" fill="#cc4778" fill-opacity="0.3"/>
<path d="M1110.8,1178.2 L1114.6,1176.4 L1119.7,1174.1 L1125.8,1171.3 L1132.5,1168.1 L1139.7,1164.8 L1147,1161.5 L1154.2,1158.3 L1160.9,1155.3 L1167.4,1152.4 L1174,1149.4 L1180.8,1146.4 L1187.6,1143.5 L1194.3,1140.6 L1200.8,1137.9 L1207.1,1135.4 L1213.2,1133.1 L1218.6,1131.2 L1223.5,1129.5 L1228,1128 L1232.4,1126.6 L1237,1125.4 L1242,1124.2 L1247.7,1122.9 L1254.4,1121.7 L1262.5,1120.3 L1272.2,1118.9 L1282.8,1117.5 L1293.7,1116.1 L1304.2,1114.8 L1313.9,1113.6 L1321.9,1112.7 L1327.8,1111.9" fill="none" stroke="#cc4778" stroke-width="3" stroke-dasharray="8.5,15.5"/>
<circle cx="1213.2" cy="1133.1" r="3.3" fill="none" stroke="#cc4778" stroke-width="2.2"/>
<path d="M1116.3,1177.2 L1119.8,1175.1 L1124.4,1172.2 L1129.9,1168.8 L1136,1165 L1142.4,1161 L1148.8,1157 L1155.1,1153.1 L1160.9,1149.5 L1166.3,1146.1 L1171.7,1142.6 L1177.2,1139 L1182.6,1135.5 L1187.9,1132.2 L1193.1,1129 L1198.2,1126.2 L1203.2,1123.8 L1207.7,1121.8 L1211.8,1120.2 L1215.6,1119 L1219.4,1117.9 L1223.4,1117 L1227.8,1116.2 L1232.9,1115.3 L1238.8,1114.2 L1246.1,1113 L1254.8,1111.8 L1264.5,1110.5 L1274.4,1109.3 L1284,1108.2 L1292.8,1107.1 L1300.2,1106.3 L1305.5,1105.6 L1305.5,1107.5 L1300.2,1109.1 L1292.8,1111.3 L1284,1113.9 L1274.4,1116.7 L1264.5,1119.7 L1254.8,1122.6 L1246.1,1125.3 L1238.8,1127.6 L1232.9,1129.5 L1227.8,1131.2 L1223.4,1132.6 L1219.4,1134 L1215.6,1135.5 L1211.8,1137 L1207.7,1138.8 L1203.2,1141 L1198.2,1143.5 L1193.1,1146.4 L1187.9,1149.6 L1182.6,1152.8 L1177.2,1156.1 L1171.7,1159.3 L1166.3,1162.2 L1160.9,1164.8 L1155.1,1167.2 L1148.8,1169.4 L1142.4,1171.5 L1136,1173.5 L1129.9,1175.3 L1124.4,1176.8 L1119.8,1178.1 L1116.3,1179.2Z" fill="#b22b8f" fill-opacity="0.3"/>
<path d="M1116.3,1178.2 L1119.8,1176.6 L1124.4,1174.5 L1129.9,1172 L1136,1169.2 L1142.4,1166.3 L1148.8,1163.2 L1155.1,1160.1 L1160.9,1157.2 L1166.3,1154.2 L1171.7,1150.9 L1177.2,1147.6 L1182.6,1144.2 L1187.9,1140.9 L1193.1,1137.7 L1198.2,1134.9 L1203.2,1132.4 L1207.7,1130.3 L1211.8,1128.6 L1215.6,1127.2 L1219.4,1126 L1223.4,1124.8 L1227.8,1123.7 L1232.9,1122.4 L1238.8,1120.9 L1246.1,1119.1 L1254.8,1117.2 L1264.5,1115.1 L1274.4,1113 L1284,1111 L1292.8,1109.2 L1300.2,1107.7 L1305.5,1106.6" fill="none" stroke="#b22b8f" stroke-width="3" stroke-dasharray="8.5,15.5"/>
<circle cx="1203.2" cy="1128.5" r="4.6" fill="#b22b8f"/>
<path d="M1137.5,1177.2 L1139,1175.5 L1141.1,1173 L1143.5,1170.1 L1146.2,1166.9 L1149,1163.6 L1152,1160.3 L1154.8,1157.2 L1157.5,1154.5 L1160.1,1152.1 L1162.6,1149.9 L1165.1,1147.8 L1167.6,1145.8 L1170.2,1143.8 L1172.9,1141.8 L1175.7,1139.7 L1178.7,1137.5 L1181.7,1135.2 L1184.7,1132.7 L1187.7,1130.2 L1190.9,1127.7 L1194.3,1125.2 L1198,1122.9 L1202,1120.7 L1206.5,1118.8 L1211.2,1117.2 L1216,1115.8 L1220.9,1114.6 L1226.2,1113.5 L1232.1,1112.5 L1238.6,1111.5 L1246,1110.3 L1254.4,1109.1 L1264.6,1107.5 L1276.9,1105.9 L1290.6,1104.1 L1304.6,1102.2 L1318.4,1100.5 L1330.9,1098.9 L1341.3,1097.6 L1349,1096.6 L1349,1098.6 L1341.3,1100.6 L1330.9,1103.4 L1318.4,1106.8 L1304.6,1110.5 L1290.6,1114.3 L1276.9,1118 L1264.6,1121.4 L1254.4,1124.3 L1246,1126.8 L1238.6,1128.9 L1232.1,1130.8 L1226.2,1132.6 L1220.9,1134.4 L1216,1136.1 L1211.2,1137.9 L1206.5,1139.8 L1202,1141.9 L1198,1144 L1194.3,1146.2 L1190.9,1148.4 L1187.7,1150.5 L1184.7,1152.6 L1181.7,1154.7 L1178.7,1156.6 L1175.7,1158.5 L1172.9,1160.3 L1170.2,1162 L1167.6,1163.7 L1165.1,1165.3 L1162.6,1166.9 L1160.1,1168.4 L1157.5,1169.8 L1154.8,1171.2 L1152,1172.6 L1149,1174 L1146.2,1175.3 L1143.5,1176.5 L1141.1,1177.6 L1139,1178.5 L1137.5,1179.2Z" fill="#0d0887" fill-opacity="0.33"/>
<path d="M1137.5,1178.2 L1139,1177 L1141.1,1175.3 L1143.5,1173.3 L1146.2,1171.1 L1149,1168.8 L1152,1166.5 L1154.8,1164.2 L1157.5,1162.2 L1160.1,1160.2 L1162.6,1158.4 L1165.1,1156.5 L1167.6,1154.7 L1170.2,1152.9 L1172.9,1151 L1175.7,1149.1 L1178.7,1147.1 L1181.7,1144.9 L1184.7,1142.7 L1187.7,1140.4 L1190.9,1138 L1194.3,1135.7 L1198,1133.4 L1202,1131.3 L1206.5,1129.3 L1211.2,1127.5 L1216,1125.9 L1220.9,1124.5 L1226.2,1123.1 L1232.1,1121.7 L1238.6,1120.2 L1246,1118.5 L1254.4,1116.7 L1264.6,1114.5 L1276.9,1111.9 L1290.6,1109.2 L1304.6,1106.4 L1318.4,1103.6 L1330.9,1101.2 L1341.3,1099.1 L1349,1097.6" fill="none" stroke="#0d0887" stroke-width="3" stroke-dasharray="8.5,15.5"/>
<circle cx="1206.5" cy="1129.3" r="3.3" fill="none" stroke="#0d0887" stroke-width="2.2"/>
<path d="M1133,1177.2 L1135.6,1174.3 L1139,1170.4 L1143.1,1165.6 L1147.6,1160.4 L1152.3,1155 L1157,1149.7 L1161.4,1144.8 L1165.3,1140.6 L1168.8,1136.9 L1172.1,1133.5 L1175.3,1130.3 L1178.4,1127.3 L1181.4,1124.5 L1184.5,1121.7 L1187.7,1119.1 L1190.9,1116.5 L1194.2,1114 L1197.5,1111.5 L1200.8,1109.1 L1204.2,1106.8 L1207.6,1104.7 L1211.2,1102.8 L1214.9,1101 L1218.7,1099.5 L1222.5,1098.3 L1226.2,1097.5 L1229.8,1097 L1233.6,1096.5 L1237.7,1096.2 L1242.4,1095.8 L1247.9,1095.2 L1254.4,1094.4 L1262.2,1093.2 L1271.5,1091.9 L1281.8,1090.4 L1292.5,1088.9 L1303.2,1087.4 L1313.3,1086 L1322.4,1084.7 L1330,1083.7 L1336.3,1082.8 L1341.7,1082.1 L1346.4,1081.6 L1350.3,1081.1 L1353.8,1080.7 L1356.6,1080.4 L1359.1,1080.1 L1361.2,1079.8 L1361.2,1081.7 L1359.1,1082.4 L1356.6,1083.2 L1353.8,1084.1 L1350.3,1085.1 L1346.4,1086.4 L1341.7,1087.8 L1336.3,1089.4 L1330,1091.3 L1322.4,1093.5 L1313.3,1096.2 L1303.2,1099.1 L1292.5,1102.2 L1281.8,1105.3 L1271.5,1108.3 L1262.2,1111 L1254.4,1113.5 L1247.9,1115.5 L1242.4,1117.2 L1237.7,1118.8 L1233.6,1120.2 L1229.8,1121.6 L1226.2,1123 L1222.5,1124.5 L1218.7,1126.2 L1214.9,1128.1 L1211.2,1130.1 L1207.6,1132.2 L1204.2,1134.3 L1200.8,1136.4 L1197.5,1138.7 L1194.2,1140.9 L1190.9,1143.2 L1187.7,1145.7 L1184.5,1148.2 L1181.4,1150.8 L1178.4,1153.5 L1175.3,1156.1 L1172.1,1158.7 L1168.8,1161.2 L1165.3,1163.5 L1161.4,1165.8 L1157,1168.1 L1152.3,1170.4 L1147.6,1172.6 L1143.1,1174.6 L1139,1176.4 L1135.6,1178 L1133,1179.2Z" fill="#7801a8" fill-opacity="0.33"/>
<path d="M1133,1178.2 L1135.6,1176.1 L1139,1173.4 L1143.1,1170 L1147.6,1166.4 L1152.3,1162.6 L1157,1158.8 L1161.4,1155.2 L1165.3,1152 L1168.8,1149.2 L1172.1,1146.5 L1175.3,1143.9 L1178.4,1141.5 L1181.4,1139 L1184.5,1136.6 L1187.7,1134.2 L1190.9,1131.8 L1194.2,1129.3 L1197.5,1126.7 L1200.8,1124.2 L1204.2,1121.6 L1207.6,1119.2 L1211.2,1116.9 L1214.9,1114.8 L1218.7,1112.9 L1222.5,1111.3 L1226.2,1110.1 L1229.8,1109.1 L1233.6,1108.2 L1237.7,1107.4 L1242.4,1106.4 L1247.9,1105.3 L1254.4,1103.9 L1262.2,1102.1 L1271.5,1100.1 L1281.8,1097.9 L1292.5,1095.5 L1303.2,1093.2 L1313.3,1091.1 L1322.4,1089.1 L1330,1087.5 L1336.3,1086.1 L1341.7,1085 L1346.4,1084 L1350.3,1083.1 L1353.8,1082.4 L1356.6,1081.8 L1359.1,1081.2 L1361.2,1080.8" fill="none" stroke="#7801a8" stroke-width="3" stroke-dasharray="8.5,15.5"/>
<circle cx="1218.7" cy="1112.9" r="3.3" fill="none" stroke="#7801a8" stroke-width="2.2"/>
<path d="M1653.9,1177.2 L1658.2,1176.9 L1664.1,1176.4 L1671,1175.9 L1678.7,1175.3 L1686.7,1174.6 L1694.8,1174 L1702.5,1173.5 L1709.6,1173 L1715.8,1172.7 L1721.5,1172.5 L1726.9,1172.3 L1732.3,1172.1 L1737.9,1171.9 L1744,1171.7 L1750.8,1171.5 L1758.5,1171.1 L1767.7,1170.7 L1778.4,1170.1 L1790,1169.5 L1801.9,1168.9 L1813.7,1168.2 L1824.6,1167.7 L1834.3,1167.3 L1842,1167.1 L1847.9,1167.1 L1852.4,1167.3 L1855.8,1167.7 L1858.4,1168.1 L1860.2,1168.6 L1861.7,1169 L1863,1169.4 L1864.3,1169.6 L1864.3,1171.5 L1863,1171.8 L1861.7,1172.2 L1860.2,1172.7 L1858.4,1173.2 L1855.8,1173.8 L1852.4,1174.4 L1847.9,1175 L1842,1175.7 L1834.3,1176.5 L1824.6,1177.4 L1813.7,1178.4 L1801.9,1179.4 L1790,1180.4 L1778.4,1181.3 L1767.7,1182 L1758.5,1182.6 L1750.8,1182.9 L1744,1183.2 L1737.9,1183.2 L1732.3,1183.2 L1726.9,1183.1 L1721.5,1183 L1715.8,1182.8 L1709.6,1182.6 L1702.5,1182.3 L1694.8,1181.9 L1686.7,1181.4 L1678.7,1180.9 L1671,1180.3 L1664.1,1179.9 L1658.2,1179.4 L1653.9,1179.2Z" fill="#f79044" fill-opacity="0.3"/>
<path d="M1653.9,1178.2 L1658.2,1178.2 L1664.1,1178.1 L1671,1178.1 L1678.7,1178.1 L1686.7,1178 L1694.8,1178 L1702.5,1177.9 L1709.6,1177.8 L1715.8,1177.8 L1721.5,1177.7 L1726.9,1177.7 L1732.3,1177.6 L1737.9,1177.5 L1744,1177.4 L1750.8,1177.2 L1758.5,1176.9 L1767.7,1176.4 L1778.4,1175.8 L1790,1175.1 L1801.9,1174.4 L1813.7,1173.7 L1824.6,1173 L1834.3,1172.4 L1842,1171.9 L1847.9,1171.5 L1852.4,1171.3 L1855.8,1171.1 L1858.4,1170.9 L1860.2,1170.8 L1861.7,1170.7 L1863,1170.6 L1864.3,1170.6" fill="none" stroke="#f79044" stroke-width="3" stroke-dasharray="8.5,15.5"/>
<circle cx="1758.5" cy="1176.9" r="4.6" fill="#f79044"/>
<path d="M1659.5,1177.2 L1663.3,1176.2 L1668.4,1174.7 L1674.5,1172.9 L1681.2,1170.9 L1688.4,1168.9 L1695.7,1167 L1702.9,1165.3 L1709.6,1163.9 L1715.8,1162.7 L1721.8,1161.8 L1727.8,1160.9 L1733.8,1160.2 L1740.1,1159.5 L1746.8,1159 L1754,1158.4 L1761.9,1158 L1770.9,1157.5 L1781.2,1157.1 L1792.3,1156.8 L1803.6,1156.5 L1814.7,1156.3 L1825.2,1156.2 L1834.4,1156.2 L1842,1156.2 L1848,1156.5 L1852.8,1156.9 L1856.7,1157.4 L1859.8,1158 L1862.3,1158.7 L1864.3,1159.2 L1866,1159.7 L1867.6,1160.1 L1867.6,1162 L1866,1162.5 L1864.3,1163.2 L1862.3,1164 L1859.8,1165 L1856.7,1165.9 L1852.8,1166.9 L1848,1167.8 L1842,1168.7 L1834.4,1169.4 L1825.2,1170.2 L1814.7,1171 L1803.6,1171.7 L1792.3,1172.4 L1781.2,1173.1 L1770.9,1173.7 L1761.9,1174.2 L1754,1174.6 L1746.8,1174.9 L1740.1,1175.2 L1733.8,1175.4 L1727.8,1175.6 L1721.8,1175.8 L1715.8,1176 L1709.6,1176.3 L1702.9,1176.6 L1695.7,1177 L1688.4,1177.4 L1681.2,1177.9 L1674.5,1178.3 L1668.4,1178.6 L1663.3,1178.9 L1659.5,1179.2Z" fill="#f0804e" fill-opacity="0.3"/>
<path d="M1659.5,1178.2 L1663.3,1177.6 L1668.4,1176.7 L1674.5,1175.7 L1681.2,1174.6 L1688.4,1173.5 L1695.7,1172.4 L1702.9,1171.4 L1709.6,1170.6 L1715.8,1169.9 L1721.8,1169.3 L1727.8,1168.8 L1733.8,1168.3 L1740.1,1167.9 L1746.8,1167.4 L1754,1167 L1761.9,1166.5 L1770.9,1166.1 L1781.2,1165.6 L1792.3,1165.1 L1803.6,1164.6 L1814.7,1164.1 L1825.2,1163.7 L1834.4,1163.3 L1842,1162.9 L1848,1162.6 L1852.8,1162.3 L1856.7,1162 L1859.8,1161.7 L1862.3,1161.5 L1864.3,1161.3 L1866,1161.1 L1867.6,1161" fill="none" stroke="#f0804e" stroke-width="3" stroke-dasharray="8.5,15.5"/>
<circle cx="1761.9" cy="1166.5" r="3.3" fill="none" stroke="#f0804e" stroke-width="2.2"/>
<path d="M1665,1177.2 L1668.4,1175.3 L1672.9,1172.6 L1678.2,1169.4 L1684.1,1165.8 L1690.4,1162.2 L1696.9,1158.6 L1703.4,1155.3 L1709.6,1152.4 L1715.4,1149.8 L1721.2,1147.3 L1726.9,1144.8 L1732.9,1142.5 L1739.1,1140.4 L1745.7,1138.6 L1752.9,1137.2 L1760.8,1136.2 L1769.4,1135.7 L1778.8,1135.6 L1788.8,1135.9 L1799.2,1136.4 L1809.8,1137.3 L1820.6,1138.2 L1831.4,1139.3 L1842,1140.4 L1853.2,1141.7 L1865.4,1143.4 L1878,1145.2 L1890.5,1147.2 L1902.4,1149.2 L1913.1,1151 L1922.1,1152.5 L1928.8,1153.6 L1928.8,1155.5 L1922.1,1155.3 L1913.1,1155.1 L1902.4,1154.8 L1890.5,1154.5 L1878,1154.2 L1865.4,1154 L1853.2,1153.8 L1842,1153.8 L1831.4,1153.7 L1820.6,1153.6 L1809.8,1153.6 L1799.2,1153.6 L1788.8,1153.7 L1778.8,1154 L1769.4,1154.5 L1760.8,1155.3 L1752.9,1156.4 L1745.7,1157.9 L1739.1,1159.6 L1732.9,1161.4 L1726.9,1163.3 L1721.2,1165.2 L1715.4,1167 L1709.6,1168.7 L1703.4,1170.2 L1696.9,1171.7 L1690.4,1173.3 L1684.1,1174.7 L1678.2,1176.1 L1672.9,1177.3 L1668.4,1178.4 L1665,1179.2Z" fill="#e56a5d" fill-opacity="0.3"/>
<path d="M1665,1178.2 L1668.4,1176.9 L1672.9,1175.1 L1678.2,1172.9 L1684.1,1170.6 L1690.4,1168.1 L1696.9,1165.6 L1703.4,1163.2 L1709.6,1161 L1715.4,1158.9 L1721.2,1156.7 L1726.9,1154.4 L1732.9,1152.2 L1739.1,1150.2 L1745.7,1148.3 L1752.9,1146.8 L1760.8,1145.7 L1769.4,1145.1 L1778.8,1144.8 L1788.8,1144.7 L1799.2,1145 L1809.8,1145.4 L1820.6,1145.9 L1831.4,1146.5 L1842,1147.1 L1853.2,1147.8 L1865.4,1148.7 L1878,1149.7 L1890.5,1150.9 L1902.4,1152 L1913.1,1153 L1922.1,1153.9 L1928.8,1154.5" fill="none" stroke="#e56a5d" stroke-width="3" stroke-dasharray="8.5,15.5"/>
<circle cx="1760.8" cy="1145.7" r="4.6" fill="#e56a5d"/>
<path d="M1676.2,1175.3 L1679.5,1173.1 L1684,1170 L1689.2,1166.4 L1695.1,1162.4 L1701.4,1158.3 L1707.9,1154.3 L1714.4,1150.7 L1720.7,1147.6 L1726.6,1145.2 L1732.2,1142.9 L1737.8,1140.9 L1743.6,1139.1 L1749.9,1137.5 L1756.9,1136 L1764.9,1134.6 L1774.1,1133.3 L1785.3,1132.1 L1798.4,1131 L1812.9,1130.1 L1827.9,1129.3 L1842.8,1128.6 L1856.9,1128.1 L1869.5,1127.7 L1879.8,1127.6 L1888.2,1127.7 L1895.2,1128.1 L1901.1,1128.8 L1905.9,1129.5 L1910,1130.3 L1913.4,1131.1 L1916.3,1131.7 L1918.8,1132.2 L1918.8,1134.1 L1916.3,1134.2 L1913.4,1134.4 L1910,1134.5 L1905.9,1134.8 L1901.1,1135.1 L1895.2,1135.6 L1888.2,1136.2 L1879.8,1137.1 L1869.5,1138.3 L1856.9,1139.8 L1842.8,1141.4 L1827.9,1143.2 L1812.9,1145.1 L1798.4,1147 L1785.3,1148.8 L1774.1,1150.5 L1764.9,1152.1 L1756.9,1153.6 L1749.9,1155.1 L1743.6,1156.7 L1737.8,1158.2 L1732.2,1159.7 L1726.6,1161.3 L1720.7,1162.9 L1714.4,1164.7 L1707.9,1166.7 L1701.4,1168.8 L1695.1,1170.9 L1689.2,1172.8 L1684,1174.6 L1679.5,1176.1 L1676.2,1177.2Z" fill="#cc4778" fill-opacity="0.3"/>
<path d="M1676.2,1176.3 L1679.5,1174.6 L1684,1172.3 L1689.2,1169.6 L1695.1,1166.6 L1701.4,1163.5 L1707.9,1160.5 L1714.4,1157.7 L1720.7,1155.3 L1726.6,1153.2 L1732.2,1151.3 L1737.8,1149.5 L1743.6,1147.9 L1749.9,1146.3 L1756.9,1144.8 L1764.9,1143.3 L1774.1,1141.9 L1785.3,1140.5 L1798.4,1139 L1812.9,1137.6 L1827.9,1136.3 L1842.8,1135 L1856.9,1133.9 L1869.5,1133 L1879.8,1132.4 L1888.2,1132 L1895.2,1131.8 L1901.1,1131.9 L1905.9,1132.1 L1910,1132.4 L1913.4,1132.7 L1916.3,1133 L1918.8,1133.1" fill="none" stroke="#cc4778" stroke-width="3" stroke-dasharray="8.5,15.5"/>
<circle cx="1774.1" cy="1141.9" r="3.3" fill="none" stroke="#cc4778" stroke-width="2.2"/>
<path d="M1682.8,1174 L1686.4,1171.5 L1691.3,1168.1 L1697.1,1164 L1703.4,1159.6 L1710.1,1155 L1716.7,1150.6 L1722.9,1146.7 L1728.5,1143.4 L1733,1140.9 L1736.8,1138.6 L1740.1,1136.6 L1743.4,1134.9 L1747.1,1133.4 L1751.5,1132.1 L1757.1,1130.9 L1764.1,1129.9 L1773.1,1129 L1784,1128.4 L1796.1,1128 L1808.8,1127.7 L1821.7,1127.6 L1834.1,1127.6 L1845.5,1127.6 L1855.4,1127.8 L1863.9,1128 L1872,1128.5 L1879.4,1129.1 L1886.1,1129.8 L1892.1,1130.6 L1897.4,1131.2 L1901.9,1131.8 L1905.4,1132.2 L1905.4,1134.1 L1901.9,1134.4 L1897.4,1134.9 L1892.1,1135.4 L1886.1,1136 L1879.4,1136.7 L1872,1137.5 L1863.9,1138.3 L1855.4,1139.2 L1845.5,1140.2 L1834.1,1141.3 L1821.7,1142.5 L1808.8,1143.7 L1796.1,1145 L1784,1146.3 L1773.1,1147.6 L1764.1,1149 L1757.1,1150.3 L1751.5,1151.7 L1747.1,1153 L1743.4,1154.5 L1740.1,1155.9 L1736.8,1157.4 L1733,1159 L1728.5,1160.6 L1722.9,1162.5 L1716.7,1164.6 L1710.1,1166.8 L1703.4,1169 L1697.1,1171.1 L1691.3,1173.1 L1686.4,1174.7 L1682.8,1175.9Z" fill="#b22b8f" fill-opacity="0.3"/>
<path d="M1682.8,1175 L1686.4,1173.1 L1691.3,1170.6 L1697.1,1167.6 L1703.4,1164.3 L1710.1,1160.9 L1716.7,1157.6 L1722.9,1154.6 L1728.5,1152 L1733,1149.9 L1736.8,1148 L1740.1,1146.3 L1743.4,1144.7 L1747.1,1143.2 L1751.5,1141.9 L1757.1,1140.6 L1764.1,1139.4 L1773.1,1138.3 L1784,1137.3 L1796.1,1136.5 L1808.8,1135.7 L1821.7,1135 L1834.1,1134.4 L1845.5,1133.9 L1855.4,1133.5 L1863.9,1133.2 L1872,1133 L1879.4,1132.9 L1886.1,1132.9 L1892.1,1133 L1897.4,1133.1 L1901.9,1133.1 L1905.4,1133.1" fill="none" stroke="#b22b8f" stroke-width="3" stroke-dasharray="8.5,15.5"/>
<circle cx="1764.1" cy="1139.4" r="3.3" fill="none" stroke="#b22b8f" stroke-width="2.2"/>
<path d="M1700.7,1177.2 L1702,1175.6 L1703.7,1173.5 L1705.7,1171.1 L1708,1168.3 L1710.6,1165.3 L1713.6,1162 L1716.9,1158.7 L1720.7,1155.3 L1725,1151.6 L1730,1147.5 L1735.4,1143.1 L1741.1,1138.6 L1747,1134.1 L1752.9,1129.9 L1758.7,1126.1 L1764.1,1122.8 L1769,1120.1 L1773.5,1117.9 L1777.8,1116 L1782.1,1114.3 L1786.7,1112.8 L1791.7,1111.4 L1797.5,1110 L1804.2,1108.5 L1811.8,1107 L1820.3,1105.5 L1829.4,1104.2 L1838.9,1102.9 L1848.9,1101.5 L1859.2,1100.2 L1869.5,1098.8 L1879.8,1097.2 L1890.9,1095.5 L1903.3,1093.5 L1916.2,1091.4 L1929.1,1089.3 L1941.4,1087.2 L1952.6,1085.4 L1961.9,1083.8 L1968.9,1082.7 L1968.9,1084.6 L1961.9,1086.7 L1952.6,1089.4 L1941.4,1092.8 L1929.1,1096.4 L1916.2,1100.2 L1903.3,1104 L1890.9,1107.5 L1879.8,1110.6 L1869.5,1113.3 L1859.2,1115.9 L1848.9,1118.4 L1838.9,1120.7 L1829.4,1123 L1820.3,1125.2 L1811.8,1127.4 L1804.2,1129.5 L1797.5,1131.5 L1791.7,1133.3 L1786.7,1134.9 L1782.1,1136.6 L1777.8,1138.3 L1773.5,1140.2 L1769,1142.3 L1764.1,1144.8 L1758.7,1147.8 L1752.9,1151.3 L1747,1155.2 L1741.1,1159.2 L1735.4,1163.1 L1730,1166.7 L1725,1169.9 L1720.7,1172.5 L1716.9,1174.4 L1713.6,1175.8 L1710.6,1176.8 L1708,1177.5 L1705.7,1178.1 L1703.7,1178.4 L1702,1178.8 L1700.7,1179.2Z" fill="#7801a8" fill-opacity="0.33"/>
<path d="M1700.7,1178.2 L1702,1177.3 L1703.7,1176.2 L1705.7,1174.9 L1708,1173.4 L1710.6,1171.7 L1713.6,1169.7 L1716.9,1167.4 L1720.7,1164.8 L1725,1161.7 L1730,1158 L1735.4,1154 L1741.1,1149.7 L1747,1145.4 L1752.9,1141.2 L1758.7,1137.5 L1764.1,1134.3 L1769,1131.6 L1773.5,1129.4 L1777.8,1127.4 L1782.1,1125.7 L1786.7,1124 L1791.7,1122.4 L1797.5,1120.8 L1804.2,1119 L1811.8,1117.1 L1820.3,1115.3 L1829.4,1113.5 L1838.9,1111.8 L1848.9,1109.9 L1859.2,1108 L1869.5,1106 L1879.8,1103.9 L1890.9,1101.5 L1903.3,1098.7 L1916.2,1095.8 L1929.1,1092.8 L1941.4,1090 L1952.6,1087.4 L1961.9,1085.3 L1968.9,1083.7" fill="none" stroke="#7801a8" stroke-width="3" stroke-dasharray="8.5,15.5"/>
<circle cx="1776.3" cy="1128" r="3.3" fill="none" stroke="#7801a8" stroke-width="2.2"/>
<path d="M1685.1,1177.2 L1686.4,1175 L1688.2,1171.9 L1690.3,1168.3 L1692.7,1164.3 L1695.3,1160 L1697.9,1155.8 L1700.4,1151.8 L1702.9,1148.2 L1705.3,1144.8 L1707.8,1141.4 L1710.3,1138 L1712.9,1134.7 L1715.5,1131.6 L1718,1128.7 L1720.5,1126 L1722.9,1123.8 L1724.9,1122 L1726.2,1120.6 L1727.2,1119.6 L1728.3,1118.7 L1729.9,1118 L1732.3,1117.2 L1735.7,1116.2 L1740.7,1115 L1747.4,1113.4 L1755.5,1111.7 L1764.8,1109.8 L1774.9,1107.9 L1785.4,1105.9 L1796.1,1104.1 L1806.5,1102.4 L1816.4,1100.8 L1826.5,1099.5 L1837.3,1098.2 L1848.5,1097 L1859.5,1096 L1870,1095 L1879.4,1094.1 L1887.3,1093.4 L1893.2,1092.8 L1893.2,1094.7 L1887.3,1096.2 L1879.4,1098.2 L1870,1100.5 L1859.5,1103.1 L1848.5,1105.8 L1837.3,1108.7 L1826.5,1111.5 L1816.4,1114.2 L1806.5,1117 L1796.1,1119.9 L1785.4,1122.9 L1774.9,1126 L1764.8,1129 L1755.5,1131.9 L1747.4,1134.6 L1740.7,1136.9 L1735.7,1139 L1732.3,1140.6 L1729.9,1142.1 L1728.3,1143.4 L1727.2,1144.8 L1726.2,1146.1 L1724.9,1147.7 L1722.9,1149.5 L1720.5,1151.7 L1718,1154.2 L1715.5,1156.8 L1712.9,1159.6 L1710.3,1162.2 L1707.8,1164.8 L1705.3,1167.2 L1702.9,1169.2 L1700.4,1171 L1697.9,1172.6 L1695.3,1174.1 L1692.7,1175.4 L1690.3,1176.6 L1688.2,1177.6 L1686.4,1178.5 L1685.1,1179.2Z" fill="#0d0887" fill-opacity="0.33"/>
<path d="M1685.1,1178.2 L1686.4,1176.8 L1688.2,1174.9 L1690.3,1172.7 L1692.7,1170.3 L1695.3,1167.7 L1697.9,1165 L1700.4,1162.3 L1702.9,1159.7 L1705.3,1157.1 L1707.8,1154.3 L1710.3,1151.4 L1712.9,1148.5 L1715.5,1145.7 L1718,1142.9 L1720.5,1140.4 L1722.9,1138.1 L1724.9,1136.1 L1726.2,1134.5 L1727.2,1133 L1728.3,1131.6 L1729.9,1130.3 L1732.3,1128.9 L1735.7,1127.3 L1740.7,1125.5 L1747.4,1123.4 L1755.5,1121.1 L1764.8,1118.6 L1774.9,1116 L1785.4,1113.5 L1796.1,1111 L1806.5,1108.7 L1816.4,1106.6 L1826.5,1104.6 L1837.3,1102.6 L1848.5,1100.8 L1859.5,1099 L1870,1097.4 L1879.4,1095.9 L1887.3,1094.7 L1893.2,1093.8" fill="none" stroke="#0d0887" stroke-width="3" stroke-dasharray="8.5,15.5"/>
<circle cx="1740.7" cy="1125.5" r="3.3" fill="none" stroke="#0d0887" stroke-width="2.2"/>
<line x1="471" y1="842.1" x2="916.3" y2="842.1" stroke="#111" stroke-width="1.6" />
<line x1="504.2" y1="842.9" x2="783.6" y2="842.9" stroke="#000" stroke-width="2.4" />
<line x1="1023.3" y1="842.1" x2="1468.1" y2="842.1" stroke="#111" stroke-width="1.6" />
<line x1="1058.4" y1="842.9" x2="1212" y2="842.9" stroke="#000" stroke-width="2.4" />
<line x1="1571.9" y1="842.1" x2="2017.2" y2="842.1" stroke="#111" stroke-width="1.6" />
<line x1="1610.5" y1="842.9" x2="1826.4" y2="842.9" stroke="#000" stroke-width="2.4" />
<line x1="470.9" y1="1178.2" x2="916.1" y2="1178.2" stroke="#111" stroke-width="1.6" />
<line x1="518.6" y1="1179" x2="835.8" y2="1179" stroke="#000" stroke-width="2.4" />
<line x1="1023.2" y1="1178.2" x2="1468.1" y2="1178.2" stroke="#111" stroke-width="1.6" />
<line x1="1129.7" y1="1179" x2="1213.2" y2="1179" stroke="#000" stroke-width="2.4" />
<line x1="1572.2" y1="1178.2" x2="2016.8" y2="1178.2" stroke="#111" stroke-width="1.6" />
<line x1="1657.2" y1="1179" x2="1812" y2="1179" stroke="#000" stroke-width="2.4" />
<rect x="471" y="746.5" width="445.3" height="191.2" fill="none" stroke="#111" stroke-width="1.8"/>
<line x1="465" y1="937.7" x2="471" y2="937.7" stroke="#111" stroke-width="1.6" />
<text transform="translate(456,944.3) scale(1.1,1)" font-size="19.3" text-anchor="end">−5</text>
<line x1="465" y1="918.6" x2="471" y2="918.6" stroke="#111" stroke-width="1.6" />
<text transform="translate(456,925.2) scale(1.1,1)" font-size="19.3" text-anchor="end">−4</text>
<line x1="465" y1="899.5" x2="471" y2="899.5" stroke="#111" stroke-width="1.6" />
<text transform="translate(456,906.1) scale(1.1,1)" font-size="19.3" text-anchor="end">−3</text>
<line x1="465" y1="880.3" x2="471" y2="880.3" stroke="#111" stroke-width="1.6" />
<text transform="translate(456,886.9) scale(1.1,1)" font-size="19.3" text-anchor="end">−2</text>
<line x1="465" y1="861.2" x2="471" y2="861.2" stroke="#111" stroke-width="1.6" />
<text transform="translate(456,867.8) scale(1.1,1)" font-size="19.3" text-anchor="end">−1</text>
<line x1="465" y1="842.1" x2="471" y2="842.1" stroke="#111" stroke-width="1.6" />
<text transform="translate(456,848.7) scale(1.1,1)" font-size="19.3" text-anchor="end">0</text>
<line x1="465" y1="823" x2="471" y2="823" stroke="#111" stroke-width="1.6" />
<text transform="translate(456,829.6) scale(1.1,1)" font-size="19.3" text-anchor="end">1</text>
<line x1="465" y1="803.9" x2="471" y2="803.9" stroke="#111" stroke-width="1.6" />
<text transform="translate(456,810.5) scale(1.1,1)" font-size="19.3" text-anchor="end">2</text>
<line x1="465" y1="784.7" x2="471" y2="784.7" stroke="#111" stroke-width="1.6" />
<text transform="translate(456,791.3) scale(1.1,1)" font-size="19.3" text-anchor="end">3</text>
<line x1="465" y1="765.6" x2="471" y2="765.6" stroke="#111" stroke-width="1.6" />
<text transform="translate(456,772.2) scale(1.1,1)" font-size="19.3" text-anchor="end">4</text>
<line x1="465" y1="746.5" x2="471" y2="746.5" stroke="#111" stroke-width="1.6" />
<text transform="translate(456,753.1) scale(1.1,1)" font-size="19.3" text-anchor="end">5</text>
<line x1="475.3" y1="937.7" x2="475.3" y2="943.7" stroke="#111" stroke-width="1.6" />
<text transform="translate(475.3,966) scale(1.1,1)" font-size="19.3" text-anchor="middle">0</text>
<line x1="586.6" y1="937.7" x2="586.6" y2="943.7" stroke="#111" stroke-width="1.6" />
<text transform="translate(586.6,966) scale(1.1,1)" font-size="19.3" text-anchor="middle">1</text>
<line x1="697.9" y1="937.7" x2="697.9" y2="943.7" stroke="#111" stroke-width="1.6" />
<text transform="translate(697.9,966) scale(1.1,1)" font-size="19.3" text-anchor="middle">2</text>
<line x1="809.2" y1="937.7" x2="809.2" y2="943.7" stroke="#111" stroke-width="1.6" />
<text transform="translate(809.2,966) scale(1.1,1)" font-size="19.3" text-anchor="middle">3</text>
<text transform="translate(420.4,839.1) rotate(-90)" font-size="21.7" text-anchor="middle" textLength="167" lengthAdjust="spacingAndGlyphs">log<tspan font-size="13.5" dy="7">2</tspan><tspan dy="-7">(fold change)</tspan></text>
<text x="549.3" y="996.6" font-size="21.7" textLength="291" lengthAdjust="spacingAndGlyphs">log<tspan font-size="13.5" dy="7">10</tspan><tspan dy="-7">(reads per lineage [RPM])</tspan></text>
<circle cx="509" cy="901.3" r="22.1" fill="#333333"/>
<path d="M509,901.3 L509,879.2 A22.1,22.1 0 0 0 488,894.5 Z" fill="#00f800"/>
<circle cx="509" cy="901.3" r="22.1" fill="none" stroke="#000" stroke-width="2.2"/>
<text x="546.5" y="896.6" font-size="21.7" textLength="129.5" lengthAdjust="spacingAndGlyphs">GFP-puro:WT</text>
<text x="590.3" y="923.9" font-size="21.7" text-anchor="middle">20</text>
<text x="660.9" y="923.9" font-size="21.7" text-anchor="middle">80</text>
<rect x="1023.3" y="746.5" width="444.8" height="191.2" fill="none" stroke="#111" stroke-width="1.8"/>
<line x1="1017.3" y1="937.7" x2="1023.3" y2="937.7" stroke="#111" stroke-width="1.6" />
<text transform="translate(1008.3,944.3) scale(1.1,1)" font-size="19.3" text-anchor="end">−5</text>
<line x1="1017.3" y1="918.6" x2="1023.3" y2="918.6" stroke="#111" stroke-width="1.6" />
<text transform="translate(1008.3,925.2) scale(1.1,1)" font-size="19.3" text-anchor="end">−4</text>
<line x1="1017.3" y1="899.5" x2="1023.3" y2="899.5" stroke="#111" stroke-width="1.6" />
<text transform="translate(1008.3,906.1) scale(1.1,1)" font-size="19.3" text-anchor="end">−3</text>
<line x1="1017.3" y1="880.3" x2="1023.3" y2="880.3" stroke="#111" stroke-width="1.6" />
<text transform="translate(1008.3,886.9) scale(1.1,1)" font-size="19.3" text-anchor="end">−2</text>
<line x1="1017.3" y1="861.2" x2="1023.3" y2="861.2" stroke="#111" stroke-width="1.6" />
<text transform="translate(1008.3,867.8) scale(1.1,1)" font-size="19.3" text-anchor="end">−1</text>
<line x1="1017.3" y1="842.1" x2="1023.3" y2="842.1" stroke="#111" stroke-width="1.6" />
<text transform="translate(1008.3,848.7) scale(1.1,1)" font-size="19.3" text-anchor="end">0</text>
<line x1="1017.3" y1="823" x2="1023.3" y2="823" stroke="#111" stroke-width="1.6" />
<text transform="translate(1008.3,829.6) scale(1.1,1)" font-size="19.3" text-anchor="end">1</text>
<line x1="1017.3" y1="803.9" x2="1023.3" y2="803.9" stroke="#111" stroke-width="1.6" />
<text transform="translate(1008.3,810.5) scale(1.1,1)" font-size="19.3" text-anchor="end">2</text>
<line x1="1017.3" y1="784.7" x2="1023.3" y2="784.7" stroke="#111" stroke-width="1.6" />
<text transform="translate(1008.3,791.3) scale(1.1,1)" font-size="19.3" text-anchor="end">3</text>
<line x1="1017.3" y1="765.6" x2="1023.3" y2="765.6" stroke="#111" stroke-width="1.6" />
<text transform="translate(1008.3,772.2) scale(1.1,1)" font-size="19.3" text-anchor="end">4</text>
<line x1="1017.3" y1="746.5" x2="1023.3" y2="746.5" stroke="#111" stroke-width="1.6" />
<text transform="translate(1008.3,753.1) scale(1.1,1)" font-size="19.3" text-anchor="end">5</text>
<line x1="1027.2" y1="937.7" x2="1027.2" y2="943.7" stroke="#111" stroke-width="1.6" />
<text transform="translate(1027.2,966) scale(1.1,1)" font-size="19.3" text-anchor="middle">0</text>
<line x1="1138.5" y1="937.7" x2="1138.5" y2="943.7" stroke="#111" stroke-width="1.6" />
<text transform="translate(1138.5,966) scale(1.1,1)" font-size="19.3" text-anchor="middle">1</text>
<line x1="1249.8" y1="937.7" x2="1249.8" y2="943.7" stroke="#111" stroke-width="1.6" />
<text transform="translate(1249.8,966) scale(1.1,1)" font-size="19.3" text-anchor="middle">2</text>
<line x1="1361.1" y1="937.7" x2="1361.1" y2="943.7" stroke="#111" stroke-width="1.6" />
<text transform="translate(1361.1,966) scale(1.1,1)" font-size="19.3" text-anchor="middle">3</text>
<text transform="translate(972.7,839.1) rotate(-90)" font-size="21.7" text-anchor="middle" textLength="167" lengthAdjust="spacingAndGlyphs">log<tspan font-size="13.5" dy="7">2</tspan><tspan dy="-7">(fold change)</tspan></text>
<text x="1101" y="996.9" font-size="21.7" textLength="291" lengthAdjust="spacingAndGlyphs">log<tspan font-size="13.5" dy="7">10</tspan><tspan dy="-7">(reads per lineage [RPM])</tspan></text>
<circle cx="1060.9" cy="901.5" r="22.1" fill="#333333"/>
<path d="M1060.9,901.5 L1060.9,879.4 A22.1,22.1 0 0 0 1039.9,894.7 Z" fill="#00f800"/>
<circle cx="1060.9" cy="901.5" r="22.1" fill="none" stroke="#000" stroke-width="2.2"/>
<text x="1098.6" y="896.8" font-size="21.7" textLength="129.5" lengthAdjust="spacingAndGlyphs">GFP-puro:WT</text>
<text x="1142.4" y="925" font-size="21.7" text-anchor="middle">20</text>
<text x="1213.5" y="925" font-size="21.7" text-anchor="middle">80</text>
<rect x="1571.9" y="746.5" width="445.3" height="191.2" fill="none" stroke="#111" stroke-width="1.8"/>
<line x1="1565.9" y1="937.7" x2="1571.9" y2="937.7" stroke="#111" stroke-width="1.6" />
<text transform="translate(1556.9,944.3) scale(1.1,1)" font-size="19.3" text-anchor="end">−5</text>
<line x1="1565.9" y1="918.6" x2="1571.9" y2="918.6" stroke="#111" stroke-width="1.6" />
<text transform="translate(1556.9,925.2) scale(1.1,1)" font-size="19.3" text-anchor="end">−4</text>
<line x1="1565.9" y1="899.5" x2="1571.9" y2="899.5" stroke="#111" stroke-width="1.6" />
<text transform="translate(1556.9,906.1) scale(1.1,1)" font-size="19.3" text-anchor="end">−3</text>
<line x1="1565.9" y1="880.3" x2="1571.9" y2="880.3" stroke="#111" stroke-width="1.6" />
<text transform="translate(1556.9,886.9) scale(1.1,1)" font-size="19.3" text-anchor="end">−2</text>
<line x1="1565.9" y1="861.2" x2="1571.9" y2="861.2" stroke="#111" stroke-width="1.6" />
<text transform="translate(1556.9,867.8) scale(1.1,1)" font-size="19.3" text-anchor="end">−1</text>
<line x1="1565.9" y1="842.1" x2="1571.9" y2="842.1" stroke="#111" stroke-width="1.6" />
<text transform="translate(1556.9,848.7) scale(1.1,1)" font-size="19.3" text-anchor="end">0</text>
<line x1="1565.9" y1="823" x2="1571.9" y2="823" stroke="#111" stroke-width="1.6" />
<text transform="translate(1556.9,829.6) scale(1.1,1)" font-size="19.3" text-anchor="end">1</text>
<line x1="1565.9" y1="803.9" x2="1571.9" y2="803.9" stroke="#111" stroke-width="1.6" />
<text transform="translate(1556.9,810.5) scale(1.1,1)" font-size="19.3" text-anchor="end">2</text>
<line x1="1565.9" y1="784.7" x2="1571.9" y2="784.7" stroke="#111" stroke-width="1.6" />
<text transform="translate(1556.9,791.3) scale(1.1,1)" font-size="19.3" text-anchor="end">3</text>
<line x1="1565.9" y1="765.6" x2="1571.9" y2="765.6" stroke="#111" stroke-width="1.6" />
<text transform="translate(1556.9,772.2) scale(1.1,1)" font-size="19.3" text-anchor="end">4</text>
<line x1="1565.9" y1="746.5" x2="1571.9" y2="746.5" stroke="#111" stroke-width="1.6" />
<text transform="translate(1556.9,753.1) scale(1.1,1)" font-size="19.3" text-anchor="end">5</text>
<line x1="1576" y1="937.7" x2="1576" y2="943.7" stroke="#111" stroke-width="1.6" />
<text transform="translate(1576,966) scale(1.1,1)" font-size="19.3" text-anchor="middle">0</text>
<line x1="1687.3" y1="937.7" x2="1687.3" y2="943.7" stroke="#111" stroke-width="1.6" />
<text transform="translate(1687.3,966) scale(1.1,1)" font-size="19.3" text-anchor="middle">1</text>
<line x1="1798.6" y1="937.7" x2="1798.6" y2="943.7" stroke="#111" stroke-width="1.6" />
<text transform="translate(1798.6,966) scale(1.1,1)" font-size="19.3" text-anchor="middle">2</text>
<line x1="1909.9" y1="937.7" x2="1909.9" y2="943.7" stroke="#111" stroke-width="1.6" />
<text transform="translate(1909.9,966) scale(1.1,1)" font-size="19.3" text-anchor="middle">3</text>
<text transform="translate(1521.3,839.1) rotate(-90)" font-size="21.7" text-anchor="middle" textLength="167" lengthAdjust="spacingAndGlyphs">log<tspan font-size="13.5" dy="7">2</tspan><tspan dy="-7">(fold change)</tspan></text>
<text x="1649.6" y="996.9" font-size="21.7" textLength="291" lengthAdjust="spacingAndGlyphs">log<tspan font-size="13.5" dy="7">10</tspan><tspan dy="-7">(reads per lineage [RPM])</tspan></text>
<circle cx="1612.5" cy="901.1" r="22.1" fill="#333333"/>
<path d="M1612.5,901.1 L1612.5,879 A22.1,22.1 0 0 0 1591.5,894.3 Z" fill="#00f800"/>
<circle cx="1612.5" cy="901.1" r="22.1" fill="none" stroke="#000" stroke-width="2.2"/>
<text x="1649.4" y="895.6" font-size="21.7" textLength="129.5" lengthAdjust="spacingAndGlyphs">GFP-puro:WT</text>
<text x="1694" y="923.2" font-size="21.7" text-anchor="middle">20</text>
<text x="1764.5" y="923.2" font-size="21.7" text-anchor="middle">80</text>
<rect x="470.9" y="1082.7" width="445.2" height="191" fill="none" stroke="#111" stroke-width="1.8"/>
<line x1="464.9" y1="1273.7" x2="470.9" y2="1273.7" stroke="#111" stroke-width="1.6" />
<text transform="translate(455.9,1280.3) scale(1.1,1)" font-size="19.3" text-anchor="end">−5</text>
<line x1="464.9" y1="1254.6" x2="470.9" y2="1254.6" stroke="#111" stroke-width="1.6" />
<text transform="translate(455.9,1261.2) scale(1.1,1)" font-size="19.3" text-anchor="end">−4</text>
<line x1="464.9" y1="1235.5" x2="470.9" y2="1235.5" stroke="#111" stroke-width="1.6" />
<text transform="translate(455.9,1242.1) scale(1.1,1)" font-size="19.3" text-anchor="end">−3</text>
<line x1="464.9" y1="1216.4" x2="470.9" y2="1216.4" stroke="#111" stroke-width="1.6" />
<text transform="translate(455.9,1223) scale(1.1,1)" font-size="19.3" text-anchor="end">−2</text>
<line x1="464.9" y1="1197.3" x2="470.9" y2="1197.3" stroke="#111" stroke-width="1.6" />
<text transform="translate(455.9,1203.9) scale(1.1,1)" font-size="19.3" text-anchor="end">−1</text>
<line x1="464.9" y1="1178.2" x2="470.9" y2="1178.2" stroke="#111" stroke-width="1.6" />
<text transform="translate(455.9,1184.8) scale(1.1,1)" font-size="19.3" text-anchor="end">0</text>
<line x1="464.9" y1="1159.1" x2="470.9" y2="1159.1" stroke="#111" stroke-width="1.6" />
<text transform="translate(455.9,1165.7) scale(1.1,1)" font-size="19.3" text-anchor="end">1</text>
<line x1="464.9" y1="1140" x2="470.9" y2="1140" stroke="#111" stroke-width="1.6" />
<text transform="translate(455.9,1146.6) scale(1.1,1)" font-size="19.3" text-anchor="end">2</text>
<line x1="464.9" y1="1120.9" x2="470.9" y2="1120.9" stroke="#111" stroke-width="1.6" />
<text transform="translate(455.9,1127.5) scale(1.1,1)" font-size="19.3" text-anchor="end">3</text>
<line x1="464.9" y1="1101.8" x2="470.9" y2="1101.8" stroke="#111" stroke-width="1.6" />
<text transform="translate(455.9,1108.4) scale(1.1,1)" font-size="19.3" text-anchor="end">4</text>
<line x1="464.9" y1="1082.7" x2="470.9" y2="1082.7" stroke="#111" stroke-width="1.6" />
<text transform="translate(455.9,1089.3) scale(1.1,1)" font-size="19.3" text-anchor="end">5</text>
<line x1="475.2" y1="1273.7" x2="475.2" y2="1279.7" stroke="#111" stroke-width="1.6" />
<text transform="translate(475.2,1302) scale(1.1,1)" font-size="19.3" text-anchor="middle">0</text>
<line x1="586.5" y1="1273.7" x2="586.5" y2="1279.7" stroke="#111" stroke-width="1.6" />
<text transform="translate(586.5,1302) scale(1.1,1)" font-size="19.3" text-anchor="middle">1</text>
<line x1="697.8" y1="1273.7" x2="697.8" y2="1279.7" stroke="#111" stroke-width="1.6" />
<text transform="translate(697.8,1302) scale(1.1,1)" font-size="19.3" text-anchor="middle">2</text>
<line x1="809.1" y1="1273.7" x2="809.1" y2="1279.7" stroke="#111" stroke-width="1.6" />
<text transform="translate(809.1,1302) scale(1.1,1)" font-size="19.3" text-anchor="middle">3</text>
<text transform="translate(420.3,1175.2) rotate(-90)" font-size="21.7" text-anchor="middle" textLength="167" lengthAdjust="spacingAndGlyphs">log<tspan font-size="13.5" dy="7">2</tspan><tspan dy="-7">(fold change)</tspan></text>
<text x="549" y="1333.8" font-size="21.7" textLength="291" lengthAdjust="spacingAndGlyphs">log<tspan font-size="13.5" dy="7">10</tspan><tspan dy="-7">(reads per lineage [RPM])</tspan></text>
<circle cx="508.9" cy="1225.4" r="22.1" fill="#333333"/>
<path d="M508.9,1225.4 L508.9,1203.3 A22.1,22.1 0 0 0 495.9,1207.5 Z" fill="#00f800"/>
<circle cx="508.9" cy="1225.4" r="22.1" fill="none" stroke="#000" stroke-width="2.2"/>
<text x="545.4" y="1220.3" font-size="21.7" textLength="129.5" lengthAdjust="spacingAndGlyphs">GFP-puro:WT</text>
<text x="590" y="1248.2" font-size="21.7" text-anchor="middle">10</text>
<text x="658.9" y="1248.2" font-size="21.7" text-anchor="middle">90</text>
<rect x="1023.2" y="1082.7" width="444.9" height="191" fill="none" stroke="#111" stroke-width="1.8"/>
<line x1="1017.2" y1="1273.7" x2="1023.2" y2="1273.7" stroke="#111" stroke-width="1.6" />
<text transform="translate(1008.2,1280.3) scale(1.1,1)" font-size="19.3" text-anchor="end">−5</text>
<line x1="1017.2" y1="1254.6" x2="1023.2" y2="1254.6" stroke="#111" stroke-width="1.6" />
<text transform="translate(1008.2,1261.2) scale(1.1,1)" font-size="19.3" text-anchor="end">−4</text>
<line x1="1017.2" y1="1235.5" x2="1023.2" y2="1235.5" stroke="#111" stroke-width="1.6" />
<text transform="translate(1008.2,1242.1) scale(1.1,1)" font-size="19.3" text-anchor="end">−3</text>
<line x1="1017.2" y1="1216.4" x2="1023.2" y2="1216.4" stroke="#111" stroke-width="1.6" />
<text transform="translate(1008.2,1223) scale(1.1,1)" font-size="19.3" text-anchor="end">−2</text>
<line x1="1017.2" y1="1197.3" x2="1023.2" y2="1197.3" stroke="#111" stroke-width="1.6" />
<text transform="translate(1008.2,1203.9) scale(1.1,1)" font-size="19.3" text-anchor="end">−1</text>
<line x1="1017.2" y1="1178.2" x2="1023.2" y2="1178.2" stroke="#111" stroke-width="1.6" />
<text transform="translate(1008.2,1184.8) scale(1.1,1)" font-size="19.3" text-anchor="end">0</text>
<line x1="1017.2" y1="1159.1" x2="1023.2" y2="1159.1" stroke="#111" stroke-width="1.6" />
<text transform="translate(1008.2,1165.7) scale(1.1,1)" font-size="19.3" text-anchor="end">1</text>
<line x1="1017.2" y1="1140" x2="1023.2" y2="1140" stroke="#111" stroke-width="1.6" />
<text transform="translate(1008.2,1146.6) scale(1.1,1)" font-size="19.3" text-anchor="end">2</text>
<line x1="1017.2" y1="1120.9" x2="1023.2" y2="1120.9" stroke="#111" stroke-width="1.6" />
<text transform="translate(1008.2,1127.5) scale(1.1,1)" font-size="19.3" text-anchor="end">3</text>
<line x1="1017.2" y1="1101.8" x2="1023.2" y2="1101.8" stroke="#111" stroke-width="1.6" />
<text transform="translate(1008.2,1108.4) scale(1.1,1)" font-size="19.3" text-anchor="end">4</text>
<line x1="1017.2" y1="1082.7" x2="1023.2" y2="1082.7" stroke="#111" stroke-width="1.6" />
<text transform="translate(1008.2,1089.3) scale(1.1,1)" font-size="19.3" text-anchor="end">5</text>
<line x1="1027.3" y1="1273.7" x2="1027.3" y2="1279.7" stroke="#111" stroke-width="1.6" />
<text transform="translate(1027.3,1302) scale(1.1,1)" font-size="19.3" text-anchor="middle">0</text>
<line x1="1138.6" y1="1273.7" x2="1138.6" y2="1279.7" stroke="#111" stroke-width="1.6" />
<text transform="translate(1138.6,1302) scale(1.1,1)" font-size="19.3" text-anchor="middle">1</text>
<line x1="1249.9" y1="1273.7" x2="1249.9" y2="1279.7" stroke="#111" stroke-width="1.6" />
<text transform="translate(1249.9,1302) scale(1.1,1)" font-size="19.3" text-anchor="middle">2</text>
<line x1="1361.2" y1="1273.7" x2="1361.2" y2="1279.7" stroke="#111" stroke-width="1.6" />
<text transform="translate(1361.2,1302) scale(1.1,1)" font-size="19.3" text-anchor="middle">3</text>
<text transform="translate(972.6,1175.2) rotate(-90)" font-size="21.7" text-anchor="middle" textLength="167" lengthAdjust="spacingAndGlyphs">log<tspan font-size="13.5" dy="7">2</tspan><tspan dy="-7">(fold change)</tspan></text>
<text x="1101.5" y="1333.8" font-size="21.7" textLength="291" lengthAdjust="spacingAndGlyphs">log<tspan font-size="13.5" dy="7">10</tspan><tspan dy="-7">(reads per lineage [RPM])</tspan></text>
<circle cx="1062" cy="1224.6" r="22.1" fill="#333333"/>
<path d="M1062,1224.6 L1062,1202.5 A22.1,22.1 0 0 0 1049,1206.7 Z" fill="#00f800"/>
<circle cx="1062" cy="1224.6" r="22.1" fill="none" stroke="#000" stroke-width="2.2"/>
<text x="1099.7" y="1219.5" font-size="21.7" textLength="129.5" lengthAdjust="spacingAndGlyphs">GFP-puro:WT</text>
<text x="1143" y="1246.9" font-size="21.7" text-anchor="middle">10</text>
<text x="1212.2" y="1246.9" font-size="21.7" text-anchor="middle">90</text>
<rect x="1572.2" y="1082.7" width="444.6" height="191" fill="none" stroke="#111" stroke-width="1.8"/>
<line x1="1566.2" y1="1273.7" x2="1572.2" y2="1273.7" stroke="#111" stroke-width="1.6" />
<text transform="translate(1557.2,1280.3) scale(1.1,1)" font-size="19.3" text-anchor="end">−5</text>
<line x1="1566.2" y1="1254.6" x2="1572.2" y2="1254.6" stroke="#111" stroke-width="1.6" />
<text transform="translate(1557.2,1261.2) scale(1.1,1)" font-size="19.3" text-anchor="end">−4</text>
<line x1="1566.2" y1="1235.5" x2="1572.2" y2="1235.5" stroke="#111" stroke-width="1.6" />
<text transform="translate(1557.2,1242.1) scale(1.1,1)" font-size="19.3" text-anchor="end">−3</text>
<line x1="1566.2" y1="1216.4" x2="1572.2" y2="1216.4" stroke="#111" stroke-width="1.6" />
<text transform="translate(1557.2,1223) scale(1.1,1)" font-size="19.3" text-anchor="end">−2</text>
<line x1="1566.2" y1="1197.3" x2="1572.2" y2="1197.3" stroke="#111" stroke-width="1.6" />
<text transform="translate(1557.2,1203.9) scale(1.1,1)" font-size="19.3" text-anchor="end">−1</text>
<line x1="1566.2" y1="1178.2" x2="1572.2" y2="1178.2" stroke="#111" stroke-width="1.6" />
<text transform="translate(1557.2,1184.8) scale(1.1,1)" font-size="19.3" text-anchor="end">0</text>
<line x1="1566.2" y1="1159.1" x2="1572.2" y2="1159.1" stroke="#111" stroke-width="1.6" />
<text transform="translate(1557.2,1165.7) scale(1.1,1)" font-size="19.3" text-anchor="end">1</text>
<line x1="1566.2" y1="1140" x2="1572.2" y2="1140" stroke="#111" stroke-width="1.6" />
<text transform="translate(1557.2,1146.6) scale(1.1,1)" font-size="19.3" text-anchor="end">2</text>
<line x1="1566.2" y1="1120.9" x2="1572.2" y2="1120.9" stroke="#111" stroke-width="1.6" />
<text transform="translate(1557.2,1127.5) scale(1.1,1)" font-size="19.3" text-anchor="end">3</text>
<line x1="1566.2" y1="1101.8" x2="1572.2" y2="1101.8" stroke="#111" stroke-width="1.6" />
<text transform="translate(1557.2,1108.4) scale(1.1,1)" font-size="19.3" text-anchor="end">4</text>
<line x1="1566.2" y1="1082.7" x2="1572.2" y2="1082.7" stroke="#111" stroke-width="1.6" />
<text transform="translate(1557.2,1089.3) scale(1.1,1)" font-size="19.3" text-anchor="end">5</text>
<line x1="1576" y1="1273.7" x2="1576" y2="1279.7" stroke="#111" stroke-width="1.6" />
<text transform="translate(1576,1302) scale(1.1,1)" font-size="19.3" text-anchor="middle">0</text>
<line x1="1687.3" y1="1273.7" x2="1687.3" y2="1279.7" stroke="#111" stroke-width="1.6" />
<text transform="translate(1687.3,1302) scale(1.1,1)" font-size="19.3" text-anchor="middle">1</text>
<line x1="1798.6" y1="1273.7" x2="1798.6" y2="1279.7" stroke="#111" stroke-width="1.6" />
<text transform="translate(1798.6,1302) scale(1.1,1)" font-size="19.3" text-anchor="middle">2</text>
<line x1="1909.9" y1="1273.7" x2="1909.9" y2="1279.7" stroke="#111" stroke-width="1.6" />
<text transform="translate(1909.9,1302) scale(1.1,1)" font-size="19.3" text-anchor="middle">3</text>
<text transform="translate(1521.6,1175.2) rotate(-90)" font-size="21.7" text-anchor="middle" textLength="167" lengthAdjust="spacingAndGlyphs">log<tspan font-size="13.5" dy="7">2</tspan><tspan dy="-7">(fold change)</tspan></text>
<text x="1649.5" y="1333.8" font-size="21.7" textLength="291" lengthAdjust="spacingAndGlyphs">log<tspan font-size="13.5" dy="7">10</tspan><tspan dy="-7">(reads per lineage [RPM])</tspan></text>
<circle cx="1614.8" cy="1223.3" r="22.1" fill="#333333"/>
<path d="M1614.8,1223.3 L1614.8,1201.2 A22.1,22.1 0 0 0 1601.8,1205.4 Z" fill="#00f800"/>
<circle cx="1614.8" cy="1223.3" r="22.1" fill="none" stroke="#000" stroke-width="2.2"/>
<text x="1652.8" y="1218.3" font-size="21.7" textLength="129.5" lengthAdjust="spacingAndGlyphs">GFP-puro:WT</text>
<text x="1696.4" y="1245.6" font-size="21.7" text-anchor="middle">10</text>
<text x="1765.3" y="1245.6" font-size="21.7" text-anchor="middle">90</text>
<circle cx="615" cy="724.8" r="19" fill="#00f800"/>
<text x="615" y="732.4" font-size="21.7" text-anchor="middle">P</text>
<text x="640.8" y="731" font-size="21.7" text-anchor="middle">/</text>
<circle cx="669.5" cy="724.8" r="19" fill="#333333"/>
<text transform="translate(669.5,732.4) scale(0.9,1)" font-size="21.7" text-anchor="middle" fill="#fff">WT</text>
<text x="696" y="731" font-size="21.7">- No puro</text>
<circle cx="1175.6" cy="722.4" r="19" fill="#00f800"/>
<text x="1175.6" y="730" font-size="21.7" text-anchor="middle">P</text>
<text x="1201" y="729.3" font-size="21.7" text-anchor="middle">/</text>
<circle cx="1230" cy="722.4" r="19" fill="#333333"/>
<text transform="translate(1230,730) scale(0.9,1)" font-size="21.7" text-anchor="middle" fill="#fff">WT</text>
<text x="1255" y="729.3" font-size="21.7">- With puro</text>
<circle cx="1692.7" cy="720.9" r="19" fill="#00f800"/>
<text x="1692.7" y="728.5" font-size="21.7" text-anchor="middle">P</text>
<text x="1712.6" y="728.4" font-size="21.7">With puro</text>
<text x="1808.5" y="728.4" font-size="21.7" text-anchor="middle">/</text>
<circle cx="1836.1" cy="720.9" r="19" fill="#00f800"/>
<text x="1836.1" y="728.5" font-size="21.7" text-anchor="middle">P</text>
<text x="1860.4" y="728.4" font-size="21.7">No puro</text>
<circle cx="606.5" cy="1053.6" r="19" fill="#00f800"/>
<text x="606.5" y="1061.2" font-size="21.7" text-anchor="middle">P</text>
<text x="631.8" y="1059.9" font-size="21.7" text-anchor="middle">/</text>
<circle cx="661" cy="1053.6" r="19" fill="#333333"/>
<text transform="translate(661,1061.2) scale(0.9,1)" font-size="21.7" text-anchor="middle" fill="#fff">WT</text>
<text x="687.6" y="1059.9" font-size="21.7">- No puro</text>
<circle cx="1175.5" cy="1053.6" r="19" fill="#00f800"/>
<text x="1175.5" y="1061.2" font-size="21.7" text-anchor="middle">P</text>
<text x="1200.8" y="1060" font-size="21.7" text-anchor="middle">/</text>
<circle cx="1230" cy="1053.6" r="19" fill="#333333"/>
<text transform="translate(1230,1061.2) scale(0.9,1)" font-size="21.7" text-anchor="middle" fill="#fff">WT</text>
<text x="1256" y="1060" font-size="21.7">- With puro</text>
<circle cx="1704.7" cy="1053.6" r="19" fill="#00f800"/>
<text x="1704.7" y="1061.2" font-size="21.7" text-anchor="middle">P</text>
<text x="1724.7" y="1060" font-size="21.7">With puro</text>
<text x="1821" y="1060" font-size="21.7" text-anchor="middle">/</text>
<circle cx="1849.6" cy="1053.6" r="19" fill="#00f800"/>
<text x="1849.6" y="1061.2" font-size="21.7" text-anchor="middle">P</text>
<text x="1873.7" y="1060" font-size="21.7">No puro</text>
<rect x="2066.4" y="742" width="32.1" height="31.6" fill="#0d0887" stroke="#111" stroke-width="1.5"/>
<line x1="2098.5" y1="757.8" x2="2104" y2="757.8" stroke="#111" stroke-width="1.5" />
<text transform="translate(2112,764.6) scale(1.1,1)" font-size="19.3">42</text>
<rect x="2066.4" y="773.6" width="32.1" height="31.6" fill="#7801a8" stroke="#111" stroke-width="1.5"/>
<line x1="2098.5" y1="789.4" x2="2104" y2="789.4" stroke="#111" stroke-width="1.5" />
<text transform="translate(2112,796.2) scale(1.1,1)" font-size="19.3">32</text>
<rect x="2066.4" y="805.2" width="32.1" height="31.6" fill="#b22b8f" stroke="#111" stroke-width="1.5"/>
<line x1="2098.5" y1="821" x2="2104" y2="821" stroke="#111" stroke-width="1.5" />
<text transform="translate(2112,827.8) scale(1.1,1)" font-size="19.3">25</text>
<rect x="2066.4" y="836.8" width="32.1" height="31.6" fill="#cc4778" stroke="#111" stroke-width="1.5"/>
<line x1="2098.5" y1="852.6" x2="2104" y2="852.6" stroke="#111" stroke-width="1.5" />
<text transform="translate(2112,859.4) scale(1.1,1)" font-size="19.3">21</text>
<rect x="2066.4" y="868.4" width="32.1" height="31.6" fill="#e56a5d" stroke="#111" stroke-width="1.5"/>
<line x1="2098.5" y1="884.2" x2="2104" y2="884.2" stroke="#111" stroke-width="1.5" />
<text transform="translate(2112,891) scale(1.1,1)" font-size="19.3">16</text>
<rect x="2066.4" y="900" width="32.1" height="31.6" fill="#f0804e" stroke="#111" stroke-width="1.5"/>
<line x1="2098.5" y1="915.8" x2="2104" y2="915.8" stroke="#111" stroke-width="1.5" />
<text transform="translate(2112,922.5) scale(1.1,1)" font-size="19.3">13</text>
<rect x="2066.4" y="931.5" width="32.1" height="31.6" fill="#f79044" stroke="#111" stroke-width="1.5"/>
<line x1="2098.5" y1="947.3" x2="2104" y2="947.3" stroke="#111" stroke-width="1.5" />
<text transform="translate(2112,954.1) scale(1.1,1)" font-size="19.3">11</text>
<rect x="2066.4" y="963.1" width="32.1" height="31.6" fill="#fba238" stroke="#111" stroke-width="1.5"/>
<line x1="2098.5" y1="978.9" x2="2104" y2="978.9" stroke="#111" stroke-width="1.5" />
<text transform="translate(2112,985.7) scale(1.1,1)" font-size="19.3">9</text>
<rect x="2066.4" y="994.7" width="32.1" height="31.6" fill="#febd2a" stroke="#111" stroke-width="1.5"/>
<line x1="2098.5" y1="1010.5" x2="2104" y2="1010.5" stroke="#111" stroke-width="1.5" />
<text transform="translate(2112,1017.3) scale(1.1,1)" font-size="19.3">6</text>
<rect x="2066.4" y="1026.3" width="32.1" height="31.6" fill="#fada24" stroke="#111" stroke-width="1.5"/>
<line x1="2098.5" y1="1042.1" x2="2104" y2="1042.1" stroke="#111" stroke-width="1.5" />
<text transform="translate(2112,1048.9) scale(1.1,1)" font-size="19.3">3</text>
<rect x="2066.4" y="1057.9" width="32.1" height="31.6" fill="#f3ee27" stroke="#111" stroke-width="1.5"/>
<line x1="2098.5" y1="1073.7" x2="2104" y2="1073.7" stroke="#111" stroke-width="1.5" />
<text transform="translate(2112,1080.5) scale(1.1,1)" font-size="19.3">1</text>
<text transform="translate(2149.5,915) rotate(90)" font-size="21.7" text-anchor="middle">Day</text>
<rect x="2032" y="1136" width="24" height="24" fill="#a1abb1" stroke="#111" stroke-width="1.6"/>
<line x1="2064.3" y1="1141" x2="2064.3" y2="1155" stroke="#111" stroke-width="2.2" />
<line x1="2061.8" y1="1141.2" x2="2066.8" y2="1141.2" stroke="#111" stroke-width="1.8" />
<line x1="2061.8" y1="1154.8" x2="2066.8" y2="1154.8" stroke="#111" stroke-width="1.8" />
<text x="2079" y="1155" font-size="21.7">Height of</text>
<text x="2079" y="1180.1" font-size="21.7">maximal</text>
<text x="2079" y="1205.1" font-size="21.7">lineage</text>
<text x="2079" y="1230.2" font-size="21.7">number</text>
</svg>
</body></html>
